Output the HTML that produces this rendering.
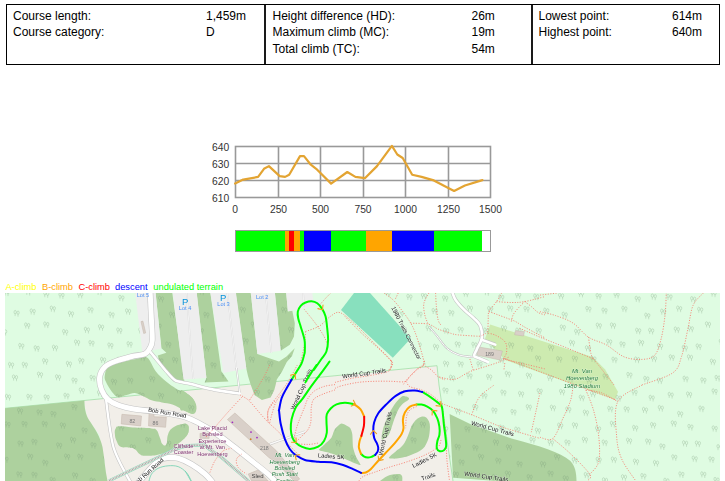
<!DOCTYPE html>
<html><head><meta charset="utf-8">
<style>
html,body{margin:0;padding:0;background:#fff;}
body{width:725px;height:481px;position:relative;overflow:hidden;font-family:"Liberation Sans",sans-serif;color:#000;}
.tbl{position:absolute;left:6px;top:4px;width:712px;height:59px;border:1px solid #000;}
.vl{position:absolute;top:0;width:1px;height:59px;background:#1a1a1a;}
.t{position:absolute;font-size:12px;line-height:16px;white-space:nowrap;}
.lg{position:absolute;top:282px;font-size:9.3px;line-height:11px;white-space:nowrap;}
#map{position:absolute;left:5px;top:293px;width:715px;height:188px;}
#chart{position:absolute;left:0;top:0;width:725px;height:293px;}
</style></head><body>
<div class="tbl">
<div class="vl" style="left:257px;width:2px"></div>
<div class="vl" style="left:524px;width:2px"></div>
</div>
<div class="t" style="left:13px;top:8px">Course length:</div>
<div class="t" style="left:13px;top:24.3px">Course category:</div>
<div class="t" style="left:206px;top:8px">1,459m</div>
<div class="t" style="left:206px;top:24.3px">D</div>
<div class="t" style="left:272.5px;top:8px">Height difference (HD):</div>
<div class="t" style="left:272.5px;top:24.3px">Maximum climb (MC):</div>
<div class="t" style="left:272.5px;top:40.6px">Total climb (TC):</div>
<div class="t" style="left:471.5px;top:8px">26m</div>
<div class="t" style="left:471.5px;top:24.3px">19m</div>
<div class="t" style="left:471.5px;top:40.6px">54m</div>
<div class="t" style="left:538.5px;top:8px">Lowest point:</div>
<div class="t" style="left:538.5px;top:24.3px">Highest point:</div>
<div class="t" style="left:672px;top:8px">614m</div>
<div class="t" style="left:672px;top:24.3px">640m</div>

<svg id="chart" viewBox="0 0 725 293">
<g stroke="#999" stroke-width="1.6" fill="none">
<rect x="235.5" y="146.5" width="255" height="51"/>
<path d="M235 163.5H491M235 180.5H491M278.5 146V198M320.5 146V198M363.5 146V198M405.5 146V198M448.5 146V198"/>
</g>
<polyline fill="none" stroke="#e3a432" stroke-width="2.2" stroke-linejoin="round" stroke-linecap="round" points="235.1,183.6 243.2,179.6 258.1,176.9 264,168.8 268.9,166.1 279.7,176.1 285.1,176.9 289.2,174.7 300,156.1 304,156.1 310.8,164.7 316.2,168.8 331.1,183.6 347.3,172 355.4,176.9 364.9,178.2 377,166.1 391.9,145.8 397.3,154.5 402.7,158 412.2,174.7 421.6,176.9 433.8,180.4 454.1,191 464.9,185.5 482.4,180.1"/>
<g font-family="Liberation Sans, sans-serif" font-size="10.3" fill="#333">
<g text-anchor="end"><text x="229.3" y="150.6">640</text><text x="229.3" y="167.6">630</text><text x="229.3" y="184.6">620</text><text x="229.3" y="201.6">610</text></g>
<g text-anchor="middle"><text x="235" y="212.6">0</text><text x="278.5" y="212.6">250</text><text x="320.5" y="212.6">500</text><text x="363" y="212.6">750</text><text x="405.5" y="212.6">1000</text><text x="448.5" y="212.6">1250</text><text x="490.5" y="212.6">1500</text></g>
</g>
<g shape-rendering="crispEdges">
<rect x="235" y="230" width="256" height="22" fill="#fff"/>
<rect x="235" y="230" width="50" height="22" fill="#00ff00"/>
<rect x="285" y="230" width="4" height="22" fill="#ffa500"/>
<rect x="289" y="230" width="5" height="22" fill="#ff0000"/>
<rect x="294" y="230" width="6" height="22" fill="#ffa500"/>
<rect x="300" y="230" width="4" height="22" fill="#00ff00"/>
<rect x="304" y="230" width="27" height="22" fill="#0000ff"/>
<rect x="331" y="230" width="35" height="22" fill="#00ff00"/>
<rect x="366" y="230" width="26" height="22" fill="#ffa500"/>
<rect x="392" y="230" width="42" height="22" fill="#0000ff"/>
<rect x="434" y="230" width="48" height="22" fill="#00ff00"/>
<rect x="235.5" y="230.5" width="255" height="21" fill="none" stroke="#999"/>
</g>
</svg>

<div class="lg" style="left:5.4px;color:#ffff00">A-climb</div>
<div class="lg" style="left:42px;color:#ffa500">B-climb</div>
<div class="lg" style="left:78.5px;color:#ff0000">C-climb</div>
<div class="lg" style="left:115px;color:#0000ff">descent</div>
<div class="lg" style="left:153.3px;color:#00ff00">undulated terrain</div>

<svg id="map" viewBox="5 293 715 188">
<rect x="5" y="293" width="715" height="188" fill="#dffce2"/>
<path d="M84,400.5 L437,365.7 L439,385 L453,481 L106.8,481 L104.3,459.5 L99.3,434.7 L86.9,417.3Z" fill="#f2efe9" />
<path d="M5,408.3 L437,365.7 L439,385 L453,481" fill="none" stroke="#a3dfa8" stroke-width="0.8"/>
<path d="M5,408.3 L84.4,400.5 C84.5,408 85.5,414 89,420 C95,429 100,436 102.5,447 C104.5,458 105,470 107.5,481 L5,481Z" fill="#add19e" />
<path d="M155.6,293 L172.3,293 L184.4,381 L176,379.5 L168,372 L159.6,362.5 L157.8,355.6 L166.4,352.8 L161.5,348.2Z" fill="#add19e" />
<path d="M196.6,293 L210.4,293 L221.3,371.2 L228.5,381.6 L204.6,382.6 L206.4,378Z" fill="#add19e" />
<path d="M235.6,293 L250.8,293 L257.4,354 L270,358.5 L279,361.5 L286.5,356.5 L294.7,348.3 L292,356 L286.8,362 L281.8,371.9 L276.8,379.4 L275.6,385 L274.3,390 L270.6,397.4 L261.9,399.9 L254.5,394.9 L250.8,385 L248,376 L246.3,368.5Z" fill="#add19e" />
<path d="M274.9,293 L286.2,293 L287.9,311.6 L292.3,310.8 L294.8,323.2 L294,336.5 L289.8,344.8 L280.7,350.7Z" fill="#add19e" />
<path d="M104.8,375.4 C105.2,373.0 105.7,369.1 107.9,367.0 C110.2,364.9 113.5,364.3 118.3,362.9 C123.1,361.5 132.2,359.6 137.0,358.7 C141.8,357.8 144.3,355.6 147.4,357.7 C150.5,359.8 152.6,367.2 155.7,371.2 C158.8,375.2 162.6,378.7 166.1,381.6 C169.6,384.6 172.7,386.6 176.5,388.9 C180.3,391.1 185.9,392.9 189.0,395.1 C192.1,397.4 194.1,400.0 195.3,402.4 C196.5,404.8 196.7,407.8 196.3,409.7 C196.0,411.6 195.1,413.7 193.2,413.9 C191.3,414.1 188.4,412.3 184.9,410.7 C181.4,409.1 176.2,405.9 172.4,404.5 C168.6,403.1 165.5,403.1 162.0,402.4 C158.5,401.7 154.7,401.3 151.6,400.3 C148.5,399.3 146.1,397.4 143.3,396.2 C140.5,395.0 137.7,393.3 134.9,393.1 C132.1,392.9 129.4,394.4 126.6,395.1 C123.8,395.8 120.7,397.7 118.3,397.2 C115.9,396.7 114.1,394.6 112.0,392.0 C109.9,389.4 107.0,384.4 105.8,381.6 C104.6,378.8 104.4,377.8 104.8,375.4Z" fill="#add19e" />
<path d="M115.7,428.4 C116.9,426.6 115.4,426.5 119.9,426.3 C124.4,426.1 127.5,427.1 134.9,427.6 C142.3,428.1 146.5,427.8 151.5,428.4 C156.5,429.0 154.6,428.0 156.5,430.1 C158.4,432.2 158.4,434.4 159.8,437.6 C161.2,440.8 160.8,442.4 162.3,443.9 C163.8,445.4 165.0,446.5 166.4,444.2 C167.8,441.9 166.5,438.1 168.1,434.2 C169.7,430.3 170.0,429.9 173.1,427.6 C176.2,425.3 178.1,425.1 181.4,424.3 C184.7,423.5 185.4,423.1 187.2,424.3 C188.9,425.5 189.1,426.6 188.9,429.3 C188.7,432.0 188.5,432.8 186.4,435.9 C184.3,439.0 183.2,439.5 179.7,442.6 C176.2,445.7 176.0,446.5 171.4,449.2 C166.8,451.9 165.6,452.7 159.8,454.2 C154.0,455.7 151.2,455.8 146.5,455.8 C141.8,455.8 142.5,455.7 139.8,454.2 C137.1,452.7 137.6,450.8 134.9,449.2 C132.2,447.6 131.5,448.1 128.2,447.5 C124.9,446.9 123.4,448.2 120.7,446.7 C118.0,445.2 118.0,443.8 116.6,440.9 C115.2,438.0 115.1,437.1 114.9,434.2 C114.7,431.3 114.5,430.2 115.7,428.4Z" fill="#add19e" />
<path d="M180.0,391.2 C181.2,388.7 185.1,392.2 187.4,393.7 C189.7,395.1 192.2,397.4 193.7,399.9 C195.1,402.4 196.3,406.3 196.1,408.6 C195.9,410.9 194.2,413.2 192.4,413.6 C190.6,414.0 187.1,411.9 185.0,411.1 C182.9,410.3 180.8,411.9 180.0,408.6 C179.2,405.3 178.8,393.7 180.0,391.2Z" fill="#add19e" />
<path d="M185.0,424.3 C185.4,422.8 186.9,426.2 187.5,427.6 C188.1,429.0 188.7,431.1 188.3,432.6 C187.9,434.1 185.6,438.1 185.0,436.7 C184.4,435.3 184.6,425.8 185.0,424.3Z" fill="#add19e" />
<path d="M319.0,450.0 C318.7,449.2 323.6,445.4 324.8,444.2 C326.1,443.0 330.5,439.1 331.5,437.6 C332.5,436.1 333.8,430.7 334.8,429.3 C335.8,427.9 340.0,423.6 341.5,423.4 C343.0,423.2 348.7,426.5 349.8,427.6 C350.9,428.7 352.0,432.2 352.3,434.2 C352.6,436.2 352.7,445.2 353.1,447.5 C353.5,449.8 355.6,455.8 356.4,457.5 C357.1,459.2 361.1,464.6 360.6,465.0 C360.1,465.4 353.6,462.6 351.4,461.7 C349.1,460.8 340.4,456.7 338.1,455.8 C335.8,454.9 330.1,453.1 328.2,452.5 C326.3,451.9 319.3,450.8 319.0,450.0Z" fill="#add19e" />
<path d="M381.6,438.2 C381.6,435.2 382.6,429.5 384.9,423.2 C387.2,416.9 390.0,411.7 393.2,406.6 C396.4,401.5 398.4,399.6 400.7,397.5 C403.0,395.4 403.2,396.0 404.9,396.3 C406.6,396.6 409.7,397.4 409.0,399.1 C408.3,400.8 404.1,402.2 401.6,405.0 C399.1,407.8 398.4,409.3 396.6,413.3 C394.8,417.3 393.9,420.8 392.4,424.9 C390.9,429.0 390.6,431.3 389.1,434.0 C387.6,436.7 386.4,437.4 384.9,438.2 C383.4,439.0 381.6,441.2 381.6,438.2Z" fill="#add19e" />
<path d="M389.1,457.3 C389.9,455.9 392.9,454.0 395.7,451.5 C398.5,449.0 400.7,448.1 403.2,444.8 C405.7,441.5 406.2,439.2 408.2,434.9 C410.2,430.6 410.4,426.9 413.2,423.2 C416.0,419.5 419.1,416.9 422.3,416.6 C425.5,416.3 427.6,418.3 429.0,421.6 C430.4,424.9 430.0,428.9 429.5,433.2 C429.0,437.5 428.1,439.9 426.5,443.2 C424.9,446.5 424.5,447.5 421.5,449.8 C418.5,452.1 415.8,453.1 411.5,454.8 C407.2,456.5 403.9,457.4 399.9,458.1 C395.9,458.8 393.8,458.7 391.6,458.5 C389.4,458.3 388.3,458.7 389.1,457.3Z" fill="#add19e" />
<path d="M449.6,414.1 L470.7,424.3 L511.4,438.5 C540,446 560,452 570.4,460.9 C575,466 576.5,472 576.5,481 L497,481 L453,477.8Z" fill="#add19e" />
<path d="M380,481 C381.5,480.0 384.1,477.4 387.5,476 C390.9,474.6 394.2,474.1 397,474 C399.8,473.9 400.6,474.0 401.7,475.4 C402.8,476.8 402.2,479.9 402.3,481Z" fill="#add19e" />
<path d="M341,309.9 L354,293 L370,293 L410.8,338.4 L392.8,357.8Z" fill="#88e0be" />
<path d="M490.2,324.6 L592.7,357.1 L604.9,369.3 L618,391.7 L615.1,399.8 L505.3,360 L485,338.8Z" fill="#cdebb0" />
<clipPath id="forestclip"><path d="M5,293 L150,293 L152,340 L149,349 L131,356 L115,361 L104,368 L99,378 L101,390 L106,398 L84,400.5 L5,408.3Z"/><path d="M383.6,293 L720,293 L720,481 L453,481 L439,385 L437,365.7 L423.3,364.5 L422,354.5 L418.3,342.1 L409.7,327.2 L401,314.8 L394.8,302.4Z"/><path d="M5,408.3 L84.4,400.5 C84.5,408 85.5,414 89,420 C95,429 100,436 102.5,447 C104.5,458 105,470 107.5,481 L5,481Z"/><path d="M155.6,293 L172.3,293 L184.4,381 L176,379.5 L168,372 L159.6,362.5 L157.8,355.6 L166.4,352.8 L161.5,348.2Z"/><path d="M196.6,293 L210.4,293 L221.3,371.2 L228.5,381.6 L204.6,382.6 L206.4,378Z"/><path d="M235.6,293 L250.8,293 L257.4,354 L270,358.5 L279,361.5 L286.5,356.5 L294.7,348.3 L292,356 L286.8,362 L281.8,371.9 L276.8,379.4 L275.6,385 L274.3,390 L270.6,397.4 L261.9,399.9 L254.5,394.9 L250.8,385 L248,376 L246.3,368.5Z"/><path d="M274.9,293 L286.2,293 L287.9,311.6 L292.3,310.8 L294.8,323.2 L294,336.5 L289.8,344.8 L280.7,350.7Z"/><path d="M104.8,375.4 C105.2,373.0 105.7,369.1 107.9,367.0 C110.2,364.9 113.5,364.3 118.3,362.9 C123.1,361.5 132.2,359.6 137.0,358.7 C141.8,357.8 144.3,355.6 147.4,357.7 C150.5,359.8 152.6,367.2 155.7,371.2 C158.8,375.2 162.6,378.7 166.1,381.6 C169.6,384.6 172.7,386.6 176.5,388.9 C180.3,391.1 185.9,392.9 189.0,395.1 C192.1,397.4 194.1,400.0 195.3,402.4 C196.5,404.8 196.7,407.8 196.3,409.7 C196.0,411.6 195.1,413.7 193.2,413.9 C191.3,414.1 188.4,412.3 184.9,410.7 C181.4,409.1 176.2,405.9 172.4,404.5 C168.6,403.1 165.5,403.1 162.0,402.4 C158.5,401.7 154.7,401.3 151.6,400.3 C148.5,399.3 146.1,397.4 143.3,396.2 C140.5,395.0 137.7,393.3 134.9,393.1 C132.1,392.9 129.4,394.4 126.6,395.1 C123.8,395.8 120.7,397.7 118.3,397.2 C115.9,396.7 114.1,394.6 112.0,392.0 C109.9,389.4 107.0,384.4 105.8,381.6 C104.6,378.8 104.4,377.8 104.8,375.4Z"/><path d="M115.7,428.4 C116.9,426.6 115.4,426.5 119.9,426.3 C124.4,426.1 127.5,427.1 134.9,427.6 C142.3,428.1 146.5,427.8 151.5,428.4 C156.5,429.0 154.6,428.0 156.5,430.1 C158.4,432.2 158.4,434.4 159.8,437.6 C161.2,440.8 160.8,442.4 162.3,443.9 C163.8,445.4 165.0,446.5 166.4,444.2 C167.8,441.9 166.5,438.1 168.1,434.2 C169.7,430.3 170.0,429.9 173.1,427.6 C176.2,425.3 178.1,425.1 181.4,424.3 C184.7,423.5 185.4,423.1 187.2,424.3 C188.9,425.5 189.1,426.6 188.9,429.3 C188.7,432.0 188.5,432.8 186.4,435.9 C184.3,439.0 183.2,439.5 179.7,442.6 C176.2,445.7 176.0,446.5 171.4,449.2 C166.8,451.9 165.6,452.7 159.8,454.2 C154.0,455.7 151.2,455.8 146.5,455.8 C141.8,455.8 142.5,455.7 139.8,454.2 C137.1,452.7 137.6,450.8 134.9,449.2 C132.2,447.6 131.5,448.1 128.2,447.5 C124.9,446.9 123.4,448.2 120.7,446.7 C118.0,445.2 118.0,443.8 116.6,440.9 C115.2,438.0 115.1,437.1 114.9,434.2 C114.7,431.3 114.5,430.2 115.7,428.4Z"/><path d="M180.0,391.2 C181.2,388.7 185.1,392.2 187.4,393.7 C189.7,395.1 192.2,397.4 193.7,399.9 C195.1,402.4 196.3,406.3 196.1,408.6 C195.9,410.9 194.2,413.2 192.4,413.6 C190.6,414.0 187.1,411.9 185.0,411.1 C182.9,410.3 180.8,411.9 180.0,408.6 C179.2,405.3 178.8,393.7 180.0,391.2Z"/><path d="M185.0,424.3 C185.4,422.8 186.9,426.2 187.5,427.6 C188.1,429.0 188.7,431.1 188.3,432.6 C187.9,434.1 185.6,438.1 185.0,436.7 C184.4,435.3 184.6,425.8 185.0,424.3Z"/><path d="M319.0,450.0 C318.7,449.2 323.6,445.4 324.8,444.2 C326.1,443.0 330.5,439.1 331.5,437.6 C332.5,436.1 333.8,430.7 334.8,429.3 C335.8,427.9 340.0,423.6 341.5,423.4 C343.0,423.2 348.7,426.5 349.8,427.6 C350.9,428.7 352.0,432.2 352.3,434.2 C352.6,436.2 352.7,445.2 353.1,447.5 C353.5,449.8 355.6,455.8 356.4,457.5 C357.1,459.2 361.1,464.6 360.6,465.0 C360.1,465.4 353.6,462.6 351.4,461.7 C349.1,460.8 340.4,456.7 338.1,455.8 C335.8,454.9 330.1,453.1 328.2,452.5 C326.3,451.9 319.3,450.8 319.0,450.0Z"/><path d="M381.6,438.2 C381.6,435.2 382.6,429.5 384.9,423.2 C387.2,416.9 390.0,411.7 393.2,406.6 C396.4,401.5 398.4,399.6 400.7,397.5 C403.0,395.4 403.2,396.0 404.9,396.3 C406.6,396.6 409.7,397.4 409.0,399.1 C408.3,400.8 404.1,402.2 401.6,405.0 C399.1,407.8 398.4,409.3 396.6,413.3 C394.8,417.3 393.9,420.8 392.4,424.9 C390.9,429.0 390.6,431.3 389.1,434.0 C387.6,436.7 386.4,437.4 384.9,438.2 C383.4,439.0 381.6,441.2 381.6,438.2Z"/><path d="M389.1,457.3 C389.9,455.9 392.9,454.0 395.7,451.5 C398.5,449.0 400.7,448.1 403.2,444.8 C405.7,441.5 406.2,439.2 408.2,434.9 C410.2,430.6 410.4,426.9 413.2,423.2 C416.0,419.5 419.1,416.9 422.3,416.6 C425.5,416.3 427.6,418.3 429.0,421.6 C430.4,424.9 430.0,428.9 429.5,433.2 C429.0,437.5 428.1,439.9 426.5,443.2 C424.9,446.5 424.5,447.5 421.5,449.8 C418.5,452.1 415.8,453.1 411.5,454.8 C407.2,456.5 403.9,457.4 399.9,458.1 C395.9,458.8 393.8,458.7 391.6,458.5 C389.4,458.3 388.3,458.7 389.1,457.3Z"/><path d="M449.6,414.1 L470.7,424.3 L511.4,438.5 C540,446 560,452 570.4,460.9 C575,466 576.5,472 576.5,481 L497,481 L453,477.8Z"/><path d="M380,481 C381.5,480.0 384.1,477.4 387.5,476 C390.9,474.6 394.2,474.1 397,474 C399.8,473.9 400.6,474.0 401.7,475.4 C402.8,476.8 402.2,479.9 402.3,481Z"/></clipPath>
<g clip-path="url(#forestclip)"><path fill="none" stroke="#7f9f7f" stroke-width="0.5" stroke-opacity="0.55" d="M4.0,291.5a1.15,1.7 0 1,0 2.3,0a1.15,1.7 0 1,0 -2.3,0M5.1,293.2v2.3M6.9,292.1a1.15,1.7 0 1,0 2.3,0a1.15,1.7 0 1,0 -2.3,0M8.0,293.8v2.3M25.6,290.9a1.15,1.7 0 1,0 2.3,0a1.15,1.7 0 1,0 -2.3,0M26.8,292.6v2.3M28.5,291.5a1.15,1.7 0 1,0 2.3,0a1.15,1.7 0 1,0 -2.3,0M29.7,293.2v2.3M43.7,293.2a1.15,1.7 0 1,0 2.3,0a1.15,1.7 0 1,0 -2.3,0M44.8,294.9v2.3M46.6,293.8a1.15,1.7 0 1,0 2.3,0a1.15,1.7 0 1,0 -2.3,0M47.7,295.5v2.3M58.9,294.4a1.15,1.7 0 1,0 2.3,0a1.15,1.7 0 1,0 -2.3,0M60.0,296.1v2.3M61.8,295.0a1.15,1.7 0 1,0 2.3,0a1.15,1.7 0 1,0 -2.3,0M62.9,296.7v2.3M77.7,293.8a1.15,1.7 0 1,0 2.3,0a1.15,1.7 0 1,0 -2.3,0M78.8,295.5v2.3M80.6,294.4a1.15,1.7 0 1,0 2.3,0a1.15,1.7 0 1,0 -2.3,0M81.7,296.1v2.3M97.0,291.0a1.15,1.7 0 1,0 2.3,0a1.15,1.7 0 1,0 -2.3,0M98.1,292.7v2.3M99.9,291.6a1.15,1.7 0 1,0 2.3,0a1.15,1.7 0 1,0 -2.3,0M101.0,293.3v2.3M118.8,296.9a1.15,1.7 0 1,0 2.3,0a1.15,1.7 0 1,0 -2.3,0M119.9,298.6v2.3M121.7,297.5a1.15,1.7 0 1,0 2.3,0a1.15,1.7 0 1,0 -2.3,0M122.8,299.2v2.3M135.4,292.1a1.15,1.7 0 1,0 2.3,0a1.15,1.7 0 1,0 -2.3,0M136.5,293.8v2.3M138.3,292.7a1.15,1.7 0 1,0 2.3,0a1.15,1.7 0 1,0 -2.3,0M139.4,294.4v2.3M158.4,297.9a1.15,1.7 0 1,0 2.3,0a1.15,1.7 0 1,0 -2.3,0M159.6,299.6v2.3M161.3,298.5a1.15,1.7 0 1,0 2.3,0a1.15,1.7 0 1,0 -2.3,0M162.5,300.2v2.3M177.0,293.5a1.15,1.7 0 1,0 2.3,0a1.15,1.7 0 1,0 -2.3,0M178.2,295.2v2.3M179.9,294.1a1.15,1.7 0 1,0 2.3,0a1.15,1.7 0 1,0 -2.3,0M181.1,295.8v2.3M199.2,290.7a1.15,1.7 0 1,0 2.3,0a1.15,1.7 0 1,0 -2.3,0M200.4,292.4v2.3M202.1,291.3a1.15,1.7 0 1,0 2.3,0a1.15,1.7 0 1,0 -2.3,0M203.3,293.0v2.3M217.3,292.6a1.15,1.7 0 1,0 2.3,0a1.15,1.7 0 1,0 -2.3,0M218.4,294.3v2.3M220.2,293.2a1.15,1.7 0 1,0 2.3,0a1.15,1.7 0 1,0 -2.3,0M221.3,294.9v2.3M230.6,291.2a1.15,1.7 0 1,0 2.3,0a1.15,1.7 0 1,0 -2.3,0M231.7,292.9v2.3M233.5,291.8a1.15,1.7 0 1,0 2.3,0a1.15,1.7 0 1,0 -2.3,0M234.6,293.5v2.3M250.9,296.8a1.15,1.7 0 1,0 2.3,0a1.15,1.7 0 1,0 -2.3,0M252.0,298.5v2.3M253.8,297.4a1.15,1.7 0 1,0 2.3,0a1.15,1.7 0 1,0 -2.3,0M254.9,299.1v2.3M268.8,295.0a1.15,1.7 0 1,0 2.3,0a1.15,1.7 0 1,0 -2.3,0M270.0,296.7v2.3M271.7,295.6a1.15,1.7 0 1,0 2.3,0a1.15,1.7 0 1,0 -2.3,0M272.9,297.3v2.3M291.5,293.3a1.15,1.7 0 1,0 2.3,0a1.15,1.7 0 1,0 -2.3,0M292.7,295.0v2.3M294.4,293.9a1.15,1.7 0 1,0 2.3,0a1.15,1.7 0 1,0 -2.3,0M295.6,295.6v2.3M309.8,290.8a1.15,1.7 0 1,0 2.3,0a1.15,1.7 0 1,0 -2.3,0M310.9,292.5v2.3M312.7,291.4a1.15,1.7 0 1,0 2.3,0a1.15,1.7 0 1,0 -2.3,0M313.8,293.1v2.3M324.9,291.9a1.15,1.7 0 1,0 2.3,0a1.15,1.7 0 1,0 -2.3,0M326.0,293.6v2.3M327.8,292.5a1.15,1.7 0 1,0 2.3,0a1.15,1.7 0 1,0 -2.3,0M328.9,294.2v2.3M348.8,293.7a1.15,1.7 0 1,0 2.3,0a1.15,1.7 0 1,0 -2.3,0M350.0,295.4v2.3M351.7,294.3a1.15,1.7 0 1,0 2.3,0a1.15,1.7 0 1,0 -2.3,0M352.9,296.0v2.3M364.9,295.0a1.15,1.7 0 1,0 2.3,0a1.15,1.7 0 1,0 -2.3,0M366.1,296.7v2.3M367.8,295.6a1.15,1.7 0 1,0 2.3,0a1.15,1.7 0 1,0 -2.3,0M369.0,297.3v2.3M385.0,292.7a1.15,1.7 0 1,0 2.3,0a1.15,1.7 0 1,0 -2.3,0M386.2,294.4v2.3M387.9,293.3a1.15,1.7 0 1,0 2.3,0a1.15,1.7 0 1,0 -2.3,0M389.1,295.0v2.3M406.8,295.9a1.15,1.7 0 1,0 2.3,0a1.15,1.7 0 1,0 -2.3,0M407.9,297.6v2.3M409.7,296.5a1.15,1.7 0 1,0 2.3,0a1.15,1.7 0 1,0 -2.3,0M410.8,298.2v2.3M421.4,294.9a1.15,1.7 0 1,0 2.3,0a1.15,1.7 0 1,0 -2.3,0M422.5,296.6v2.3M424.3,295.5a1.15,1.7 0 1,0 2.3,0a1.15,1.7 0 1,0 -2.3,0M425.4,297.2v2.3M442.6,297.3a1.15,1.7 0 1,0 2.3,0a1.15,1.7 0 1,0 -2.3,0M443.8,299.0v2.3M445.5,297.9a1.15,1.7 0 1,0 2.3,0a1.15,1.7 0 1,0 -2.3,0M446.7,299.6v2.3M463.2,292.6a1.15,1.7 0 1,0 2.3,0a1.15,1.7 0 1,0 -2.3,0M464.4,294.3v2.3M466.1,293.2a1.15,1.7 0 1,0 2.3,0a1.15,1.7 0 1,0 -2.3,0M467.3,294.9v2.3M484.2,291.2a1.15,1.7 0 1,0 2.3,0a1.15,1.7 0 1,0 -2.3,0M485.4,292.9v2.3M487.1,291.8a1.15,1.7 0 1,0 2.3,0a1.15,1.7 0 1,0 -2.3,0M488.3,293.5v2.3M498.7,296.4a1.15,1.7 0 1,0 2.3,0a1.15,1.7 0 1,0 -2.3,0M499.9,298.1v2.3M501.6,297.0a1.15,1.7 0 1,0 2.3,0a1.15,1.7 0 1,0 -2.3,0M502.8,298.7v2.3M515.6,294.2a1.15,1.7 0 1,0 2.3,0a1.15,1.7 0 1,0 -2.3,0M516.8,295.9v2.3M518.5,294.8a1.15,1.7 0 1,0 2.3,0a1.15,1.7 0 1,0 -2.3,0M519.7,296.5v2.3M533.7,295.6a1.15,1.7 0 1,0 2.3,0a1.15,1.7 0 1,0 -2.3,0M534.9,297.3v2.3M536.6,296.2a1.15,1.7 0 1,0 2.3,0a1.15,1.7 0 1,0 -2.3,0M537.8,297.9v2.3M558.5,294.9a1.15,1.7 0 1,0 2.3,0a1.15,1.7 0 1,0 -2.3,0M559.7,296.6v2.3M561.4,295.5a1.15,1.7 0 1,0 2.3,0a1.15,1.7 0 1,0 -2.3,0M562.6,297.2v2.3M578.4,292.8a1.15,1.7 0 1,0 2.3,0a1.15,1.7 0 1,0 -2.3,0M579.6,294.5v2.3M581.3,293.4a1.15,1.7 0 1,0 2.3,0a1.15,1.7 0 1,0 -2.3,0M582.5,295.1v2.3M596.0,295.1a1.15,1.7 0 1,0 2.3,0a1.15,1.7 0 1,0 -2.3,0M597.1,296.8v2.3M598.9,295.7a1.15,1.7 0 1,0 2.3,0a1.15,1.7 0 1,0 -2.3,0M600.0,297.4v2.3M614.0,293.9a1.15,1.7 0 1,0 2.3,0a1.15,1.7 0 1,0 -2.3,0M615.2,295.6v2.3M616.9,294.5a1.15,1.7 0 1,0 2.3,0a1.15,1.7 0 1,0 -2.3,0M618.1,296.2v2.3M635.1,297.9a1.15,1.7 0 1,0 2.3,0a1.15,1.7 0 1,0 -2.3,0M636.3,299.6v2.3M638.0,298.5a1.15,1.7 0 1,0 2.3,0a1.15,1.7 0 1,0 -2.3,0M639.2,300.2v2.3M651.2,295.6a1.15,1.7 0 1,0 2.3,0a1.15,1.7 0 1,0 -2.3,0M652.3,297.3v2.3M654.1,296.2a1.15,1.7 0 1,0 2.3,0a1.15,1.7 0 1,0 -2.3,0M655.2,297.9v2.3M666.9,295.9a1.15,1.7 0 1,0 2.3,0a1.15,1.7 0 1,0 -2.3,0M668.0,297.6v2.3M669.8,296.5a1.15,1.7 0 1,0 2.3,0a1.15,1.7 0 1,0 -2.3,0M670.9,298.2v2.3M690.6,298.2a1.15,1.7 0 1,0 2.3,0a1.15,1.7 0 1,0 -2.3,0M691.7,299.9v2.3M693.5,298.8a1.15,1.7 0 1,0 2.3,0a1.15,1.7 0 1,0 -2.3,0M694.6,300.5v2.3M711.0,292.6a1.15,1.7 0 1,0 2.3,0a1.15,1.7 0 1,0 -2.3,0M712.1,294.3v2.3M713.9,293.2a1.15,1.7 0 1,0 2.3,0a1.15,1.7 0 1,0 -2.3,0M715.0,294.9v2.3M14.0,312.1a1.15,1.7 0 1,0 2.3,0a1.15,1.7 0 1,0 -2.3,0M15.1,313.8v2.3M16.9,312.7a1.15,1.7 0 1,0 2.3,0a1.15,1.7 0 1,0 -2.3,0M18.0,314.4v2.3M30.1,310.5a1.15,1.7 0 1,0 2.3,0a1.15,1.7 0 1,0 -2.3,0M31.2,312.2v2.3M33.0,311.1a1.15,1.7 0 1,0 2.3,0a1.15,1.7 0 1,0 -2.3,0M34.1,312.8v2.3M50.2,307.7a1.15,1.7 0 1,0 2.3,0a1.15,1.7 0 1,0 -2.3,0M51.4,309.4v2.3M53.1,308.3a1.15,1.7 0 1,0 2.3,0a1.15,1.7 0 1,0 -2.3,0M54.3,310.0v2.3M68.4,312.9a1.15,1.7 0 1,0 2.3,0a1.15,1.7 0 1,0 -2.3,0M69.5,314.6v2.3M71.3,313.5a1.15,1.7 0 1,0 2.3,0a1.15,1.7 0 1,0 -2.3,0M72.4,315.2v2.3M87.9,308.8a1.15,1.7 0 1,0 2.3,0a1.15,1.7 0 1,0 -2.3,0M89.1,310.5v2.3M90.8,309.4a1.15,1.7 0 1,0 2.3,0a1.15,1.7 0 1,0 -2.3,0M92.0,311.1v2.3M109.0,313.8a1.15,1.7 0 1,0 2.3,0a1.15,1.7 0 1,0 -2.3,0M110.2,315.5v2.3M111.9,314.4a1.15,1.7 0 1,0 2.3,0a1.15,1.7 0 1,0 -2.3,0M113.1,316.1v2.3M125.5,310.4a1.15,1.7 0 1,0 2.3,0a1.15,1.7 0 1,0 -2.3,0M126.7,312.1v2.3M128.4,311.0a1.15,1.7 0 1,0 2.3,0a1.15,1.7 0 1,0 -2.3,0M129.6,312.7v2.3M148.3,313.9a1.15,1.7 0 1,0 2.3,0a1.15,1.7 0 1,0 -2.3,0M149.4,315.6v2.3M151.2,314.5a1.15,1.7 0 1,0 2.3,0a1.15,1.7 0 1,0 -2.3,0M152.3,316.2v2.3M169.5,313.7a1.15,1.7 0 1,0 2.3,0a1.15,1.7 0 1,0 -2.3,0M170.6,315.4v2.3M172.4,314.3a1.15,1.7 0 1,0 2.3,0a1.15,1.7 0 1,0 -2.3,0M173.5,316.0v2.3M184.1,310.1a1.15,1.7 0 1,0 2.3,0a1.15,1.7 0 1,0 -2.3,0M185.3,311.8v2.3M187.0,310.7a1.15,1.7 0 1,0 2.3,0a1.15,1.7 0 1,0 -2.3,0M188.2,312.4v2.3M203.8,313.9a1.15,1.7 0 1,0 2.3,0a1.15,1.7 0 1,0 -2.3,0M204.9,315.6v2.3M206.7,314.5a1.15,1.7 0 1,0 2.3,0a1.15,1.7 0 1,0 -2.3,0M207.8,316.2v2.3M227.6,308.0a1.15,1.7 0 1,0 2.3,0a1.15,1.7 0 1,0 -2.3,0M228.7,309.7v2.3M230.5,308.6a1.15,1.7 0 1,0 2.3,0a1.15,1.7 0 1,0 -2.3,0M231.6,310.3v2.3M240.3,308.7a1.15,1.7 0 1,0 2.3,0a1.15,1.7 0 1,0 -2.3,0M241.5,310.4v2.3M243.2,309.3a1.15,1.7 0 1,0 2.3,0a1.15,1.7 0 1,0 -2.3,0M244.4,311.0v2.3M259.8,310.7a1.15,1.7 0 1,0 2.3,0a1.15,1.7 0 1,0 -2.3,0M260.9,312.4v2.3M262.7,311.3a1.15,1.7 0 1,0 2.3,0a1.15,1.7 0 1,0 -2.3,0M263.8,313.0v2.3M281.6,308.9a1.15,1.7 0 1,0 2.3,0a1.15,1.7 0 1,0 -2.3,0M282.8,310.6v2.3M284.5,309.5a1.15,1.7 0 1,0 2.3,0a1.15,1.7 0 1,0 -2.3,0M285.7,311.2v2.3M295.9,310.2a1.15,1.7 0 1,0 2.3,0a1.15,1.7 0 1,0 -2.3,0M297.1,311.9v2.3M298.8,310.8a1.15,1.7 0 1,0 2.3,0a1.15,1.7 0 1,0 -2.3,0M300.0,312.5v2.3M317.9,311.3a1.15,1.7 0 1,0 2.3,0a1.15,1.7 0 1,0 -2.3,0M319.0,313.0v2.3M320.8,311.9a1.15,1.7 0 1,0 2.3,0a1.15,1.7 0 1,0 -2.3,0M321.9,313.6v2.3M341.5,312.3a1.15,1.7 0 1,0 2.3,0a1.15,1.7 0 1,0 -2.3,0M342.7,314.0v2.3M344.4,312.9a1.15,1.7 0 1,0 2.3,0a1.15,1.7 0 1,0 -2.3,0M345.6,314.6v2.3M357.0,311.7a1.15,1.7 0 1,0 2.3,0a1.15,1.7 0 1,0 -2.3,0M358.2,313.4v2.3M359.9,312.3a1.15,1.7 0 1,0 2.3,0a1.15,1.7 0 1,0 -2.3,0M361.1,314.0v2.3M377.3,307.2a1.15,1.7 0 1,0 2.3,0a1.15,1.7 0 1,0 -2.3,0M378.5,308.9v2.3M380.2,307.8a1.15,1.7 0 1,0 2.3,0a1.15,1.7 0 1,0 -2.3,0M381.4,309.5v2.3M398.1,313.0a1.15,1.7 0 1,0 2.3,0a1.15,1.7 0 1,0 -2.3,0M399.2,314.7v2.3M401.0,313.6a1.15,1.7 0 1,0 2.3,0a1.15,1.7 0 1,0 -2.3,0M402.1,315.3v2.3M416.9,313.2a1.15,1.7 0 1,0 2.3,0a1.15,1.7 0 1,0 -2.3,0M418.0,314.9v2.3M419.8,313.8a1.15,1.7 0 1,0 2.3,0a1.15,1.7 0 1,0 -2.3,0M420.9,315.5v2.3M432.0,310.0a1.15,1.7 0 1,0 2.3,0a1.15,1.7 0 1,0 -2.3,0M433.2,311.7v2.3M434.9,310.6a1.15,1.7 0 1,0 2.3,0a1.15,1.7 0 1,0 -2.3,0M436.1,312.3v2.3M448.7,311.9a1.15,1.7 0 1,0 2.3,0a1.15,1.7 0 1,0 -2.3,0M449.9,313.6v2.3M451.6,312.5a1.15,1.7 0 1,0 2.3,0a1.15,1.7 0 1,0 -2.3,0M452.8,314.2v2.3M467.4,307.3a1.15,1.7 0 1,0 2.3,0a1.15,1.7 0 1,0 -2.3,0M468.5,309.0v2.3M470.3,307.9a1.15,1.7 0 1,0 2.3,0a1.15,1.7 0 1,0 -2.3,0M471.4,309.6v2.3M487.6,308.1a1.15,1.7 0 1,0 2.3,0a1.15,1.7 0 1,0 -2.3,0M488.7,309.8v2.3M490.5,308.7a1.15,1.7 0 1,0 2.3,0a1.15,1.7 0 1,0 -2.3,0M491.6,310.4v2.3M507.6,307.2a1.15,1.7 0 1,0 2.3,0a1.15,1.7 0 1,0 -2.3,0M508.8,308.9v2.3M510.5,307.8a1.15,1.7 0 1,0 2.3,0a1.15,1.7 0 1,0 -2.3,0M511.7,309.5v2.3M523.9,308.0a1.15,1.7 0 1,0 2.3,0a1.15,1.7 0 1,0 -2.3,0M525.1,309.7v2.3M526.8,308.6a1.15,1.7 0 1,0 2.3,0a1.15,1.7 0 1,0 -2.3,0M528.0,310.3v2.3M543.7,309.7a1.15,1.7 0 1,0 2.3,0a1.15,1.7 0 1,0 -2.3,0M544.9,311.4v2.3M546.6,310.3a1.15,1.7 0 1,0 2.3,0a1.15,1.7 0 1,0 -2.3,0M547.8,312.0v2.3M562.1,313.8a1.15,1.7 0 1,0 2.3,0a1.15,1.7 0 1,0 -2.3,0M563.3,315.5v2.3M565.0,314.4a1.15,1.7 0 1,0 2.3,0a1.15,1.7 0 1,0 -2.3,0M566.2,316.1v2.3M585.8,308.0a1.15,1.7 0 1,0 2.3,0a1.15,1.7 0 1,0 -2.3,0M587.0,309.7v2.3M588.7,308.6a1.15,1.7 0 1,0 2.3,0a1.15,1.7 0 1,0 -2.3,0M589.9,310.3v2.3M601.9,309.6a1.15,1.7 0 1,0 2.3,0a1.15,1.7 0 1,0 -2.3,0M603.1,311.3v2.3M604.8,310.2a1.15,1.7 0 1,0 2.3,0a1.15,1.7 0 1,0 -2.3,0M606.0,311.9v2.3M621.8,307.8a1.15,1.7 0 1,0 2.3,0a1.15,1.7 0 1,0 -2.3,0M623.0,309.5v2.3M624.7,308.4a1.15,1.7 0 1,0 2.3,0a1.15,1.7 0 1,0 -2.3,0M625.9,310.1v2.3M644.7,314.7a1.15,1.7 0 1,0 2.3,0a1.15,1.7 0 1,0 -2.3,0M645.8,316.4v2.3M647.6,315.3a1.15,1.7 0 1,0 2.3,0a1.15,1.7 0 1,0 -2.3,0M648.7,317.0v2.3M660.6,310.7a1.15,1.7 0 1,0 2.3,0a1.15,1.7 0 1,0 -2.3,0M661.8,312.4v2.3M663.5,311.3a1.15,1.7 0 1,0 2.3,0a1.15,1.7 0 1,0 -2.3,0M664.7,313.0v2.3M676.6,307.6a1.15,1.7 0 1,0 2.3,0a1.15,1.7 0 1,0 -2.3,0M677.7,309.3v2.3M679.5,308.2a1.15,1.7 0 1,0 2.3,0a1.15,1.7 0 1,0 -2.3,0M680.6,309.9v2.3M697.6,308.9a1.15,1.7 0 1,0 2.3,0a1.15,1.7 0 1,0 -2.3,0M698.8,310.6v2.3M700.5,309.5a1.15,1.7 0 1,0 2.3,0a1.15,1.7 0 1,0 -2.3,0M701.7,311.2v2.3M720.5,308.1a1.15,1.7 0 1,0 2.3,0a1.15,1.7 0 1,0 -2.3,0M721.7,309.8v2.3M723.4,308.7a1.15,1.7 0 1,0 2.3,0a1.15,1.7 0 1,0 -2.3,0M724.6,310.4v2.3M1.6,330.9a1.15,1.7 0 1,0 2.3,0a1.15,1.7 0 1,0 -2.3,0M2.7,332.6v2.3M4.5,331.5a1.15,1.7 0 1,0 2.3,0a1.15,1.7 0 1,0 -2.3,0M5.6,333.2v2.3M24.6,324.5a1.15,1.7 0 1,0 2.3,0a1.15,1.7 0 1,0 -2.3,0M25.8,326.2v2.3M27.5,325.1a1.15,1.7 0 1,0 2.3,0a1.15,1.7 0 1,0 -2.3,0M28.7,326.8v2.3M43.7,323.5a1.15,1.7 0 1,0 2.3,0a1.15,1.7 0 1,0 -2.3,0M44.9,325.2v2.3M46.6,324.1a1.15,1.7 0 1,0 2.3,0a1.15,1.7 0 1,0 -2.3,0M47.8,325.8v2.3M62.6,331.1a1.15,1.7 0 1,0 2.3,0a1.15,1.7 0 1,0 -2.3,0M63.8,332.8v2.3M65.5,331.7a1.15,1.7 0 1,0 2.3,0a1.15,1.7 0 1,0 -2.3,0M66.7,333.4v2.3M84.3,328.9a1.15,1.7 0 1,0 2.3,0a1.15,1.7 0 1,0 -2.3,0M85.5,330.6v2.3M87.2,329.5a1.15,1.7 0 1,0 2.3,0a1.15,1.7 0 1,0 -2.3,0M88.4,331.2v2.3M98.5,326.2a1.15,1.7 0 1,0 2.3,0a1.15,1.7 0 1,0 -2.3,0M99.6,327.9v2.3M101.4,326.8a1.15,1.7 0 1,0 2.3,0a1.15,1.7 0 1,0 -2.3,0M102.5,328.5v2.3M116.7,329.5a1.15,1.7 0 1,0 2.3,0a1.15,1.7 0 1,0 -2.3,0M117.9,331.2v2.3M119.6,330.1a1.15,1.7 0 1,0 2.3,0a1.15,1.7 0 1,0 -2.3,0M120.8,331.8v2.3M138.7,329.5a1.15,1.7 0 1,0 2.3,0a1.15,1.7 0 1,0 -2.3,0M139.8,331.2v2.3M141.6,330.1a1.15,1.7 0 1,0 2.3,0a1.15,1.7 0 1,0 -2.3,0M142.7,331.8v2.3M156.0,325.1a1.15,1.7 0 1,0 2.3,0a1.15,1.7 0 1,0 -2.3,0M157.2,326.8v2.3M158.9,325.7a1.15,1.7 0 1,0 2.3,0a1.15,1.7 0 1,0 -2.3,0M160.1,327.4v2.3M178.9,331.2a1.15,1.7 0 1,0 2.3,0a1.15,1.7 0 1,0 -2.3,0M180.0,332.9v2.3M181.8,331.8a1.15,1.7 0 1,0 2.3,0a1.15,1.7 0 1,0 -2.3,0M182.9,333.5v2.3M198.2,329.7a1.15,1.7 0 1,0 2.3,0a1.15,1.7 0 1,0 -2.3,0M199.4,331.4v2.3M201.1,330.3a1.15,1.7 0 1,0 2.3,0a1.15,1.7 0 1,0 -2.3,0M202.3,332.0v2.3M216.9,329.2a1.15,1.7 0 1,0 2.3,0a1.15,1.7 0 1,0 -2.3,0M218.1,330.9v2.3M219.8,329.8a1.15,1.7 0 1,0 2.3,0a1.15,1.7 0 1,0 -2.3,0M221.0,331.5v2.3M231.2,327.4a1.15,1.7 0 1,0 2.3,0a1.15,1.7 0 1,0 -2.3,0M232.4,329.1v2.3M234.1,328.0a1.15,1.7 0 1,0 2.3,0a1.15,1.7 0 1,0 -2.3,0M235.3,329.7v2.3M251.2,323.5a1.15,1.7 0 1,0 2.3,0a1.15,1.7 0 1,0 -2.3,0M252.4,325.2v2.3M254.1,324.1a1.15,1.7 0 1,0 2.3,0a1.15,1.7 0 1,0 -2.3,0M255.3,325.8v2.3M267.6,325.5a1.15,1.7 0 1,0 2.3,0a1.15,1.7 0 1,0 -2.3,0M268.8,327.2v2.3M270.5,326.1a1.15,1.7 0 1,0 2.3,0a1.15,1.7 0 1,0 -2.3,0M271.7,327.8v2.3M288.5,328.8a1.15,1.7 0 1,0 2.3,0a1.15,1.7 0 1,0 -2.3,0M289.6,330.5v2.3M291.4,329.4a1.15,1.7 0 1,0 2.3,0a1.15,1.7 0 1,0 -2.3,0M292.5,331.1v2.3M313.1,326.9a1.15,1.7 0 1,0 2.3,0a1.15,1.7 0 1,0 -2.3,0M314.2,328.6v2.3M316.0,327.5a1.15,1.7 0 1,0 2.3,0a1.15,1.7 0 1,0 -2.3,0M317.1,329.2v2.3M331.9,331.2a1.15,1.7 0 1,0 2.3,0a1.15,1.7 0 1,0 -2.3,0M333.0,332.9v2.3M334.8,331.8a1.15,1.7 0 1,0 2.3,0a1.15,1.7 0 1,0 -2.3,0M335.9,333.5v2.3M351.0,326.2a1.15,1.7 0 1,0 2.3,0a1.15,1.7 0 1,0 -2.3,0M352.2,327.9v2.3M353.9,326.8a1.15,1.7 0 1,0 2.3,0a1.15,1.7 0 1,0 -2.3,0M355.1,328.5v2.3M364.2,325.1a1.15,1.7 0 1,0 2.3,0a1.15,1.7 0 1,0 -2.3,0M365.3,326.8v2.3M367.1,325.7a1.15,1.7 0 1,0 2.3,0a1.15,1.7 0 1,0 -2.3,0M368.2,327.4v2.3M383.0,324.9a1.15,1.7 0 1,0 2.3,0a1.15,1.7 0 1,0 -2.3,0M384.1,326.6v2.3M385.9,325.5a1.15,1.7 0 1,0 2.3,0a1.15,1.7 0 1,0 -2.3,0M387.0,327.2v2.3M405.4,330.5a1.15,1.7 0 1,0 2.3,0a1.15,1.7 0 1,0 -2.3,0M406.5,332.2v2.3M408.3,331.1a1.15,1.7 0 1,0 2.3,0a1.15,1.7 0 1,0 -2.3,0M409.4,332.8v2.3M426.1,327.1a1.15,1.7 0 1,0 2.3,0a1.15,1.7 0 1,0 -2.3,0M427.3,328.8v2.3M429.0,327.7a1.15,1.7 0 1,0 2.3,0a1.15,1.7 0 1,0 -2.3,0M430.2,329.4v2.3M443.6,329.7a1.15,1.7 0 1,0 2.3,0a1.15,1.7 0 1,0 -2.3,0M444.8,331.4v2.3M446.5,330.3a1.15,1.7 0 1,0 2.3,0a1.15,1.7 0 1,0 -2.3,0M447.7,332.0v2.3M458.1,328.6a1.15,1.7 0 1,0 2.3,0a1.15,1.7 0 1,0 -2.3,0M459.2,330.3v2.3M461.0,329.2a1.15,1.7 0 1,0 2.3,0a1.15,1.7 0 1,0 -2.3,0M462.1,330.9v2.3M483.7,329.6a1.15,1.7 0 1,0 2.3,0a1.15,1.7 0 1,0 -2.3,0M484.8,331.3v2.3M486.6,330.2a1.15,1.7 0 1,0 2.3,0a1.15,1.7 0 1,0 -2.3,0M487.7,331.9v2.3M501.4,327.1a1.15,1.7 0 1,0 2.3,0a1.15,1.7 0 1,0 -2.3,0M502.6,328.8v2.3M504.3,327.7a1.15,1.7 0 1,0 2.3,0a1.15,1.7 0 1,0 -2.3,0M505.5,329.4v2.3M515.8,329.6a1.15,1.7 0 1,0 2.3,0a1.15,1.7 0 1,0 -2.3,0M517.0,331.3v2.3M518.7,330.2a1.15,1.7 0 1,0 2.3,0a1.15,1.7 0 1,0 -2.3,0M519.9,331.9v2.3M536.1,329.7a1.15,1.7 0 1,0 2.3,0a1.15,1.7 0 1,0 -2.3,0M537.2,331.4v2.3M539.0,330.3a1.15,1.7 0 1,0 2.3,0a1.15,1.7 0 1,0 -2.3,0M540.1,332.0v2.3M560.2,326.5a1.15,1.7 0 1,0 2.3,0a1.15,1.7 0 1,0 -2.3,0M561.3,328.2v2.3M563.1,327.1a1.15,1.7 0 1,0 2.3,0a1.15,1.7 0 1,0 -2.3,0M564.2,328.8v2.3M574.6,330.9a1.15,1.7 0 1,0 2.3,0a1.15,1.7 0 1,0 -2.3,0M575.8,332.6v2.3M577.5,331.5a1.15,1.7 0 1,0 2.3,0a1.15,1.7 0 1,0 -2.3,0M578.7,333.2v2.3M596.2,324.7a1.15,1.7 0 1,0 2.3,0a1.15,1.7 0 1,0 -2.3,0M597.3,326.4v2.3M599.1,325.3a1.15,1.7 0 1,0 2.3,0a1.15,1.7 0 1,0 -2.3,0M600.2,327.0v2.3M610.4,324.5a1.15,1.7 0 1,0 2.3,0a1.15,1.7 0 1,0 -2.3,0M611.6,326.2v2.3M613.3,325.1a1.15,1.7 0 1,0 2.3,0a1.15,1.7 0 1,0 -2.3,0M614.5,326.8v2.3M635.6,329.8a1.15,1.7 0 1,0 2.3,0a1.15,1.7 0 1,0 -2.3,0M636.8,331.5v2.3M638.5,330.4a1.15,1.7 0 1,0 2.3,0a1.15,1.7 0 1,0 -2.3,0M639.7,332.1v2.3M648.6,329.9a1.15,1.7 0 1,0 2.3,0a1.15,1.7 0 1,0 -2.3,0M649.7,331.6v2.3M651.5,330.5a1.15,1.7 0 1,0 2.3,0a1.15,1.7 0 1,0 -2.3,0M652.6,332.2v2.3M674.2,328.6a1.15,1.7 0 1,0 2.3,0a1.15,1.7 0 1,0 -2.3,0M675.4,330.3v2.3M677.1,329.2a1.15,1.7 0 1,0 2.3,0a1.15,1.7 0 1,0 -2.3,0M678.3,330.9v2.3M688.2,327.7a1.15,1.7 0 1,0 2.3,0a1.15,1.7 0 1,0 -2.3,0M689.4,329.4v2.3M691.1,328.3a1.15,1.7 0 1,0 2.3,0a1.15,1.7 0 1,0 -2.3,0M692.3,330.0v2.3M705.4,323.4a1.15,1.7 0 1,0 2.3,0a1.15,1.7 0 1,0 -2.3,0M706.6,325.1v2.3M708.3,324.0a1.15,1.7 0 1,0 2.3,0a1.15,1.7 0 1,0 -2.3,0M709.5,325.7v2.3M18.7,345.0a1.15,1.7 0 1,0 2.3,0a1.15,1.7 0 1,0 -2.3,0M19.8,346.7v2.3M21.6,345.6a1.15,1.7 0 1,0 2.3,0a1.15,1.7 0 1,0 -2.3,0M22.7,347.3v2.3M34.1,347.3a1.15,1.7 0 1,0 2.3,0a1.15,1.7 0 1,0 -2.3,0M35.3,349.0v2.3M37.0,347.9a1.15,1.7 0 1,0 2.3,0a1.15,1.7 0 1,0 -2.3,0M38.2,349.6v2.3M52.4,346.8a1.15,1.7 0 1,0 2.3,0a1.15,1.7 0 1,0 -2.3,0M53.5,348.5v2.3M55.3,347.4a1.15,1.7 0 1,0 2.3,0a1.15,1.7 0 1,0 -2.3,0M56.4,349.1v2.3M74.5,341.5a1.15,1.7 0 1,0 2.3,0a1.15,1.7 0 1,0 -2.3,0M75.7,343.2v2.3M77.4,342.1a1.15,1.7 0 1,0 2.3,0a1.15,1.7 0 1,0 -2.3,0M78.6,343.8v2.3M88.9,342.1a1.15,1.7 0 1,0 2.3,0a1.15,1.7 0 1,0 -2.3,0M90.1,343.8v2.3M91.8,342.7a1.15,1.7 0 1,0 2.3,0a1.15,1.7 0 1,0 -2.3,0M93.0,344.4v2.3M107.8,344.5a1.15,1.7 0 1,0 2.3,0a1.15,1.7 0 1,0 -2.3,0M109.0,346.2v2.3M110.7,345.1a1.15,1.7 0 1,0 2.3,0a1.15,1.7 0 1,0 -2.3,0M111.9,346.8v2.3M127.0,343.2a1.15,1.7 0 1,0 2.3,0a1.15,1.7 0 1,0 -2.3,0M128.1,344.9v2.3M129.9,343.8a1.15,1.7 0 1,0 2.3,0a1.15,1.7 0 1,0 -2.3,0M131.0,345.5v2.3M144.9,347.1a1.15,1.7 0 1,0 2.3,0a1.15,1.7 0 1,0 -2.3,0M146.1,348.8v2.3M147.8,347.7a1.15,1.7 0 1,0 2.3,0a1.15,1.7 0 1,0 -2.3,0M149.0,349.4v2.3M165.7,343.5a1.15,1.7 0 1,0 2.3,0a1.15,1.7 0 1,0 -2.3,0M166.9,345.2v2.3M168.6,344.1a1.15,1.7 0 1,0 2.3,0a1.15,1.7 0 1,0 -2.3,0M169.8,345.8v2.3M186.6,347.0a1.15,1.7 0 1,0 2.3,0a1.15,1.7 0 1,0 -2.3,0M187.7,348.7v2.3M189.5,347.6a1.15,1.7 0 1,0 2.3,0a1.15,1.7 0 1,0 -2.3,0M190.6,349.3v2.3M204.3,347.1a1.15,1.7 0 1,0 2.3,0a1.15,1.7 0 1,0 -2.3,0M205.4,348.8v2.3M207.2,347.7a1.15,1.7 0 1,0 2.3,0a1.15,1.7 0 1,0 -2.3,0M208.3,349.4v2.3M223.9,344.1a1.15,1.7 0 1,0 2.3,0a1.15,1.7 0 1,0 -2.3,0M225.1,345.8v2.3M226.8,344.7a1.15,1.7 0 1,0 2.3,0a1.15,1.7 0 1,0 -2.3,0M228.0,346.4v2.3M243.1,339.9a1.15,1.7 0 1,0 2.3,0a1.15,1.7 0 1,0 -2.3,0M244.2,341.6v2.3M246.0,340.5a1.15,1.7 0 1,0 2.3,0a1.15,1.7 0 1,0 -2.3,0M247.1,342.2v2.3M261.4,341.3a1.15,1.7 0 1,0 2.3,0a1.15,1.7 0 1,0 -2.3,0M262.6,343.0v2.3M264.3,341.9a1.15,1.7 0 1,0 2.3,0a1.15,1.7 0 1,0 -2.3,0M265.5,343.6v2.3M276.9,346.2a1.15,1.7 0 1,0 2.3,0a1.15,1.7 0 1,0 -2.3,0M278.1,347.9v2.3M279.8,346.8a1.15,1.7 0 1,0 2.3,0a1.15,1.7 0 1,0 -2.3,0M281.0,348.5v2.3M297.3,343.6a1.15,1.7 0 1,0 2.3,0a1.15,1.7 0 1,0 -2.3,0M298.4,345.3v2.3M300.2,344.2a1.15,1.7 0 1,0 2.3,0a1.15,1.7 0 1,0 -2.3,0M301.3,345.9v2.3M320.7,344.3a1.15,1.7 0 1,0 2.3,0a1.15,1.7 0 1,0 -2.3,0M321.9,346.0v2.3M323.6,344.9a1.15,1.7 0 1,0 2.3,0a1.15,1.7 0 1,0 -2.3,0M324.8,346.6v2.3M336.5,343.9a1.15,1.7 0 1,0 2.3,0a1.15,1.7 0 1,0 -2.3,0M337.7,345.6v2.3M339.4,344.5a1.15,1.7 0 1,0 2.3,0a1.15,1.7 0 1,0 -2.3,0M340.6,346.2v2.3M357.3,346.1a1.15,1.7 0 1,0 2.3,0a1.15,1.7 0 1,0 -2.3,0M358.5,347.8v2.3M360.2,346.7a1.15,1.7 0 1,0 2.3,0a1.15,1.7 0 1,0 -2.3,0M361.4,348.4v2.3M372.7,344.3a1.15,1.7 0 1,0 2.3,0a1.15,1.7 0 1,0 -2.3,0M373.9,346.0v2.3M375.6,344.9a1.15,1.7 0 1,0 2.3,0a1.15,1.7 0 1,0 -2.3,0M376.8,346.6v2.3M392.9,342.0a1.15,1.7 0 1,0 2.3,0a1.15,1.7 0 1,0 -2.3,0M394.0,343.7v2.3M395.8,342.6a1.15,1.7 0 1,0 2.3,0a1.15,1.7 0 1,0 -2.3,0M396.9,344.3v2.3M416.1,343.9a1.15,1.7 0 1,0 2.3,0a1.15,1.7 0 1,0 -2.3,0M417.2,345.6v2.3M419.0,344.5a1.15,1.7 0 1,0 2.3,0a1.15,1.7 0 1,0 -2.3,0M420.1,346.2v2.3M433.4,345.9a1.15,1.7 0 1,0 2.3,0a1.15,1.7 0 1,0 -2.3,0M434.5,347.6v2.3M436.3,346.5a1.15,1.7 0 1,0 2.3,0a1.15,1.7 0 1,0 -2.3,0M437.4,348.2v2.3M455.2,343.3a1.15,1.7 0 1,0 2.3,0a1.15,1.7 0 1,0 -2.3,0M456.3,345.0v2.3M458.1,343.9a1.15,1.7 0 1,0 2.3,0a1.15,1.7 0 1,0 -2.3,0M459.2,345.6v2.3M471.8,343.8a1.15,1.7 0 1,0 2.3,0a1.15,1.7 0 1,0 -2.3,0M473.0,345.5v2.3M474.7,344.4a1.15,1.7 0 1,0 2.3,0a1.15,1.7 0 1,0 -2.3,0M475.9,346.1v2.3M490.0,345.3a1.15,1.7 0 1,0 2.3,0a1.15,1.7 0 1,0 -2.3,0M491.1,347.0v2.3M492.9,345.9a1.15,1.7 0 1,0 2.3,0a1.15,1.7 0 1,0 -2.3,0M494.0,347.6v2.3M508.5,344.1a1.15,1.7 0 1,0 2.3,0a1.15,1.7 0 1,0 -2.3,0M509.7,345.8v2.3M511.4,344.7a1.15,1.7 0 1,0 2.3,0a1.15,1.7 0 1,0 -2.3,0M512.6,346.4v2.3M527.7,347.3a1.15,1.7 0 1,0 2.3,0a1.15,1.7 0 1,0 -2.3,0M528.9,349.0v2.3M530.6,347.9a1.15,1.7 0 1,0 2.3,0a1.15,1.7 0 1,0 -2.3,0M531.8,349.6v2.3M548.5,346.8a1.15,1.7 0 1,0 2.3,0a1.15,1.7 0 1,0 -2.3,0M549.6,348.5v2.3M551.4,347.4a1.15,1.7 0 1,0 2.3,0a1.15,1.7 0 1,0 -2.3,0M552.5,349.1v2.3M569.4,341.9a1.15,1.7 0 1,0 2.3,0a1.15,1.7 0 1,0 -2.3,0M570.6,343.6v2.3M572.3,342.5a1.15,1.7 0 1,0 2.3,0a1.15,1.7 0 1,0 -2.3,0M573.5,344.2v2.3M585.4,347.3a1.15,1.7 0 1,0 2.3,0a1.15,1.7 0 1,0 -2.3,0M586.5,349.0v2.3M588.3,347.9a1.15,1.7 0 1,0 2.3,0a1.15,1.7 0 1,0 -2.3,0M589.4,349.6v2.3M606.6,340.9a1.15,1.7 0 1,0 2.3,0a1.15,1.7 0 1,0 -2.3,0M607.8,342.6v2.3M609.5,341.5a1.15,1.7 0 1,0 2.3,0a1.15,1.7 0 1,0 -2.3,0M610.7,343.2v2.3M619.9,343.3a1.15,1.7 0 1,0 2.3,0a1.15,1.7 0 1,0 -2.3,0M621.0,345.0v2.3M622.8,343.9a1.15,1.7 0 1,0 2.3,0a1.15,1.7 0 1,0 -2.3,0M623.9,345.6v2.3M638.5,341.7a1.15,1.7 0 1,0 2.3,0a1.15,1.7 0 1,0 -2.3,0M639.6,343.4v2.3M641.4,342.3a1.15,1.7 0 1,0 2.3,0a1.15,1.7 0 1,0 -2.3,0M642.5,344.0v2.3M657.5,345.2a1.15,1.7 0 1,0 2.3,0a1.15,1.7 0 1,0 -2.3,0M658.6,346.9v2.3M660.4,345.8a1.15,1.7 0 1,0 2.3,0a1.15,1.7 0 1,0 -2.3,0M661.5,347.5v2.3M682.2,347.0a1.15,1.7 0 1,0 2.3,0a1.15,1.7 0 1,0 -2.3,0M683.3,348.7v2.3M685.1,347.6a1.15,1.7 0 1,0 2.3,0a1.15,1.7 0 1,0 -2.3,0M686.2,349.3v2.3M696.1,345.5a1.15,1.7 0 1,0 2.3,0a1.15,1.7 0 1,0 -2.3,0M697.3,347.2v2.3M699.0,346.1a1.15,1.7 0 1,0 2.3,0a1.15,1.7 0 1,0 -2.3,0M700.2,347.8v2.3M719.2,340.9a1.15,1.7 0 1,0 2.3,0a1.15,1.7 0 1,0 -2.3,0M720.3,342.6v2.3M722.1,341.5a1.15,1.7 0 1,0 2.3,0a1.15,1.7 0 1,0 -2.3,0M723.2,343.2v2.3M8.5,364.0a1.15,1.7 0 1,0 2.3,0a1.15,1.7 0 1,0 -2.3,0M9.6,365.7v2.3M11.4,364.6a1.15,1.7 0 1,0 2.3,0a1.15,1.7 0 1,0 -2.3,0M12.5,366.3v2.3M22.2,363.9a1.15,1.7 0 1,0 2.3,0a1.15,1.7 0 1,0 -2.3,0M23.3,365.6v2.3M25.1,364.5a1.15,1.7 0 1,0 2.3,0a1.15,1.7 0 1,0 -2.3,0M26.2,366.2v2.3M42.6,360.2a1.15,1.7 0 1,0 2.3,0a1.15,1.7 0 1,0 -2.3,0M43.7,361.9v2.3M45.5,360.8a1.15,1.7 0 1,0 2.3,0a1.15,1.7 0 1,0 -2.3,0M46.6,362.5v2.3M66.3,363.0a1.15,1.7 0 1,0 2.3,0a1.15,1.7 0 1,0 -2.3,0M67.5,364.7v2.3M69.2,363.6a1.15,1.7 0 1,0 2.3,0a1.15,1.7 0 1,0 -2.3,0M70.4,365.3v2.3M78.7,359.8a1.15,1.7 0 1,0 2.3,0a1.15,1.7 0 1,0 -2.3,0M79.8,361.5v2.3M81.6,360.4a1.15,1.7 0 1,0 2.3,0a1.15,1.7 0 1,0 -2.3,0M82.7,362.1v2.3M100.5,359.0a1.15,1.7 0 1,0 2.3,0a1.15,1.7 0 1,0 -2.3,0M101.7,360.7v2.3M103.4,359.6a1.15,1.7 0 1,0 2.3,0a1.15,1.7 0 1,0 -2.3,0M104.6,361.3v2.3M117.0,358.8a1.15,1.7 0 1,0 2.3,0a1.15,1.7 0 1,0 -2.3,0M118.1,360.5v2.3M119.9,359.4a1.15,1.7 0 1,0 2.3,0a1.15,1.7 0 1,0 -2.3,0M121.0,361.1v2.3M140.2,356.5a1.15,1.7 0 1,0 2.3,0a1.15,1.7 0 1,0 -2.3,0M141.3,358.2v2.3M143.1,357.1a1.15,1.7 0 1,0 2.3,0a1.15,1.7 0 1,0 -2.3,0M144.2,358.8v2.3M157.8,359.8a1.15,1.7 0 1,0 2.3,0a1.15,1.7 0 1,0 -2.3,0M159.0,361.5v2.3M160.7,360.4a1.15,1.7 0 1,0 2.3,0a1.15,1.7 0 1,0 -2.3,0M161.9,362.1v2.3M172.5,359.0a1.15,1.7 0 1,0 2.3,0a1.15,1.7 0 1,0 -2.3,0M173.7,360.7v2.3M175.4,359.6a1.15,1.7 0 1,0 2.3,0a1.15,1.7 0 1,0 -2.3,0M176.6,361.3v2.3M196.4,360.4a1.15,1.7 0 1,0 2.3,0a1.15,1.7 0 1,0 -2.3,0M197.5,362.1v2.3M199.3,361.0a1.15,1.7 0 1,0 2.3,0a1.15,1.7 0 1,0 -2.3,0M200.4,362.7v2.3M210.9,364.2a1.15,1.7 0 1,0 2.3,0a1.15,1.7 0 1,0 -2.3,0M212.1,365.9v2.3M213.8,364.8a1.15,1.7 0 1,0 2.3,0a1.15,1.7 0 1,0 -2.3,0M215.0,366.5v2.3M235.7,364.1a1.15,1.7 0 1,0 2.3,0a1.15,1.7 0 1,0 -2.3,0M236.9,365.8v2.3M238.6,364.7a1.15,1.7 0 1,0 2.3,0a1.15,1.7 0 1,0 -2.3,0M239.8,366.4v2.3M249.2,358.4a1.15,1.7 0 1,0 2.3,0a1.15,1.7 0 1,0 -2.3,0M250.4,360.1v2.3M252.1,359.0a1.15,1.7 0 1,0 2.3,0a1.15,1.7 0 1,0 -2.3,0M253.3,360.7v2.3M267.7,362.5a1.15,1.7 0 1,0 2.3,0a1.15,1.7 0 1,0 -2.3,0M268.9,364.2v2.3M270.6,363.1a1.15,1.7 0 1,0 2.3,0a1.15,1.7 0 1,0 -2.3,0M271.8,364.8v2.3M288.6,357.3a1.15,1.7 0 1,0 2.3,0a1.15,1.7 0 1,0 -2.3,0M289.7,359.0v2.3M291.5,357.9a1.15,1.7 0 1,0 2.3,0a1.15,1.7 0 1,0 -2.3,0M292.6,359.6v2.3M308.8,363.6a1.15,1.7 0 1,0 2.3,0a1.15,1.7 0 1,0 -2.3,0M309.9,365.3v2.3M311.7,364.2a1.15,1.7 0 1,0 2.3,0a1.15,1.7 0 1,0 -2.3,0M312.8,365.9v2.3M331.0,358.4a1.15,1.7 0 1,0 2.3,0a1.15,1.7 0 1,0 -2.3,0M332.1,360.1v2.3M333.9,359.0a1.15,1.7 0 1,0 2.3,0a1.15,1.7 0 1,0 -2.3,0M335.0,360.7v2.3M344.6,363.7a1.15,1.7 0 1,0 2.3,0a1.15,1.7 0 1,0 -2.3,0M345.7,365.4v2.3M347.5,364.3a1.15,1.7 0 1,0 2.3,0a1.15,1.7 0 1,0 -2.3,0M348.6,366.0v2.3M367.0,361.9a1.15,1.7 0 1,0 2.3,0a1.15,1.7 0 1,0 -2.3,0M368.1,363.6v2.3M369.9,362.5a1.15,1.7 0 1,0 2.3,0a1.15,1.7 0 1,0 -2.3,0M371.0,364.2v2.3M382.1,356.8a1.15,1.7 0 1,0 2.3,0a1.15,1.7 0 1,0 -2.3,0M383.3,358.5v2.3M385.0,357.4a1.15,1.7 0 1,0 2.3,0a1.15,1.7 0 1,0 -2.3,0M386.2,359.1v2.3M405.9,359.7a1.15,1.7 0 1,0 2.3,0a1.15,1.7 0 1,0 -2.3,0M407.1,361.4v2.3M408.8,360.3a1.15,1.7 0 1,0 2.3,0a1.15,1.7 0 1,0 -2.3,0M410.0,362.0v2.3M420.0,363.8a1.15,1.7 0 1,0 2.3,0a1.15,1.7 0 1,0 -2.3,0M421.1,365.5v2.3M422.9,364.4a1.15,1.7 0 1,0 2.3,0a1.15,1.7 0 1,0 -2.3,0M424.0,366.1v2.3M443.5,362.7a1.15,1.7 0 1,0 2.3,0a1.15,1.7 0 1,0 -2.3,0M444.6,364.4v2.3M446.4,363.3a1.15,1.7 0 1,0 2.3,0a1.15,1.7 0 1,0 -2.3,0M447.5,365.0v2.3M458.1,363.1a1.15,1.7 0 1,0 2.3,0a1.15,1.7 0 1,0 -2.3,0M459.2,364.8v2.3M461.0,363.7a1.15,1.7 0 1,0 2.3,0a1.15,1.7 0 1,0 -2.3,0M462.1,365.4v2.3M476.9,363.2a1.15,1.7 0 1,0 2.3,0a1.15,1.7 0 1,0 -2.3,0M478.1,364.9v2.3M479.8,363.8a1.15,1.7 0 1,0 2.3,0a1.15,1.7 0 1,0 -2.3,0M481.0,365.5v2.3M499.0,359.0a1.15,1.7 0 1,0 2.3,0a1.15,1.7 0 1,0 -2.3,0M500.2,360.7v2.3M501.9,359.6a1.15,1.7 0 1,0 2.3,0a1.15,1.7 0 1,0 -2.3,0M503.1,361.3v2.3M518.8,363.7a1.15,1.7 0 1,0 2.3,0a1.15,1.7 0 1,0 -2.3,0M520.0,365.4v2.3M521.7,364.3a1.15,1.7 0 1,0 2.3,0a1.15,1.7 0 1,0 -2.3,0M522.9,366.0v2.3M535.5,357.3a1.15,1.7 0 1,0 2.3,0a1.15,1.7 0 1,0 -2.3,0M536.7,359.0v2.3M538.4,357.9a1.15,1.7 0 1,0 2.3,0a1.15,1.7 0 1,0 -2.3,0M539.6,359.6v2.3M556.6,358.2a1.15,1.7 0 1,0 2.3,0a1.15,1.7 0 1,0 -2.3,0M557.8,359.9v2.3M559.5,358.8a1.15,1.7 0 1,0 2.3,0a1.15,1.7 0 1,0 -2.3,0M560.7,360.5v2.3M572.3,357.6a1.15,1.7 0 1,0 2.3,0a1.15,1.7 0 1,0 -2.3,0M573.4,359.3v2.3M575.2,358.2a1.15,1.7 0 1,0 2.3,0a1.15,1.7 0 1,0 -2.3,0M576.3,359.9v2.3M590.8,357.9a1.15,1.7 0 1,0 2.3,0a1.15,1.7 0 1,0 -2.3,0M592.0,359.6v2.3M593.7,358.5a1.15,1.7 0 1,0 2.3,0a1.15,1.7 0 1,0 -2.3,0M594.9,360.2v2.3M611.9,358.7a1.15,1.7 0 1,0 2.3,0a1.15,1.7 0 1,0 -2.3,0M613.0,360.4v2.3M614.8,359.3a1.15,1.7 0 1,0 2.3,0a1.15,1.7 0 1,0 -2.3,0M615.9,361.0v2.3M634.5,358.6a1.15,1.7 0 1,0 2.3,0a1.15,1.7 0 1,0 -2.3,0M635.6,360.3v2.3M637.4,359.2a1.15,1.7 0 1,0 2.3,0a1.15,1.7 0 1,0 -2.3,0M638.5,360.9v2.3M651.4,357.7a1.15,1.7 0 1,0 2.3,0a1.15,1.7 0 1,0 -2.3,0M652.6,359.4v2.3M654.3,358.3a1.15,1.7 0 1,0 2.3,0a1.15,1.7 0 1,0 -2.3,0M655.5,360.0v2.3M669.2,356.4a1.15,1.7 0 1,0 2.3,0a1.15,1.7 0 1,0 -2.3,0M670.3,358.1v2.3M672.1,357.0a1.15,1.7 0 1,0 2.3,0a1.15,1.7 0 1,0 -2.3,0M673.2,358.7v2.3M687.4,356.4a1.15,1.7 0 1,0 2.3,0a1.15,1.7 0 1,0 -2.3,0M688.6,358.1v2.3M690.3,357.0a1.15,1.7 0 1,0 2.3,0a1.15,1.7 0 1,0 -2.3,0M691.5,358.7v2.3M710.3,360.7a1.15,1.7 0 1,0 2.3,0a1.15,1.7 0 1,0 -2.3,0M711.4,362.4v2.3M713.2,361.3a1.15,1.7 0 1,0 2.3,0a1.15,1.7 0 1,0 -2.3,0M714.3,363.0v2.3M12.4,376.6a1.15,1.7 0 1,0 2.3,0a1.15,1.7 0 1,0 -2.3,0M13.6,378.3v2.3M15.3,377.2a1.15,1.7 0 1,0 2.3,0a1.15,1.7 0 1,0 -2.3,0M16.5,378.9v2.3M37.4,373.7a1.15,1.7 0 1,0 2.3,0a1.15,1.7 0 1,0 -2.3,0M38.5,375.4v2.3M40.3,374.3a1.15,1.7 0 1,0 2.3,0a1.15,1.7 0 1,0 -2.3,0M41.4,376.0v2.3M55.5,376.3a1.15,1.7 0 1,0 2.3,0a1.15,1.7 0 1,0 -2.3,0M56.6,378.0v2.3M58.4,376.9a1.15,1.7 0 1,0 2.3,0a1.15,1.7 0 1,0 -2.3,0M59.5,378.6v2.3M71.9,379.5a1.15,1.7 0 1,0 2.3,0a1.15,1.7 0 1,0 -2.3,0M73.0,381.2v2.3M74.8,380.1a1.15,1.7 0 1,0 2.3,0a1.15,1.7 0 1,0 -2.3,0M75.9,381.8v2.3M90.0,376.9a1.15,1.7 0 1,0 2.3,0a1.15,1.7 0 1,0 -2.3,0M91.2,378.6v2.3M92.9,377.5a1.15,1.7 0 1,0 2.3,0a1.15,1.7 0 1,0 -2.3,0M94.1,379.2v2.3M111.4,380.7a1.15,1.7 0 1,0 2.3,0a1.15,1.7 0 1,0 -2.3,0M112.6,382.4v2.3M114.3,381.3a1.15,1.7 0 1,0 2.3,0a1.15,1.7 0 1,0 -2.3,0M115.5,383.0v2.3M127.6,379.5a1.15,1.7 0 1,0 2.3,0a1.15,1.7 0 1,0 -2.3,0M128.8,381.2v2.3M130.5,380.1a1.15,1.7 0 1,0 2.3,0a1.15,1.7 0 1,0 -2.3,0M131.7,381.8v2.3M149.6,377.9a1.15,1.7 0 1,0 2.3,0a1.15,1.7 0 1,0 -2.3,0M150.7,379.6v2.3M152.5,378.5a1.15,1.7 0 1,0 2.3,0a1.15,1.7 0 1,0 -2.3,0M153.6,380.2v2.3M166.1,375.6a1.15,1.7 0 1,0 2.3,0a1.15,1.7 0 1,0 -2.3,0M167.3,377.3v2.3M169.0,376.2a1.15,1.7 0 1,0 2.3,0a1.15,1.7 0 1,0 -2.3,0M170.2,377.9v2.3M182.3,373.8a1.15,1.7 0 1,0 2.3,0a1.15,1.7 0 1,0 -2.3,0M183.5,375.5v2.3M185.2,374.4a1.15,1.7 0 1,0 2.3,0a1.15,1.7 0 1,0 -2.3,0M186.4,376.1v2.3M201.5,378.7a1.15,1.7 0 1,0 2.3,0a1.15,1.7 0 1,0 -2.3,0M202.6,380.4v2.3M204.4,379.3a1.15,1.7 0 1,0 2.3,0a1.15,1.7 0 1,0 -2.3,0M205.5,381.0v2.3M221.9,374.1a1.15,1.7 0 1,0 2.3,0a1.15,1.7 0 1,0 -2.3,0M223.1,375.8v2.3M224.8,374.7a1.15,1.7 0 1,0 2.3,0a1.15,1.7 0 1,0 -2.3,0M226.0,376.4v2.3M239.6,379.5a1.15,1.7 0 1,0 2.3,0a1.15,1.7 0 1,0 -2.3,0M240.7,381.2v2.3M242.5,380.1a1.15,1.7 0 1,0 2.3,0a1.15,1.7 0 1,0 -2.3,0M243.6,381.8v2.3M264.9,378.2a1.15,1.7 0 1,0 2.3,0a1.15,1.7 0 1,0 -2.3,0M266.0,379.9v2.3M267.8,378.8a1.15,1.7 0 1,0 2.3,0a1.15,1.7 0 1,0 -2.3,0M268.9,380.5v2.3M279.2,374.7a1.15,1.7 0 1,0 2.3,0a1.15,1.7 0 1,0 -2.3,0M280.3,376.4v2.3M282.1,375.3a1.15,1.7 0 1,0 2.3,0a1.15,1.7 0 1,0 -2.3,0M283.2,377.0v2.3M298.2,376.5a1.15,1.7 0 1,0 2.3,0a1.15,1.7 0 1,0 -2.3,0M299.4,378.2v2.3M301.1,377.1a1.15,1.7 0 1,0 2.3,0a1.15,1.7 0 1,0 -2.3,0M302.3,378.8v2.3M316.2,376.4a1.15,1.7 0 1,0 2.3,0a1.15,1.7 0 1,0 -2.3,0M317.3,378.1v2.3M319.1,377.0a1.15,1.7 0 1,0 2.3,0a1.15,1.7 0 1,0 -2.3,0M320.2,378.7v2.3M336.0,380.5a1.15,1.7 0 1,0 2.3,0a1.15,1.7 0 1,0 -2.3,0M337.2,382.2v2.3M338.9,381.1a1.15,1.7 0 1,0 2.3,0a1.15,1.7 0 1,0 -2.3,0M340.1,382.8v2.3M360.7,377.2a1.15,1.7 0 1,0 2.3,0a1.15,1.7 0 1,0 -2.3,0M361.8,378.9v2.3M363.6,377.8a1.15,1.7 0 1,0 2.3,0a1.15,1.7 0 1,0 -2.3,0M364.7,379.5v2.3M373.9,380.5a1.15,1.7 0 1,0 2.3,0a1.15,1.7 0 1,0 -2.3,0M375.0,382.2v2.3M376.8,381.1a1.15,1.7 0 1,0 2.3,0a1.15,1.7 0 1,0 -2.3,0M377.9,382.8v2.3M393.4,375.7a1.15,1.7 0 1,0 2.3,0a1.15,1.7 0 1,0 -2.3,0M394.5,377.4v2.3M396.3,376.3a1.15,1.7 0 1,0 2.3,0a1.15,1.7 0 1,0 -2.3,0M397.4,378.0v2.3M409.9,375.9a1.15,1.7 0 1,0 2.3,0a1.15,1.7 0 1,0 -2.3,0M411.1,377.6v2.3M412.8,376.5a1.15,1.7 0 1,0 2.3,0a1.15,1.7 0 1,0 -2.3,0M414.0,378.2v2.3M432.7,376.8a1.15,1.7 0 1,0 2.3,0a1.15,1.7 0 1,0 -2.3,0M433.8,378.5v2.3M435.6,377.4a1.15,1.7 0 1,0 2.3,0a1.15,1.7 0 1,0 -2.3,0M436.7,379.1v2.3M449.5,376.8a1.15,1.7 0 1,0 2.3,0a1.15,1.7 0 1,0 -2.3,0M450.7,378.5v2.3M452.4,377.4a1.15,1.7 0 1,0 2.3,0a1.15,1.7 0 1,0 -2.3,0M453.6,379.1v2.3M466.9,374.9a1.15,1.7 0 1,0 2.3,0a1.15,1.7 0 1,0 -2.3,0M468.1,376.6v2.3M469.8,375.5a1.15,1.7 0 1,0 2.3,0a1.15,1.7 0 1,0 -2.3,0M471.0,377.2v2.3M486.6,376.0a1.15,1.7 0 1,0 2.3,0a1.15,1.7 0 1,0 -2.3,0M487.8,377.7v2.3M489.5,376.6a1.15,1.7 0 1,0 2.3,0a1.15,1.7 0 1,0 -2.3,0M490.7,378.3v2.3M505.2,373.0a1.15,1.7 0 1,0 2.3,0a1.15,1.7 0 1,0 -2.3,0M506.4,374.7v2.3M508.1,373.6a1.15,1.7 0 1,0 2.3,0a1.15,1.7 0 1,0 -2.3,0M509.3,375.3v2.3M526.3,374.7a1.15,1.7 0 1,0 2.3,0a1.15,1.7 0 1,0 -2.3,0M527.5,376.4v2.3M529.2,375.3a1.15,1.7 0 1,0 2.3,0a1.15,1.7 0 1,0 -2.3,0M530.4,377.0v2.3M547.6,377.0a1.15,1.7 0 1,0 2.3,0a1.15,1.7 0 1,0 -2.3,0M548.7,378.7v2.3M550.5,377.6a1.15,1.7 0 1,0 2.3,0a1.15,1.7 0 1,0 -2.3,0M551.6,379.3v2.3M567.9,378.1a1.15,1.7 0 1,0 2.3,0a1.15,1.7 0 1,0 -2.3,0M569.1,379.8v2.3M570.8,378.7a1.15,1.7 0 1,0 2.3,0a1.15,1.7 0 1,0 -2.3,0M572.0,380.4v2.3M586.6,379.8a1.15,1.7 0 1,0 2.3,0a1.15,1.7 0 1,0 -2.3,0M587.8,381.5v2.3M589.5,380.4a1.15,1.7 0 1,0 2.3,0a1.15,1.7 0 1,0 -2.3,0M590.7,382.1v2.3M603.0,375.4a1.15,1.7 0 1,0 2.3,0a1.15,1.7 0 1,0 -2.3,0M604.2,377.1v2.3M605.9,376.0a1.15,1.7 0 1,0 2.3,0a1.15,1.7 0 1,0 -2.3,0M607.1,377.7v2.3M626.8,374.0a1.15,1.7 0 1,0 2.3,0a1.15,1.7 0 1,0 -2.3,0M627.9,375.7v2.3M629.7,374.6a1.15,1.7 0 1,0 2.3,0a1.15,1.7 0 1,0 -2.3,0M630.8,376.3v2.3M643.7,377.9a1.15,1.7 0 1,0 2.3,0a1.15,1.7 0 1,0 -2.3,0M644.8,379.6v2.3M646.6,378.5a1.15,1.7 0 1,0 2.3,0a1.15,1.7 0 1,0 -2.3,0M647.7,380.2v2.3M657.3,379.5a1.15,1.7 0 1,0 2.3,0a1.15,1.7 0 1,0 -2.3,0M658.4,381.2v2.3M660.2,380.1a1.15,1.7 0 1,0 2.3,0a1.15,1.7 0 1,0 -2.3,0M661.3,381.8v2.3M683.0,377.8a1.15,1.7 0 1,0 2.3,0a1.15,1.7 0 1,0 -2.3,0M684.2,379.5v2.3M685.9,378.4a1.15,1.7 0 1,0 2.3,0a1.15,1.7 0 1,0 -2.3,0M687.1,380.1v2.3M700.8,379.3a1.15,1.7 0 1,0 2.3,0a1.15,1.7 0 1,0 -2.3,0M701.9,381.0v2.3M703.7,379.9a1.15,1.7 0 1,0 2.3,0a1.15,1.7 0 1,0 -2.3,0M704.8,381.6v2.3M715.0,377.0a1.15,1.7 0 1,0 2.3,0a1.15,1.7 0 1,0 -2.3,0M716.2,378.7v2.3M717.9,377.6a1.15,1.7 0 1,0 2.3,0a1.15,1.7 0 1,0 -2.3,0M719.1,379.3v2.3M5.4,396.0a1.15,1.7 0 1,0 2.3,0a1.15,1.7 0 1,0 -2.3,0M6.6,397.7v2.3M8.3,396.6a1.15,1.7 0 1,0 2.3,0a1.15,1.7 0 1,0 -2.3,0M9.5,398.3v2.3M26.8,395.9a1.15,1.7 0 1,0 2.3,0a1.15,1.7 0 1,0 -2.3,0M28.0,397.6v2.3M29.7,396.5a1.15,1.7 0 1,0 2.3,0a1.15,1.7 0 1,0 -2.3,0M30.9,398.2v2.3M44.1,396.4a1.15,1.7 0 1,0 2.3,0a1.15,1.7 0 1,0 -2.3,0M45.2,398.1v2.3M47.0,397.0a1.15,1.7 0 1,0 2.3,0a1.15,1.7 0 1,0 -2.3,0M48.1,398.7v2.3M63.9,394.8a1.15,1.7 0 1,0 2.3,0a1.15,1.7 0 1,0 -2.3,0M65.0,396.5v2.3M66.8,395.4a1.15,1.7 0 1,0 2.3,0a1.15,1.7 0 1,0 -2.3,0M67.9,397.1v2.3M79.2,389.5a1.15,1.7 0 1,0 2.3,0a1.15,1.7 0 1,0 -2.3,0M80.4,391.2v2.3M82.1,390.1a1.15,1.7 0 1,0 2.3,0a1.15,1.7 0 1,0 -2.3,0M83.3,391.8v2.3M97.5,392.2a1.15,1.7 0 1,0 2.3,0a1.15,1.7 0 1,0 -2.3,0M98.6,393.9v2.3M100.4,392.8a1.15,1.7 0 1,0 2.3,0a1.15,1.7 0 1,0 -2.3,0M101.5,394.5v2.3M116.2,396.0a1.15,1.7 0 1,0 2.3,0a1.15,1.7 0 1,0 -2.3,0M117.4,397.7v2.3M119.1,396.6a1.15,1.7 0 1,0 2.3,0a1.15,1.7 0 1,0 -2.3,0M120.3,398.3v2.3M138.9,394.3a1.15,1.7 0 1,0 2.3,0a1.15,1.7 0 1,0 -2.3,0M140.0,396.0v2.3M141.8,394.9a1.15,1.7 0 1,0 2.3,0a1.15,1.7 0 1,0 -2.3,0M142.9,396.6v2.3M158.4,394.7a1.15,1.7 0 1,0 2.3,0a1.15,1.7 0 1,0 -2.3,0M159.6,396.4v2.3M161.3,395.3a1.15,1.7 0 1,0 2.3,0a1.15,1.7 0 1,0 -2.3,0M162.5,397.0v2.3M176.3,389.3a1.15,1.7 0 1,0 2.3,0a1.15,1.7 0 1,0 -2.3,0M177.5,391.0v2.3M179.2,389.9a1.15,1.7 0 1,0 2.3,0a1.15,1.7 0 1,0 -2.3,0M180.4,391.6v2.3M197.8,395.3a1.15,1.7 0 1,0 2.3,0a1.15,1.7 0 1,0 -2.3,0M198.9,397.0v2.3M200.7,395.9a1.15,1.7 0 1,0 2.3,0a1.15,1.7 0 1,0 -2.3,0M201.8,397.6v2.3M214.4,393.6a1.15,1.7 0 1,0 2.3,0a1.15,1.7 0 1,0 -2.3,0M215.6,395.3v2.3M217.3,394.2a1.15,1.7 0 1,0 2.3,0a1.15,1.7 0 1,0 -2.3,0M218.5,395.9v2.3M234.7,389.8a1.15,1.7 0 1,0 2.3,0a1.15,1.7 0 1,0 -2.3,0M235.8,391.5v2.3M237.6,390.4a1.15,1.7 0 1,0 2.3,0a1.15,1.7 0 1,0 -2.3,0M238.7,392.1v2.3M254.3,391.3a1.15,1.7 0 1,0 2.3,0a1.15,1.7 0 1,0 -2.3,0M255.4,393.0v2.3M257.2,391.9a1.15,1.7 0 1,0 2.3,0a1.15,1.7 0 1,0 -2.3,0M258.3,393.6v2.3M268.0,391.4a1.15,1.7 0 1,0 2.3,0a1.15,1.7 0 1,0 -2.3,0M269.1,393.1v2.3M270.9,392.0a1.15,1.7 0 1,0 2.3,0a1.15,1.7 0 1,0 -2.3,0M272.0,393.7v2.3M292.2,390.9a1.15,1.7 0 1,0 2.3,0a1.15,1.7 0 1,0 -2.3,0M293.4,392.6v2.3M295.1,391.5a1.15,1.7 0 1,0 2.3,0a1.15,1.7 0 1,0 -2.3,0M296.3,393.2v2.3M311.3,397.1a1.15,1.7 0 1,0 2.3,0a1.15,1.7 0 1,0 -2.3,0M312.5,398.8v2.3M314.2,397.7a1.15,1.7 0 1,0 2.3,0a1.15,1.7 0 1,0 -2.3,0M315.4,399.4v2.3M328.4,392.4a1.15,1.7 0 1,0 2.3,0a1.15,1.7 0 1,0 -2.3,0M329.5,394.1v2.3M331.3,393.0a1.15,1.7 0 1,0 2.3,0a1.15,1.7 0 1,0 -2.3,0M332.4,394.7v2.3M347.2,394.8a1.15,1.7 0 1,0 2.3,0a1.15,1.7 0 1,0 -2.3,0M348.4,396.5v2.3M350.1,395.4a1.15,1.7 0 1,0 2.3,0a1.15,1.7 0 1,0 -2.3,0M351.3,397.1v2.3M368.5,394.2a1.15,1.7 0 1,0 2.3,0a1.15,1.7 0 1,0 -2.3,0M369.7,395.9v2.3M371.4,394.8a1.15,1.7 0 1,0 2.3,0a1.15,1.7 0 1,0 -2.3,0M372.6,396.5v2.3M386.5,389.9a1.15,1.7 0 1,0 2.3,0a1.15,1.7 0 1,0 -2.3,0M387.7,391.6v2.3M389.4,390.5a1.15,1.7 0 1,0 2.3,0a1.15,1.7 0 1,0 -2.3,0M390.6,392.2v2.3M401.6,391.3a1.15,1.7 0 1,0 2.3,0a1.15,1.7 0 1,0 -2.3,0M402.7,393.0v2.3M404.5,391.9a1.15,1.7 0 1,0 2.3,0a1.15,1.7 0 1,0 -2.3,0M405.6,393.6v2.3M425.3,391.7a1.15,1.7 0 1,0 2.3,0a1.15,1.7 0 1,0 -2.3,0M426.5,393.4v2.3M428.2,392.3a1.15,1.7 0 1,0 2.3,0a1.15,1.7 0 1,0 -2.3,0M429.4,394.0v2.3M442.9,389.4a1.15,1.7 0 1,0 2.3,0a1.15,1.7 0 1,0 -2.3,0M444.1,391.1v2.3M445.8,390.0a1.15,1.7 0 1,0 2.3,0a1.15,1.7 0 1,0 -2.3,0M447.0,391.7v2.3M457.9,391.5a1.15,1.7 0 1,0 2.3,0a1.15,1.7 0 1,0 -2.3,0M459.0,393.2v2.3M460.8,392.1a1.15,1.7 0 1,0 2.3,0a1.15,1.7 0 1,0 -2.3,0M461.9,393.8v2.3M481.8,394.8a1.15,1.7 0 1,0 2.3,0a1.15,1.7 0 1,0 -2.3,0M482.9,396.5v2.3M484.7,395.4a1.15,1.7 0 1,0 2.3,0a1.15,1.7 0 1,0 -2.3,0M485.8,397.1v2.3M500.8,391.6a1.15,1.7 0 1,0 2.3,0a1.15,1.7 0 1,0 -2.3,0M502.0,393.3v2.3M503.7,392.2a1.15,1.7 0 1,0 2.3,0a1.15,1.7 0 1,0 -2.3,0M504.9,393.9v2.3M518.5,393.0a1.15,1.7 0 1,0 2.3,0a1.15,1.7 0 1,0 -2.3,0M519.7,394.7v2.3M521.4,393.6a1.15,1.7 0 1,0 2.3,0a1.15,1.7 0 1,0 -2.3,0M522.6,395.3v2.3M537.1,390.2a1.15,1.7 0 1,0 2.3,0a1.15,1.7 0 1,0 -2.3,0M538.3,391.9v2.3M540.0,390.8a1.15,1.7 0 1,0 2.3,0a1.15,1.7 0 1,0 -2.3,0M541.2,392.5v2.3M559.5,390.9a1.15,1.7 0 1,0 2.3,0a1.15,1.7 0 1,0 -2.3,0M560.7,392.6v2.3M562.4,391.5a1.15,1.7 0 1,0 2.3,0a1.15,1.7 0 1,0 -2.3,0M563.6,393.2v2.3M579.2,396.8a1.15,1.7 0 1,0 2.3,0a1.15,1.7 0 1,0 -2.3,0M580.4,398.5v2.3M582.1,397.4a1.15,1.7 0 1,0 2.3,0a1.15,1.7 0 1,0 -2.3,0M583.3,399.1v2.3M590.5,393.0a1.15,1.7 0 1,0 2.3,0a1.15,1.7 0 1,0 -2.3,0M591.7,394.7v2.3M593.4,393.6a1.15,1.7 0 1,0 2.3,0a1.15,1.7 0 1,0 -2.3,0M594.6,395.3v2.3M616.0,397.0a1.15,1.7 0 1,0 2.3,0a1.15,1.7 0 1,0 -2.3,0M617.1,398.7v2.3M618.9,397.6a1.15,1.7 0 1,0 2.3,0a1.15,1.7 0 1,0 -2.3,0M620.0,399.3v2.3M632.0,391.4a1.15,1.7 0 1,0 2.3,0a1.15,1.7 0 1,0 -2.3,0M633.1,393.1v2.3M634.9,392.0a1.15,1.7 0 1,0 2.3,0a1.15,1.7 0 1,0 -2.3,0M636.0,393.7v2.3M649.1,396.9a1.15,1.7 0 1,0 2.3,0a1.15,1.7 0 1,0 -2.3,0M650.2,398.6v2.3M652.0,397.5a1.15,1.7 0 1,0 2.3,0a1.15,1.7 0 1,0 -2.3,0M653.1,399.2v2.3M668.1,394.0a1.15,1.7 0 1,0 2.3,0a1.15,1.7 0 1,0 -2.3,0M669.2,395.7v2.3M671.0,394.6a1.15,1.7 0 1,0 2.3,0a1.15,1.7 0 1,0 -2.3,0M672.1,396.3v2.3M686.5,393.5a1.15,1.7 0 1,0 2.3,0a1.15,1.7 0 1,0 -2.3,0M687.7,395.2v2.3M689.4,394.1a1.15,1.7 0 1,0 2.3,0a1.15,1.7 0 1,0 -2.3,0M690.6,395.8v2.3M712.0,390.4a1.15,1.7 0 1,0 2.3,0a1.15,1.7 0 1,0 -2.3,0M713.2,392.1v2.3M714.9,391.0a1.15,1.7 0 1,0 2.3,0a1.15,1.7 0 1,0 -2.3,0M716.1,392.7v2.3M17.5,409.9a1.15,1.7 0 1,0 2.3,0a1.15,1.7 0 1,0 -2.3,0M18.6,411.6v2.3M20.4,410.5a1.15,1.7 0 1,0 2.3,0a1.15,1.7 0 1,0 -2.3,0M21.5,412.2v2.3M37.0,411.4a1.15,1.7 0 1,0 2.3,0a1.15,1.7 0 1,0 -2.3,0M38.1,413.1v2.3M39.9,412.0a1.15,1.7 0 1,0 2.3,0a1.15,1.7 0 1,0 -2.3,0M41.0,413.7v2.3M50.8,413.0a1.15,1.7 0 1,0 2.3,0a1.15,1.7 0 1,0 -2.3,0M51.9,414.7v2.3M53.7,413.6a1.15,1.7 0 1,0 2.3,0a1.15,1.7 0 1,0 -2.3,0M54.8,415.3v2.3M71.8,406.0a1.15,1.7 0 1,0 2.3,0a1.15,1.7 0 1,0 -2.3,0M72.9,407.7v2.3M74.7,406.6a1.15,1.7 0 1,0 2.3,0a1.15,1.7 0 1,0 -2.3,0M75.8,408.3v2.3M86.9,409.7a1.15,1.7 0 1,0 2.3,0a1.15,1.7 0 1,0 -2.3,0M88.1,411.4v2.3M89.8,410.3a1.15,1.7 0 1,0 2.3,0a1.15,1.7 0 1,0 -2.3,0M91.0,412.0v2.3M109.5,408.2a1.15,1.7 0 1,0 2.3,0a1.15,1.7 0 1,0 -2.3,0M110.7,409.9v2.3M112.4,408.8a1.15,1.7 0 1,0 2.3,0a1.15,1.7 0 1,0 -2.3,0M113.6,410.5v2.3M126.0,408.6a1.15,1.7 0 1,0 2.3,0a1.15,1.7 0 1,0 -2.3,0M127.2,410.3v2.3M128.9,409.2a1.15,1.7 0 1,0 2.3,0a1.15,1.7 0 1,0 -2.3,0M130.1,410.9v2.3M146.4,412.5a1.15,1.7 0 1,0 2.3,0a1.15,1.7 0 1,0 -2.3,0M147.6,414.2v2.3M149.3,413.1a1.15,1.7 0 1,0 2.3,0a1.15,1.7 0 1,0 -2.3,0M150.5,414.8v2.3M162.9,411.8a1.15,1.7 0 1,0 2.3,0a1.15,1.7 0 1,0 -2.3,0M164.1,413.5v2.3M165.8,412.4a1.15,1.7 0 1,0 2.3,0a1.15,1.7 0 1,0 -2.3,0M167.0,414.1v2.3M188.6,406.8a1.15,1.7 0 1,0 2.3,0a1.15,1.7 0 1,0 -2.3,0M189.8,408.5v2.3M191.5,407.4a1.15,1.7 0 1,0 2.3,0a1.15,1.7 0 1,0 -2.3,0M192.7,409.1v2.3M208.3,411.5a1.15,1.7 0 1,0 2.3,0a1.15,1.7 0 1,0 -2.3,0M209.5,413.2v2.3M211.2,412.1a1.15,1.7 0 1,0 2.3,0a1.15,1.7 0 1,0 -2.3,0M212.4,413.8v2.3M227.1,408.1a1.15,1.7 0 1,0 2.3,0a1.15,1.7 0 1,0 -2.3,0M228.3,409.8v2.3M230.0,408.7a1.15,1.7 0 1,0 2.3,0a1.15,1.7 0 1,0 -2.3,0M231.2,410.4v2.3M241.9,408.9a1.15,1.7 0 1,0 2.3,0a1.15,1.7 0 1,0 -2.3,0M243.0,410.6v2.3M244.8,409.5a1.15,1.7 0 1,0 2.3,0a1.15,1.7 0 1,0 -2.3,0M245.9,411.2v2.3M265.9,410.5a1.15,1.7 0 1,0 2.3,0a1.15,1.7 0 1,0 -2.3,0M267.0,412.2v2.3M268.8,411.1a1.15,1.7 0 1,0 2.3,0a1.15,1.7 0 1,0 -2.3,0M269.9,412.8v2.3M279.8,409.2a1.15,1.7 0 1,0 2.3,0a1.15,1.7 0 1,0 -2.3,0M280.9,410.9v2.3M282.7,409.8a1.15,1.7 0 1,0 2.3,0a1.15,1.7 0 1,0 -2.3,0M283.8,411.5v2.3M298.1,406.2a1.15,1.7 0 1,0 2.3,0a1.15,1.7 0 1,0 -2.3,0M299.3,407.9v2.3M301.0,406.8a1.15,1.7 0 1,0 2.3,0a1.15,1.7 0 1,0 -2.3,0M302.2,408.5v2.3M315.7,412.5a1.15,1.7 0 1,0 2.3,0a1.15,1.7 0 1,0 -2.3,0M316.9,414.2v2.3M318.6,413.1a1.15,1.7 0 1,0 2.3,0a1.15,1.7 0 1,0 -2.3,0M319.8,414.8v2.3M336.2,413.3a1.15,1.7 0 1,0 2.3,0a1.15,1.7 0 1,0 -2.3,0M337.3,415.0v2.3M339.1,413.9a1.15,1.7 0 1,0 2.3,0a1.15,1.7 0 1,0 -2.3,0M340.2,415.6v2.3M354.9,407.9a1.15,1.7 0 1,0 2.3,0a1.15,1.7 0 1,0 -2.3,0M356.0,409.6v2.3M357.8,408.5a1.15,1.7 0 1,0 2.3,0a1.15,1.7 0 1,0 -2.3,0M358.9,410.2v2.3M376.0,407.3a1.15,1.7 0 1,0 2.3,0a1.15,1.7 0 1,0 -2.3,0M377.1,409.0v2.3M378.9,407.9a1.15,1.7 0 1,0 2.3,0a1.15,1.7 0 1,0 -2.3,0M380.0,409.6v2.3M393.9,413.4a1.15,1.7 0 1,0 2.3,0a1.15,1.7 0 1,0 -2.3,0M395.0,415.1v2.3M396.8,414.0a1.15,1.7 0 1,0 2.3,0a1.15,1.7 0 1,0 -2.3,0M397.9,415.7v2.3M417.0,412.3a1.15,1.7 0 1,0 2.3,0a1.15,1.7 0 1,0 -2.3,0M418.1,414.0v2.3M419.9,412.9a1.15,1.7 0 1,0 2.3,0a1.15,1.7 0 1,0 -2.3,0M421.0,414.6v2.3M433.9,413.1a1.15,1.7 0 1,0 2.3,0a1.15,1.7 0 1,0 -2.3,0M435.1,414.8v2.3M436.8,413.7a1.15,1.7 0 1,0 2.3,0a1.15,1.7 0 1,0 -2.3,0M438.0,415.4v2.3M455.4,410.2a1.15,1.7 0 1,0 2.3,0a1.15,1.7 0 1,0 -2.3,0M456.6,411.9v2.3M458.3,410.8a1.15,1.7 0 1,0 2.3,0a1.15,1.7 0 1,0 -2.3,0M459.5,412.5v2.3M472.7,406.2a1.15,1.7 0 1,0 2.3,0a1.15,1.7 0 1,0 -2.3,0M473.8,407.9v2.3M475.6,406.8a1.15,1.7 0 1,0 2.3,0a1.15,1.7 0 1,0 -2.3,0M476.7,408.5v2.3M491.8,409.4a1.15,1.7 0 1,0 2.3,0a1.15,1.7 0 1,0 -2.3,0M492.9,411.1v2.3M494.7,410.0a1.15,1.7 0 1,0 2.3,0a1.15,1.7 0 1,0 -2.3,0M495.8,411.7v2.3M510.9,411.0a1.15,1.7 0 1,0 2.3,0a1.15,1.7 0 1,0 -2.3,0M512.1,412.7v2.3M513.8,411.6a1.15,1.7 0 1,0 2.3,0a1.15,1.7 0 1,0 -2.3,0M515.0,413.3v2.3M526.2,406.2a1.15,1.7 0 1,0 2.3,0a1.15,1.7 0 1,0 -2.3,0M527.3,407.9v2.3M529.1,406.8a1.15,1.7 0 1,0 2.3,0a1.15,1.7 0 1,0 -2.3,0M530.2,408.5v2.3M550.3,406.8a1.15,1.7 0 1,0 2.3,0a1.15,1.7 0 1,0 -2.3,0M551.5,408.5v2.3M553.2,407.4a1.15,1.7 0 1,0 2.3,0a1.15,1.7 0 1,0 -2.3,0M554.4,409.1v2.3M565.7,408.5a1.15,1.7 0 1,0 2.3,0a1.15,1.7 0 1,0 -2.3,0M566.8,410.2v2.3M568.6,409.1a1.15,1.7 0 1,0 2.3,0a1.15,1.7 0 1,0 -2.3,0M569.7,410.8v2.3M583.3,411.7a1.15,1.7 0 1,0 2.3,0a1.15,1.7 0 1,0 -2.3,0M584.4,413.4v2.3M586.2,412.3a1.15,1.7 0 1,0 2.3,0a1.15,1.7 0 1,0 -2.3,0M587.3,414.0v2.3M607.7,407.9a1.15,1.7 0 1,0 2.3,0a1.15,1.7 0 1,0 -2.3,0M608.9,409.6v2.3M610.6,408.5a1.15,1.7 0 1,0 2.3,0a1.15,1.7 0 1,0 -2.3,0M611.8,410.2v2.3M624.1,408.2a1.15,1.7 0 1,0 2.3,0a1.15,1.7 0 1,0 -2.3,0M625.3,409.9v2.3M627.0,408.8a1.15,1.7 0 1,0 2.3,0a1.15,1.7 0 1,0 -2.3,0M628.2,410.5v2.3M642.4,409.0a1.15,1.7 0 1,0 2.3,0a1.15,1.7 0 1,0 -2.3,0M643.5,410.7v2.3M645.3,409.6a1.15,1.7 0 1,0 2.3,0a1.15,1.7 0 1,0 -2.3,0M646.4,411.3v2.3M658.2,407.1a1.15,1.7 0 1,0 2.3,0a1.15,1.7 0 1,0 -2.3,0M659.4,408.8v2.3M661.1,407.7a1.15,1.7 0 1,0 2.3,0a1.15,1.7 0 1,0 -2.3,0M662.3,409.4v2.3M677.6,413.0a1.15,1.7 0 1,0 2.3,0a1.15,1.7 0 1,0 -2.3,0M678.7,414.7v2.3M680.5,413.6a1.15,1.7 0 1,0 2.3,0a1.15,1.7 0 1,0 -2.3,0M681.6,415.3v2.3M698.9,407.6a1.15,1.7 0 1,0 2.3,0a1.15,1.7 0 1,0 -2.3,0M700.0,409.3v2.3M701.8,408.2a1.15,1.7 0 1,0 2.3,0a1.15,1.7 0 1,0 -2.3,0M702.9,409.9v2.3M721.2,413.8a1.15,1.7 0 1,0 2.3,0a1.15,1.7 0 1,0 -2.3,0M722.3,415.5v2.3M724.1,414.4a1.15,1.7 0 1,0 2.3,0a1.15,1.7 0 1,0 -2.3,0M725.2,416.1v2.3M5.0,423.4a1.15,1.7 0 1,0 2.3,0a1.15,1.7 0 1,0 -2.3,0M6.1,425.1v2.3M7.9,424.0a1.15,1.7 0 1,0 2.3,0a1.15,1.7 0 1,0 -2.3,0M9.0,425.7v2.3M21.9,423.0a1.15,1.7 0 1,0 2.3,0a1.15,1.7 0 1,0 -2.3,0M23.1,424.7v2.3M24.8,423.6a1.15,1.7 0 1,0 2.3,0a1.15,1.7 0 1,0 -2.3,0M26.0,425.3v2.3M42.1,423.0a1.15,1.7 0 1,0 2.3,0a1.15,1.7 0 1,0 -2.3,0M43.3,424.7v2.3M45.0,423.6a1.15,1.7 0 1,0 2.3,0a1.15,1.7 0 1,0 -2.3,0M46.2,425.3v2.3M60.3,424.4a1.15,1.7 0 1,0 2.3,0a1.15,1.7 0 1,0 -2.3,0M61.5,426.1v2.3M63.2,425.0a1.15,1.7 0 1,0 2.3,0a1.15,1.7 0 1,0 -2.3,0M64.4,426.7v2.3M82.0,429.4a1.15,1.7 0 1,0 2.3,0a1.15,1.7 0 1,0 -2.3,0M83.1,431.1v2.3M84.9,430.0a1.15,1.7 0 1,0 2.3,0a1.15,1.7 0 1,0 -2.3,0M86.0,431.7v2.3M102.4,425.6a1.15,1.7 0 1,0 2.3,0a1.15,1.7 0 1,0 -2.3,0M103.5,427.3v2.3M105.3,426.2a1.15,1.7 0 1,0 2.3,0a1.15,1.7 0 1,0 -2.3,0M106.4,427.9v2.3M118.7,426.5a1.15,1.7 0 1,0 2.3,0a1.15,1.7 0 1,0 -2.3,0M119.9,428.2v2.3M121.6,427.1a1.15,1.7 0 1,0 2.3,0a1.15,1.7 0 1,0 -2.3,0M122.8,428.8v2.3M137.4,425.0a1.15,1.7 0 1,0 2.3,0a1.15,1.7 0 1,0 -2.3,0M138.6,426.7v2.3M140.3,425.6a1.15,1.7 0 1,0 2.3,0a1.15,1.7 0 1,0 -2.3,0M141.5,427.3v2.3M153.9,424.5a1.15,1.7 0 1,0 2.3,0a1.15,1.7 0 1,0 -2.3,0M155.0,426.2v2.3M156.8,425.1a1.15,1.7 0 1,0 2.3,0a1.15,1.7 0 1,0 -2.3,0M157.9,426.8v2.3M180.1,423.3a1.15,1.7 0 1,0 2.3,0a1.15,1.7 0 1,0 -2.3,0M181.3,425.0v2.3M183.0,423.9a1.15,1.7 0 1,0 2.3,0a1.15,1.7 0 1,0 -2.3,0M184.2,425.6v2.3M195.4,427.3a1.15,1.7 0 1,0 2.3,0a1.15,1.7 0 1,0 -2.3,0M196.6,429.0v2.3M198.3,427.9a1.15,1.7 0 1,0 2.3,0a1.15,1.7 0 1,0 -2.3,0M199.5,429.6v2.3M217.3,424.0a1.15,1.7 0 1,0 2.3,0a1.15,1.7 0 1,0 -2.3,0M218.5,425.7v2.3M220.2,424.6a1.15,1.7 0 1,0 2.3,0a1.15,1.7 0 1,0 -2.3,0M221.4,426.3v2.3M231.6,424.3a1.15,1.7 0 1,0 2.3,0a1.15,1.7 0 1,0 -2.3,0M232.7,426.0v2.3M234.5,424.9a1.15,1.7 0 1,0 2.3,0a1.15,1.7 0 1,0 -2.3,0M235.6,426.6v2.3M251.6,425.9a1.15,1.7 0 1,0 2.3,0a1.15,1.7 0 1,0 -2.3,0M252.7,427.6v2.3M254.5,426.5a1.15,1.7 0 1,0 2.3,0a1.15,1.7 0 1,0 -2.3,0M255.6,428.2v2.3M275.0,429.1a1.15,1.7 0 1,0 2.3,0a1.15,1.7 0 1,0 -2.3,0M276.2,430.8v2.3M277.9,429.7a1.15,1.7 0 1,0 2.3,0a1.15,1.7 0 1,0 -2.3,0M279.1,431.4v2.3M293.4,422.5a1.15,1.7 0 1,0 2.3,0a1.15,1.7 0 1,0 -2.3,0M294.5,424.2v2.3M296.3,423.1a1.15,1.7 0 1,0 2.3,0a1.15,1.7 0 1,0 -2.3,0M297.4,424.8v2.3M305.7,428.0a1.15,1.7 0 1,0 2.3,0a1.15,1.7 0 1,0 -2.3,0M306.8,429.7v2.3M308.6,428.6a1.15,1.7 0 1,0 2.3,0a1.15,1.7 0 1,0 -2.3,0M309.7,430.3v2.3M331.6,426.1a1.15,1.7 0 1,0 2.3,0a1.15,1.7 0 1,0 -2.3,0M332.7,427.8v2.3M334.5,426.7a1.15,1.7 0 1,0 2.3,0a1.15,1.7 0 1,0 -2.3,0M335.6,428.4v2.3M348.1,422.3a1.15,1.7 0 1,0 2.3,0a1.15,1.7 0 1,0 -2.3,0M349.2,424.0v2.3M351.0,422.9a1.15,1.7 0 1,0 2.3,0a1.15,1.7 0 1,0 -2.3,0M352.1,424.6v2.3M365.5,429.7a1.15,1.7 0 1,0 2.3,0a1.15,1.7 0 1,0 -2.3,0M366.7,431.4v2.3M368.4,430.3a1.15,1.7 0 1,0 2.3,0a1.15,1.7 0 1,0 -2.3,0M369.6,432.0v2.3M388.0,429.1a1.15,1.7 0 1,0 2.3,0a1.15,1.7 0 1,0 -2.3,0M389.2,430.8v2.3M390.9,429.7a1.15,1.7 0 1,0 2.3,0a1.15,1.7 0 1,0 -2.3,0M392.1,431.4v2.3M408.2,424.3a1.15,1.7 0 1,0 2.3,0a1.15,1.7 0 1,0 -2.3,0M409.3,426.0v2.3M411.1,424.9a1.15,1.7 0 1,0 2.3,0a1.15,1.7 0 1,0 -2.3,0M412.2,426.6v2.3M420.3,423.5a1.15,1.7 0 1,0 2.3,0a1.15,1.7 0 1,0 -2.3,0M421.4,425.2v2.3M423.2,424.1a1.15,1.7 0 1,0 2.3,0a1.15,1.7 0 1,0 -2.3,0M424.3,425.8v2.3M442.6,427.8a1.15,1.7 0 1,0 2.3,0a1.15,1.7 0 1,0 -2.3,0M443.7,429.5v2.3M445.5,428.4a1.15,1.7 0 1,0 2.3,0a1.15,1.7 0 1,0 -2.3,0M446.6,430.1v2.3M464.9,428.1a1.15,1.7 0 1,0 2.3,0a1.15,1.7 0 1,0 -2.3,0M466.1,429.8v2.3M467.8,428.7a1.15,1.7 0 1,0 2.3,0a1.15,1.7 0 1,0 -2.3,0M469.0,430.4v2.3M481.6,428.4a1.15,1.7 0 1,0 2.3,0a1.15,1.7 0 1,0 -2.3,0M482.7,430.1v2.3M484.5,429.0a1.15,1.7 0 1,0 2.3,0a1.15,1.7 0 1,0 -2.3,0M485.6,430.7v2.3M499.1,426.7a1.15,1.7 0 1,0 2.3,0a1.15,1.7 0 1,0 -2.3,0M500.2,428.4v2.3M502.0,427.3a1.15,1.7 0 1,0 2.3,0a1.15,1.7 0 1,0 -2.3,0M503.1,429.0v2.3M514.7,428.6a1.15,1.7 0 1,0 2.3,0a1.15,1.7 0 1,0 -2.3,0M515.9,430.3v2.3M517.6,429.2a1.15,1.7 0 1,0 2.3,0a1.15,1.7 0 1,0 -2.3,0M518.8,430.9v2.3M535.3,429.7a1.15,1.7 0 1,0 2.3,0a1.15,1.7 0 1,0 -2.3,0M536.4,431.4v2.3M538.2,430.3a1.15,1.7 0 1,0 2.3,0a1.15,1.7 0 1,0 -2.3,0M539.3,432.0v2.3M557.6,424.7a1.15,1.7 0 1,0 2.3,0a1.15,1.7 0 1,0 -2.3,0M558.7,426.4v2.3M560.5,425.3a1.15,1.7 0 1,0 2.3,0a1.15,1.7 0 1,0 -2.3,0M561.6,427.0v2.3M572.4,424.3a1.15,1.7 0 1,0 2.3,0a1.15,1.7 0 1,0 -2.3,0M573.6,426.0v2.3M575.3,424.9a1.15,1.7 0 1,0 2.3,0a1.15,1.7 0 1,0 -2.3,0M576.5,426.6v2.3M595.5,427.9a1.15,1.7 0 1,0 2.3,0a1.15,1.7 0 1,0 -2.3,0M596.6,429.6v2.3M598.4,428.5a1.15,1.7 0 1,0 2.3,0a1.15,1.7 0 1,0 -2.3,0M599.5,430.2v2.3M610.3,422.9a1.15,1.7 0 1,0 2.3,0a1.15,1.7 0 1,0 -2.3,0M611.4,424.6v2.3M613.2,423.5a1.15,1.7 0 1,0 2.3,0a1.15,1.7 0 1,0 -2.3,0M614.3,425.2v2.3M632.6,427.0a1.15,1.7 0 1,0 2.3,0a1.15,1.7 0 1,0 -2.3,0M633.7,428.7v2.3M635.5,427.6a1.15,1.7 0 1,0 2.3,0a1.15,1.7 0 1,0 -2.3,0M636.6,429.3v2.3M650.5,424.1a1.15,1.7 0 1,0 2.3,0a1.15,1.7 0 1,0 -2.3,0M651.7,425.8v2.3M653.4,424.7a1.15,1.7 0 1,0 2.3,0a1.15,1.7 0 1,0 -2.3,0M654.6,426.4v2.3M671.2,422.4a1.15,1.7 0 1,0 2.3,0a1.15,1.7 0 1,0 -2.3,0M672.4,424.1v2.3M674.1,423.0a1.15,1.7 0 1,0 2.3,0a1.15,1.7 0 1,0 -2.3,0M675.3,424.7v2.3M687.8,426.0a1.15,1.7 0 1,0 2.3,0a1.15,1.7 0 1,0 -2.3,0M689.0,427.7v2.3M690.7,426.6a1.15,1.7 0 1,0 2.3,0a1.15,1.7 0 1,0 -2.3,0M691.9,428.3v2.3M712.1,427.5a1.15,1.7 0 1,0 2.3,0a1.15,1.7 0 1,0 -2.3,0M713.2,429.2v2.3M715.0,428.1a1.15,1.7 0 1,0 2.3,0a1.15,1.7 0 1,0 -2.3,0M716.1,429.8v2.3M18.0,442.6a1.15,1.7 0 1,0 2.3,0a1.15,1.7 0 1,0 -2.3,0M19.1,444.3v2.3M20.9,443.2a1.15,1.7 0 1,0 2.3,0a1.15,1.7 0 1,0 -2.3,0M22.0,444.9v2.3M31.8,440.8a1.15,1.7 0 1,0 2.3,0a1.15,1.7 0 1,0 -2.3,0M32.9,442.5v2.3M34.7,441.4a1.15,1.7 0 1,0 2.3,0a1.15,1.7 0 1,0 -2.3,0M35.8,443.1v2.3M56.6,444.4a1.15,1.7 0 1,0 2.3,0a1.15,1.7 0 1,0 -2.3,0M57.7,446.1v2.3M59.5,445.0a1.15,1.7 0 1,0 2.3,0a1.15,1.7 0 1,0 -2.3,0M60.6,446.7v2.3M70.4,439.0a1.15,1.7 0 1,0 2.3,0a1.15,1.7 0 1,0 -2.3,0M71.5,440.7v2.3M73.3,439.6a1.15,1.7 0 1,0 2.3,0a1.15,1.7 0 1,0 -2.3,0M74.4,441.3v2.3M90.9,444.2a1.15,1.7 0 1,0 2.3,0a1.15,1.7 0 1,0 -2.3,0M92.0,445.9v2.3M93.8,444.8a1.15,1.7 0 1,0 2.3,0a1.15,1.7 0 1,0 -2.3,0M94.9,446.5v2.3M109.3,440.9a1.15,1.7 0 1,0 2.3,0a1.15,1.7 0 1,0 -2.3,0M110.4,442.6v2.3M112.2,441.5a1.15,1.7 0 1,0 2.3,0a1.15,1.7 0 1,0 -2.3,0M113.3,443.2v2.3M130.2,446.2a1.15,1.7 0 1,0 2.3,0a1.15,1.7 0 1,0 -2.3,0M131.4,447.9v2.3M133.1,446.8a1.15,1.7 0 1,0 2.3,0a1.15,1.7 0 1,0 -2.3,0M134.3,448.5v2.3M145.7,439.1a1.15,1.7 0 1,0 2.3,0a1.15,1.7 0 1,0 -2.3,0M146.9,440.8v2.3M148.6,439.7a1.15,1.7 0 1,0 2.3,0a1.15,1.7 0 1,0 -2.3,0M149.8,441.4v2.3M165.6,442.2a1.15,1.7 0 1,0 2.3,0a1.15,1.7 0 1,0 -2.3,0M166.8,443.9v2.3M168.5,442.8a1.15,1.7 0 1,0 2.3,0a1.15,1.7 0 1,0 -2.3,0M169.7,444.5v2.3M187.4,440.4a1.15,1.7 0 1,0 2.3,0a1.15,1.7 0 1,0 -2.3,0M188.5,442.1v2.3M190.3,441.0a1.15,1.7 0 1,0 2.3,0a1.15,1.7 0 1,0 -2.3,0M191.4,442.7v2.3M207.3,444.7a1.15,1.7 0 1,0 2.3,0a1.15,1.7 0 1,0 -2.3,0M208.4,446.4v2.3M210.2,445.3a1.15,1.7 0 1,0 2.3,0a1.15,1.7 0 1,0 -2.3,0M211.3,447.0v2.3M223.9,440.4a1.15,1.7 0 1,0 2.3,0a1.15,1.7 0 1,0 -2.3,0M225.1,442.1v2.3M226.8,441.0a1.15,1.7 0 1,0 2.3,0a1.15,1.7 0 1,0 -2.3,0M228.0,442.7v2.3M246.7,441.3a1.15,1.7 0 1,0 2.3,0a1.15,1.7 0 1,0 -2.3,0M247.8,443.0v2.3M249.6,441.9a1.15,1.7 0 1,0 2.3,0a1.15,1.7 0 1,0 -2.3,0M250.7,443.6v2.3M264.5,440.6a1.15,1.7 0 1,0 2.3,0a1.15,1.7 0 1,0 -2.3,0M265.6,442.3v2.3M267.4,441.2a1.15,1.7 0 1,0 2.3,0a1.15,1.7 0 1,0 -2.3,0M268.5,442.9v2.3M278.7,444.9a1.15,1.7 0 1,0 2.3,0a1.15,1.7 0 1,0 -2.3,0M279.8,446.6v2.3M281.6,445.5a1.15,1.7 0 1,0 2.3,0a1.15,1.7 0 1,0 -2.3,0M282.7,447.2v2.3M298.3,446.4a1.15,1.7 0 1,0 2.3,0a1.15,1.7 0 1,0 -2.3,0M299.4,448.1v2.3M301.2,447.0a1.15,1.7 0 1,0 2.3,0a1.15,1.7 0 1,0 -2.3,0M302.3,448.7v2.3M318.9,440.3a1.15,1.7 0 1,0 2.3,0a1.15,1.7 0 1,0 -2.3,0M320.0,442.0v2.3M321.8,440.9a1.15,1.7 0 1,0 2.3,0a1.15,1.7 0 1,0 -2.3,0M322.9,442.6v2.3M335.7,442.1a1.15,1.7 0 1,0 2.3,0a1.15,1.7 0 1,0 -2.3,0M336.8,443.8v2.3M338.6,442.7a1.15,1.7 0 1,0 2.3,0a1.15,1.7 0 1,0 -2.3,0M339.7,444.4v2.3M358.2,446.4a1.15,1.7 0 1,0 2.3,0a1.15,1.7 0 1,0 -2.3,0M359.4,448.1v2.3M361.1,447.0a1.15,1.7 0 1,0 2.3,0a1.15,1.7 0 1,0 -2.3,0M362.3,448.7v2.3M373.1,441.9a1.15,1.7 0 1,0 2.3,0a1.15,1.7 0 1,0 -2.3,0M374.2,443.6v2.3M376.0,442.5a1.15,1.7 0 1,0 2.3,0a1.15,1.7 0 1,0 -2.3,0M377.1,444.2v2.3M392.6,446.6a1.15,1.7 0 1,0 2.3,0a1.15,1.7 0 1,0 -2.3,0M393.8,448.3v2.3M395.5,447.2a1.15,1.7 0 1,0 2.3,0a1.15,1.7 0 1,0 -2.3,0M396.7,448.9v2.3M411.0,439.2a1.15,1.7 0 1,0 2.3,0a1.15,1.7 0 1,0 -2.3,0M412.2,440.9v2.3M413.9,439.8a1.15,1.7 0 1,0 2.3,0a1.15,1.7 0 1,0 -2.3,0M415.1,441.5v2.3M429.4,441.9a1.15,1.7 0 1,0 2.3,0a1.15,1.7 0 1,0 -2.3,0M430.5,443.6v2.3M432.3,442.5a1.15,1.7 0 1,0 2.3,0a1.15,1.7 0 1,0 -2.3,0M433.4,444.2v2.3M455.1,445.9a1.15,1.7 0 1,0 2.3,0a1.15,1.7 0 1,0 -2.3,0M456.2,447.6v2.3M458.0,446.5a1.15,1.7 0 1,0 2.3,0a1.15,1.7 0 1,0 -2.3,0M459.1,448.2v2.3M472.8,446.8a1.15,1.7 0 1,0 2.3,0a1.15,1.7 0 1,0 -2.3,0M473.9,448.5v2.3M475.7,447.4a1.15,1.7 0 1,0 2.3,0a1.15,1.7 0 1,0 -2.3,0M476.8,449.1v2.3M493.4,441.4a1.15,1.7 0 1,0 2.3,0a1.15,1.7 0 1,0 -2.3,0M494.5,443.1v2.3M496.3,442.0a1.15,1.7 0 1,0 2.3,0a1.15,1.7 0 1,0 -2.3,0M497.4,443.7v2.3M506.4,446.3a1.15,1.7 0 1,0 2.3,0a1.15,1.7 0 1,0 -2.3,0M507.5,448.0v2.3M509.3,446.9a1.15,1.7 0 1,0 2.3,0a1.15,1.7 0 1,0 -2.3,0M510.4,448.6v2.3M529.9,439.1a1.15,1.7 0 1,0 2.3,0a1.15,1.7 0 1,0 -2.3,0M531.0,440.8v2.3M532.8,439.7a1.15,1.7 0 1,0 2.3,0a1.15,1.7 0 1,0 -2.3,0M533.9,441.4v2.3M548.2,441.8a1.15,1.7 0 1,0 2.3,0a1.15,1.7 0 1,0 -2.3,0M549.4,443.5v2.3M551.1,442.4a1.15,1.7 0 1,0 2.3,0a1.15,1.7 0 1,0 -2.3,0M552.3,444.1v2.3M564.9,441.5a1.15,1.7 0 1,0 2.3,0a1.15,1.7 0 1,0 -2.3,0M566.0,443.2v2.3M567.8,442.1a1.15,1.7 0 1,0 2.3,0a1.15,1.7 0 1,0 -2.3,0M568.9,443.8v2.3M582.3,438.8a1.15,1.7 0 1,0 2.3,0a1.15,1.7 0 1,0 -2.3,0M583.4,440.5v2.3M585.2,439.4a1.15,1.7 0 1,0 2.3,0a1.15,1.7 0 1,0 -2.3,0M586.3,441.1v2.3M602.1,441.6a1.15,1.7 0 1,0 2.3,0a1.15,1.7 0 1,0 -2.3,0M603.3,443.3v2.3M605.0,442.2a1.15,1.7 0 1,0 2.3,0a1.15,1.7 0 1,0 -2.3,0M606.2,443.9v2.3M626.5,439.8a1.15,1.7 0 1,0 2.3,0a1.15,1.7 0 1,0 -2.3,0M627.7,441.5v2.3M629.4,440.4a1.15,1.7 0 1,0 2.3,0a1.15,1.7 0 1,0 -2.3,0M630.6,442.1v2.3M645.6,440.5a1.15,1.7 0 1,0 2.3,0a1.15,1.7 0 1,0 -2.3,0M646.8,442.2v2.3M648.5,441.1a1.15,1.7 0 1,0 2.3,0a1.15,1.7 0 1,0 -2.3,0M649.7,442.8v2.3M659.8,445.4a1.15,1.7 0 1,0 2.3,0a1.15,1.7 0 1,0 -2.3,0M660.9,447.1v2.3M662.7,446.0a1.15,1.7 0 1,0 2.3,0a1.15,1.7 0 1,0 -2.3,0M663.8,447.7v2.3M682.5,442.3a1.15,1.7 0 1,0 2.3,0a1.15,1.7 0 1,0 -2.3,0M683.6,444.0v2.3M685.4,442.9a1.15,1.7 0 1,0 2.3,0a1.15,1.7 0 1,0 -2.3,0M686.5,444.6v2.3M695.3,442.6a1.15,1.7 0 1,0 2.3,0a1.15,1.7 0 1,0 -2.3,0M696.4,444.3v2.3M698.2,443.2a1.15,1.7 0 1,0 2.3,0a1.15,1.7 0 1,0 -2.3,0M699.3,444.9v2.3M716.9,446.2a1.15,1.7 0 1,0 2.3,0a1.15,1.7 0 1,0 -2.3,0M718.0,447.9v2.3M719.8,446.8a1.15,1.7 0 1,0 2.3,0a1.15,1.7 0 1,0 -2.3,0M720.9,448.5v2.3M2.9,458.2a1.15,1.7 0 1,0 2.3,0a1.15,1.7 0 1,0 -2.3,0M4.1,459.9v2.3M5.8,458.8a1.15,1.7 0 1,0 2.3,0a1.15,1.7 0 1,0 -2.3,0M7.0,460.5v2.3M27.6,455.5a1.15,1.7 0 1,0 2.3,0a1.15,1.7 0 1,0 -2.3,0M28.7,457.2v2.3M30.5,456.1a1.15,1.7 0 1,0 2.3,0a1.15,1.7 0 1,0 -2.3,0M31.6,457.8v2.3M42.7,461.8a1.15,1.7 0 1,0 2.3,0a1.15,1.7 0 1,0 -2.3,0M43.8,463.5v2.3M45.6,462.4a1.15,1.7 0 1,0 2.3,0a1.15,1.7 0 1,0 -2.3,0M46.7,464.1v2.3M64.5,455.6a1.15,1.7 0 1,0 2.3,0a1.15,1.7 0 1,0 -2.3,0M65.7,457.3v2.3M67.4,456.2a1.15,1.7 0 1,0 2.3,0a1.15,1.7 0 1,0 -2.3,0M68.6,457.9v2.3M77.7,455.8a1.15,1.7 0 1,0 2.3,0a1.15,1.7 0 1,0 -2.3,0M78.8,457.5v2.3M80.6,456.4a1.15,1.7 0 1,0 2.3,0a1.15,1.7 0 1,0 -2.3,0M81.7,458.1v2.3M103.8,457.4a1.15,1.7 0 1,0 2.3,0a1.15,1.7 0 1,0 -2.3,0M104.9,459.1v2.3M106.7,458.0a1.15,1.7 0 1,0 2.3,0a1.15,1.7 0 1,0 -2.3,0M107.8,459.7v2.3M121.4,462.5a1.15,1.7 0 1,0 2.3,0a1.15,1.7 0 1,0 -2.3,0M122.5,464.2v2.3M124.3,463.1a1.15,1.7 0 1,0 2.3,0a1.15,1.7 0 1,0 -2.3,0M125.4,464.8v2.3M137.1,457.5a1.15,1.7 0 1,0 2.3,0a1.15,1.7 0 1,0 -2.3,0M138.3,459.2v2.3M140.0,458.1a1.15,1.7 0 1,0 2.3,0a1.15,1.7 0 1,0 -2.3,0M141.2,459.8v2.3M161.1,460.2a1.15,1.7 0 1,0 2.3,0a1.15,1.7 0 1,0 -2.3,0M162.2,461.9v2.3M164.0,460.8a1.15,1.7 0 1,0 2.3,0a1.15,1.7 0 1,0 -2.3,0M165.1,462.5v2.3M174.5,461.0a1.15,1.7 0 1,0 2.3,0a1.15,1.7 0 1,0 -2.3,0M175.6,462.7v2.3M177.4,461.6a1.15,1.7 0 1,0 2.3,0a1.15,1.7 0 1,0 -2.3,0M178.5,463.3v2.3M193.9,457.5a1.15,1.7 0 1,0 2.3,0a1.15,1.7 0 1,0 -2.3,0M195.1,459.2v2.3M196.8,458.1a1.15,1.7 0 1,0 2.3,0a1.15,1.7 0 1,0 -2.3,0M198.0,459.8v2.3M210.4,461.3a1.15,1.7 0 1,0 2.3,0a1.15,1.7 0 1,0 -2.3,0M211.6,463.0v2.3M213.3,461.9a1.15,1.7 0 1,0 2.3,0a1.15,1.7 0 1,0 -2.3,0M214.5,463.6v2.3M236.7,460.4a1.15,1.7 0 1,0 2.3,0a1.15,1.7 0 1,0 -2.3,0M237.9,462.1v2.3M239.6,461.0a1.15,1.7 0 1,0 2.3,0a1.15,1.7 0 1,0 -2.3,0M240.8,462.7v2.3M255.9,455.5a1.15,1.7 0 1,0 2.3,0a1.15,1.7 0 1,0 -2.3,0M257.1,457.2v2.3M258.8,456.1a1.15,1.7 0 1,0 2.3,0a1.15,1.7 0 1,0 -2.3,0M260.0,457.8v2.3M269.3,459.1a1.15,1.7 0 1,0 2.3,0a1.15,1.7 0 1,0 -2.3,0M270.4,460.8v2.3M272.2,459.7a1.15,1.7 0 1,0 2.3,0a1.15,1.7 0 1,0 -2.3,0M273.3,461.4v2.3M294.1,462.9a1.15,1.7 0 1,0 2.3,0a1.15,1.7 0 1,0 -2.3,0M295.2,464.6v2.3M297.0,463.5a1.15,1.7 0 1,0 2.3,0a1.15,1.7 0 1,0 -2.3,0M298.1,465.2v2.3M308.5,457.3a1.15,1.7 0 1,0 2.3,0a1.15,1.7 0 1,0 -2.3,0M309.6,459.0v2.3M311.4,457.9a1.15,1.7 0 1,0 2.3,0a1.15,1.7 0 1,0 -2.3,0M312.5,459.6v2.3M327.8,459.2a1.15,1.7 0 1,0 2.3,0a1.15,1.7 0 1,0 -2.3,0M329.0,460.9v2.3M330.7,459.8a1.15,1.7 0 1,0 2.3,0a1.15,1.7 0 1,0 -2.3,0M331.9,461.5v2.3M350.8,456.8a1.15,1.7 0 1,0 2.3,0a1.15,1.7 0 1,0 -2.3,0M352.0,458.5v2.3M353.7,457.4a1.15,1.7 0 1,0 2.3,0a1.15,1.7 0 1,0 -2.3,0M354.9,459.1v2.3M368.8,461.2a1.15,1.7 0 1,0 2.3,0a1.15,1.7 0 1,0 -2.3,0M370.0,462.9v2.3M371.7,461.8a1.15,1.7 0 1,0 2.3,0a1.15,1.7 0 1,0 -2.3,0M372.9,463.5v2.3M388.0,461.5a1.15,1.7 0 1,0 2.3,0a1.15,1.7 0 1,0 -2.3,0M389.1,463.2v2.3M390.9,462.1a1.15,1.7 0 1,0 2.3,0a1.15,1.7 0 1,0 -2.3,0M392.0,463.8v2.3M405.3,457.9a1.15,1.7 0 1,0 2.3,0a1.15,1.7 0 1,0 -2.3,0M406.4,459.6v2.3M408.2,458.5a1.15,1.7 0 1,0 2.3,0a1.15,1.7 0 1,0 -2.3,0M409.3,460.2v2.3M422.0,458.2a1.15,1.7 0 1,0 2.3,0a1.15,1.7 0 1,0 -2.3,0M423.1,459.9v2.3M424.9,458.8a1.15,1.7 0 1,0 2.3,0a1.15,1.7 0 1,0 -2.3,0M426.0,460.5v2.3M444.7,455.9a1.15,1.7 0 1,0 2.3,0a1.15,1.7 0 1,0 -2.3,0M445.8,457.6v2.3M447.6,456.5a1.15,1.7 0 1,0 2.3,0a1.15,1.7 0 1,0 -2.3,0M448.7,458.2v2.3M459.0,461.3a1.15,1.7 0 1,0 2.3,0a1.15,1.7 0 1,0 -2.3,0M460.1,463.0v2.3M461.9,461.9a1.15,1.7 0 1,0 2.3,0a1.15,1.7 0 1,0 -2.3,0M463.0,463.6v2.3M478.4,455.8a1.15,1.7 0 1,0 2.3,0a1.15,1.7 0 1,0 -2.3,0M479.5,457.5v2.3M481.3,456.4a1.15,1.7 0 1,0 2.3,0a1.15,1.7 0 1,0 -2.3,0M482.4,458.1v2.3M495.7,459.7a1.15,1.7 0 1,0 2.3,0a1.15,1.7 0 1,0 -2.3,0M496.8,461.4v2.3M498.6,460.3a1.15,1.7 0 1,0 2.3,0a1.15,1.7 0 1,0 -2.3,0M499.7,462.0v2.3M517.0,463.1a1.15,1.7 0 1,0 2.3,0a1.15,1.7 0 1,0 -2.3,0M518.2,464.8v2.3M519.9,463.7a1.15,1.7 0 1,0 2.3,0a1.15,1.7 0 1,0 -2.3,0M521.1,465.4v2.3M540.5,463.2a1.15,1.7 0 1,0 2.3,0a1.15,1.7 0 1,0 -2.3,0M541.6,464.9v2.3M543.4,463.8a1.15,1.7 0 1,0 2.3,0a1.15,1.7 0 1,0 -2.3,0M544.5,465.5v2.3M554.5,456.0a1.15,1.7 0 1,0 2.3,0a1.15,1.7 0 1,0 -2.3,0M555.7,457.7v2.3M557.4,456.6a1.15,1.7 0 1,0 2.3,0a1.15,1.7 0 1,0 -2.3,0M558.6,458.3v2.3M572.2,459.3a1.15,1.7 0 1,0 2.3,0a1.15,1.7 0 1,0 -2.3,0M573.3,461.0v2.3M575.1,459.9a1.15,1.7 0 1,0 2.3,0a1.15,1.7 0 1,0 -2.3,0M576.2,461.6v2.3M596.1,458.9a1.15,1.7 0 1,0 2.3,0a1.15,1.7 0 1,0 -2.3,0M597.2,460.6v2.3M599.0,459.5a1.15,1.7 0 1,0 2.3,0a1.15,1.7 0 1,0 -2.3,0M600.1,461.2v2.3M611.3,458.6a1.15,1.7 0 1,0 2.3,0a1.15,1.7 0 1,0 -2.3,0M612.4,460.3v2.3M614.2,459.2a1.15,1.7 0 1,0 2.3,0a1.15,1.7 0 1,0 -2.3,0M615.3,460.9v2.3M633.4,460.7a1.15,1.7 0 1,0 2.3,0a1.15,1.7 0 1,0 -2.3,0M634.5,462.4v2.3M636.3,461.3a1.15,1.7 0 1,0 2.3,0a1.15,1.7 0 1,0 -2.3,0M637.4,463.0v2.3M653.4,462.1a1.15,1.7 0 1,0 2.3,0a1.15,1.7 0 1,0 -2.3,0M654.5,463.8v2.3M656.3,462.7a1.15,1.7 0 1,0 2.3,0a1.15,1.7 0 1,0 -2.3,0M657.4,464.4v2.3M671.7,456.3a1.15,1.7 0 1,0 2.3,0a1.15,1.7 0 1,0 -2.3,0M672.9,458.0v2.3M674.6,456.9a1.15,1.7 0 1,0 2.3,0a1.15,1.7 0 1,0 -2.3,0M675.8,458.6v2.3M692.1,457.7a1.15,1.7 0 1,0 2.3,0a1.15,1.7 0 1,0 -2.3,0M693.3,459.4v2.3M695.0,458.3a1.15,1.7 0 1,0 2.3,0a1.15,1.7 0 1,0 -2.3,0M696.2,460.0v2.3M708.9,458.3a1.15,1.7 0 1,0 2.3,0a1.15,1.7 0 1,0 -2.3,0M710.1,460.0v2.3M711.8,458.9a1.15,1.7 0 1,0 2.3,0a1.15,1.7 0 1,0 -2.3,0M713.0,460.6v2.3M16.8,473.4a1.15,1.7 0 1,0 2.3,0a1.15,1.7 0 1,0 -2.3,0M18.0,475.1v2.3M19.7,474.0a1.15,1.7 0 1,0 2.3,0a1.15,1.7 0 1,0 -2.3,0M20.9,475.7v2.3M31.9,473.8a1.15,1.7 0 1,0 2.3,0a1.15,1.7 0 1,0 -2.3,0M33.0,475.5v2.3M34.8,474.4a1.15,1.7 0 1,0 2.3,0a1.15,1.7 0 1,0 -2.3,0M35.9,476.1v2.3M50.1,478.9a1.15,1.7 0 1,0 2.3,0a1.15,1.7 0 1,0 -2.3,0M51.3,480.6v2.3M53.0,479.5a1.15,1.7 0 1,0 2.3,0a1.15,1.7 0 1,0 -2.3,0M54.2,481.2v2.3M72.5,474.4a1.15,1.7 0 1,0 2.3,0a1.15,1.7 0 1,0 -2.3,0M73.7,476.1v2.3M75.4,475.0a1.15,1.7 0 1,0 2.3,0a1.15,1.7 0 1,0 -2.3,0M76.6,476.7v2.3M90.1,479.7a1.15,1.7 0 1,0 2.3,0a1.15,1.7 0 1,0 -2.3,0M91.2,481.4v2.3M93.0,480.3a1.15,1.7 0 1,0 2.3,0a1.15,1.7 0 1,0 -2.3,0M94.1,482.0v2.3M110.0,473.7a1.15,1.7 0 1,0 2.3,0a1.15,1.7 0 1,0 -2.3,0M111.1,475.4v2.3M112.9,474.3a1.15,1.7 0 1,0 2.3,0a1.15,1.7 0 1,0 -2.3,0M114.0,476.0v2.3M131.4,477.0a1.15,1.7 0 1,0 2.3,0a1.15,1.7 0 1,0 -2.3,0M132.5,478.7v2.3M134.3,477.6a1.15,1.7 0 1,0 2.3,0a1.15,1.7 0 1,0 -2.3,0M135.4,479.3v2.3M151.8,472.6a1.15,1.7 0 1,0 2.3,0a1.15,1.7 0 1,0 -2.3,0M153.0,474.3v2.3M154.7,473.2a1.15,1.7 0 1,0 2.3,0a1.15,1.7 0 1,0 -2.3,0M155.9,474.9v2.3M166.7,478.4a1.15,1.7 0 1,0 2.3,0a1.15,1.7 0 1,0 -2.3,0M167.8,480.1v2.3M169.6,479.0a1.15,1.7 0 1,0 2.3,0a1.15,1.7 0 1,0 -2.3,0M170.7,480.7v2.3M188.6,479.1a1.15,1.7 0 1,0 2.3,0a1.15,1.7 0 1,0 -2.3,0M189.8,480.8v2.3M191.5,479.7a1.15,1.7 0 1,0 2.3,0a1.15,1.7 0 1,0 -2.3,0M192.7,481.4v2.3M201.2,474.1a1.15,1.7 0 1,0 2.3,0a1.15,1.7 0 1,0 -2.3,0M202.4,475.8v2.3M204.1,474.7a1.15,1.7 0 1,0 2.3,0a1.15,1.7 0 1,0 -2.3,0M205.3,476.4v2.3M220.9,473.3a1.15,1.7 0 1,0 2.3,0a1.15,1.7 0 1,0 -2.3,0M222.0,475.0v2.3M223.8,473.9a1.15,1.7 0 1,0 2.3,0a1.15,1.7 0 1,0 -2.3,0M224.9,475.6v2.3M246.7,476.5a1.15,1.7 0 1,0 2.3,0a1.15,1.7 0 1,0 -2.3,0M247.8,478.2v2.3M249.6,477.1a1.15,1.7 0 1,0 2.3,0a1.15,1.7 0 1,0 -2.3,0M250.7,478.8v2.3M265.3,474.8a1.15,1.7 0 1,0 2.3,0a1.15,1.7 0 1,0 -2.3,0M266.5,476.5v2.3M268.2,475.4a1.15,1.7 0 1,0 2.3,0a1.15,1.7 0 1,0 -2.3,0M269.4,477.1v2.3M283.8,475.4a1.15,1.7 0 1,0 2.3,0a1.15,1.7 0 1,0 -2.3,0M285.0,477.1v2.3M286.7,476.0a1.15,1.7 0 1,0 2.3,0a1.15,1.7 0 1,0 -2.3,0M287.9,477.7v2.3M298.0,478.0a1.15,1.7 0 1,0 2.3,0a1.15,1.7 0 1,0 -2.3,0M299.1,479.7v2.3M300.9,478.6a1.15,1.7 0 1,0 2.3,0a1.15,1.7 0 1,0 -2.3,0M302.0,480.3v2.3M322.5,472.6a1.15,1.7 0 1,0 2.3,0a1.15,1.7 0 1,0 -2.3,0M323.6,474.3v2.3M325.4,473.2a1.15,1.7 0 1,0 2.3,0a1.15,1.7 0 1,0 -2.3,0M326.5,474.9v2.3M338.7,476.8a1.15,1.7 0 1,0 2.3,0a1.15,1.7 0 1,0 -2.3,0M339.8,478.5v2.3M341.6,477.4a1.15,1.7 0 1,0 2.3,0a1.15,1.7 0 1,0 -2.3,0M342.7,479.1v2.3M354.6,474.7a1.15,1.7 0 1,0 2.3,0a1.15,1.7 0 1,0 -2.3,0M355.8,476.4v2.3M357.5,475.3a1.15,1.7 0 1,0 2.3,0a1.15,1.7 0 1,0 -2.3,0M358.7,477.0v2.3M373.0,473.4a1.15,1.7 0 1,0 2.3,0a1.15,1.7 0 1,0 -2.3,0M374.2,475.1v2.3M375.9,474.0a1.15,1.7 0 1,0 2.3,0a1.15,1.7 0 1,0 -2.3,0M377.1,475.7v2.3M392.9,476.6a1.15,1.7 0 1,0 2.3,0a1.15,1.7 0 1,0 -2.3,0M394.1,478.3v2.3M395.8,477.2a1.15,1.7 0 1,0 2.3,0a1.15,1.7 0 1,0 -2.3,0M397.0,478.9v2.3M415.1,473.4a1.15,1.7 0 1,0 2.3,0a1.15,1.7 0 1,0 -2.3,0M416.3,475.1v2.3M418.0,474.0a1.15,1.7 0 1,0 2.3,0a1.15,1.7 0 1,0 -2.3,0M419.2,475.7v2.3M429.0,474.4a1.15,1.7 0 1,0 2.3,0a1.15,1.7 0 1,0 -2.3,0M430.1,476.1v2.3M431.9,475.0a1.15,1.7 0 1,0 2.3,0a1.15,1.7 0 1,0 -2.3,0M433.0,476.7v2.3M453.3,473.3a1.15,1.7 0 1,0 2.3,0a1.15,1.7 0 1,0 -2.3,0M454.5,475.0v2.3M456.2,473.9a1.15,1.7 0 1,0 2.3,0a1.15,1.7 0 1,0 -2.3,0M457.4,475.6v2.3M469.4,473.4a1.15,1.7 0 1,0 2.3,0a1.15,1.7 0 1,0 -2.3,0M470.5,475.1v2.3M472.3,474.0a1.15,1.7 0 1,0 2.3,0a1.15,1.7 0 1,0 -2.3,0M473.4,475.7v2.3M492.3,476.2a1.15,1.7 0 1,0 2.3,0a1.15,1.7 0 1,0 -2.3,0M493.4,477.9v2.3M495.2,476.8a1.15,1.7 0 1,0 2.3,0a1.15,1.7 0 1,0 -2.3,0M496.3,478.5v2.3M505.4,472.6a1.15,1.7 0 1,0 2.3,0a1.15,1.7 0 1,0 -2.3,0M506.6,474.3v2.3M508.3,473.2a1.15,1.7 0 1,0 2.3,0a1.15,1.7 0 1,0 -2.3,0M509.5,474.9v2.3M527.1,476.2a1.15,1.7 0 1,0 2.3,0a1.15,1.7 0 1,0 -2.3,0M528.2,477.9v2.3M530.0,476.8a1.15,1.7 0 1,0 2.3,0a1.15,1.7 0 1,0 -2.3,0M531.1,478.5v2.3M548.0,472.5a1.15,1.7 0 1,0 2.3,0a1.15,1.7 0 1,0 -2.3,0M549.2,474.2v2.3M550.9,473.1a1.15,1.7 0 1,0 2.3,0a1.15,1.7 0 1,0 -2.3,0M552.1,474.8v2.3M563.2,477.4a1.15,1.7 0 1,0 2.3,0a1.15,1.7 0 1,0 -2.3,0M564.4,479.1v2.3M566.1,478.0a1.15,1.7 0 1,0 2.3,0a1.15,1.7 0 1,0 -2.3,0M567.3,479.7v2.3M584.2,474.1a1.15,1.7 0 1,0 2.3,0a1.15,1.7 0 1,0 -2.3,0M585.3,475.8v2.3M587.1,474.7a1.15,1.7 0 1,0 2.3,0a1.15,1.7 0 1,0 -2.3,0M588.2,476.4v2.3M602.4,479.4a1.15,1.7 0 1,0 2.3,0a1.15,1.7 0 1,0 -2.3,0M603.5,481.1v2.3M605.3,480.0a1.15,1.7 0 1,0 2.3,0a1.15,1.7 0 1,0 -2.3,0M606.4,481.7v2.3M621.4,476.3a1.15,1.7 0 1,0 2.3,0a1.15,1.7 0 1,0 -2.3,0M622.5,478.0v2.3M624.3,476.9a1.15,1.7 0 1,0 2.3,0a1.15,1.7 0 1,0 -2.3,0M625.4,478.6v2.3M640.8,475.1a1.15,1.7 0 1,0 2.3,0a1.15,1.7 0 1,0 -2.3,0M641.9,476.8v2.3M643.7,475.7a1.15,1.7 0 1,0 2.3,0a1.15,1.7 0 1,0 -2.3,0M644.8,477.4v2.3M663.8,479.8a1.15,1.7 0 1,0 2.3,0a1.15,1.7 0 1,0 -2.3,0M665.0,481.5v2.3M666.7,480.4a1.15,1.7 0 1,0 2.3,0a1.15,1.7 0 1,0 -2.3,0M667.9,482.1v2.3M678.8,473.4a1.15,1.7 0 1,0 2.3,0a1.15,1.7 0 1,0 -2.3,0M680.0,475.1v2.3M681.7,474.0a1.15,1.7 0 1,0 2.3,0a1.15,1.7 0 1,0 -2.3,0M682.9,475.7v2.3M700.7,473.4a1.15,1.7 0 1,0 2.3,0a1.15,1.7 0 1,0 -2.3,0M701.9,475.1v2.3M703.6,474.0a1.15,1.7 0 1,0 2.3,0a1.15,1.7 0 1,0 -2.3,0M704.8,475.7v2.3M713.9,479.0a1.15,1.7 0 1,0 2.3,0a1.15,1.7 0 1,0 -2.3,0M715.1,480.7v2.3M716.8,479.6a1.15,1.7 0 1,0 2.3,0a1.15,1.7 0 1,0 -2.3,0M718.0,481.3v2.3"/></g>
<!--TREES2-->
<path d="M135.2,293 L155.6,293 L161.2,348.5 L152.8,350.2 L148.2,351.5 L142.4,352.3Z" fill="#eeeeee" />
<path d="M172.8,293 L196.8,293 L206.4,378 L183.5,379.5Z" fill="#eeeeee" />
<path d="M210.4,293 L236,293 L246.3,368.5 L223.5,373Z" fill="#eeeeee" />
<path d="M250.8,293 L274.9,293 L280.7,350.7 L257.4,354Z" fill="#eeeeee" />
<path d="M286.2,293 L312.3,293 L313.9,306.6 L287.9,311.3Z" fill="#eeeeee" />
<path d="M186.6,293 L192.4,369.8 L193.5,379" fill="none" stroke="#d6d6d6" stroke-width="1.5"/>
<path d="M186.6,293 L192.4,369.8 L193.5,379" fill="none" stroke="#fff" stroke-width="0.7"/>
<path d="M227.3,293 L236.5,369.8 L237,371" fill="none" stroke="#d6d6d6" stroke-width="1.5"/>
<path d="M227.3,293 L236.5,369.8 L237,371" fill="none" stroke="#fff" stroke-width="0.7"/>
<path d="M265.6,293 L271.4,353" fill="none" stroke="#d6d6d6" stroke-width="1.5"/>
<path d="M265.6,293 L271.4,353" fill="none" stroke="#fff" stroke-width="0.7"/>
<path d="M303.2,293 L304,307" fill="none" stroke="#d6d6d6" stroke-width="1.5"/>
<path d="M303.2,293 L304,307" fill="none" stroke="#fff" stroke-width="0.7"/>
<path d="M141.0,321.6 L142.9,321.1 L145.7,332.9 L143.7,333.5Z" fill="#d9d0c9" stroke="#c4b6ab" stroke-width="0.5"/>
<path d="M121.9,414.3 L141.5,416.0 L140.7,425.9 L121.2,423.9Z" fill="#d9d0c9" stroke="#c4b6ab" stroke-width="0.5"/>
<path d="M149.0,413.5 L154.0,413.5 L154.0,416.8 L166.4,417.1 L165.6,427.3 L148.5,425.9Z" fill="#d9d0c9" stroke="#c4b6ab" stroke-width="0.5"/>
<path d="M227.4,419.6 L234.9,413.0 L276.1,450.5 L284.7,460.8 L299.7,479.1 L297.2,480.9 L293.9,480.9 L278.1,464.2 L268.9,457.5Z" fill="#d9d0c9" stroke="#c4b6ab" stroke-width="0.5"/>
<path d="M248.2,474.1 L258.1,470.0 L268.1,480.9 L251.5,480.9Z" fill="#d9d0c9" stroke="#c4b6ab" stroke-width="0.5"/>
<path d="M200.0,433.4 L209.1,433.4 L209.1,438.4 L200.0,438.4Z" fill="#d9d0c9" stroke="#c4b6ab" stroke-width="0.5"/>
<path d="M478.8,347 L502.4,351 L500,360 L476.8,355.1Z" fill="#d9d0c9" stroke="#c4b6ab" stroke-width="0.5"/>
<path d="M515.4,330.7 L524.4,331.5 L523.6,336 L514.6,334.8Z" fill="#d9d0c9" stroke="#c4b6ab" stroke-width="0.5"/>
<path d="M150.2,293.0 C150.4,296.6 150.8,307.1 151.2,314.9 C151.5,322.7 152.5,334.3 152.3,339.9 C152.1,345.4 151.1,345.8 149.8,348.2 C148.6,350.6 147.8,352.6 144.8,354.0 C141.8,355.4 136.6,355.2 131.6,356.5 C126.6,357.8 119.4,359.8 114.9,361.5 C110.4,363.2 107.3,364.4 104.8,367.0 C102.2,369.6 100.1,373.6 99.6,377.4 C99.1,381.2 100.2,386.2 101.6,389.9 C103.0,393.5 105.1,396.8 107.9,399.3 C110.7,401.9 113.7,403.5 118.2,405.2 C122.7,406.9 129.3,408.3 134.9,409.3 C140.5,410.3 146.0,410.3 151.5,411.0 C157.0,411.7 162.6,412.5 168.1,413.5 C173.6,414.5 179.7,415.3 184.7,416.8 C189.7,418.3 193.0,420.0 198.0,422.6 C203.0,425.2 208.8,428.5 214.9,432.6 C221.1,436.8 228.8,442.8 234.9,447.5 C241.0,452.2 246.0,456.4 251.5,460.8 C257.0,465.2 264.1,470.6 268.1,474.1 C272.1,477.6 274.4,480.4 275.6,481.6" fill="none" stroke="#c4c4c4" stroke-width="6.1" stroke-linecap="butt" stroke-linejoin="round"/>
<path d="M138,483 C140.2,480.4 147.9,471.3 151.5,467.5 C155.1,463.7 157.0,461.7 159.8,460 C162.6,458.3 165.1,457.8 168.1,457.5 C171.1,457.2 174.2,457.2 178.1,458.3 C182.0,459.4 186.9,461.6 191.4,464.2 C195.9,466.8 201.4,470.9 205,474 C208.6,477.1 211.7,481.5 213,483" fill="none" stroke="#c4c4c4" stroke-width="6.300000000000001" stroke-linecap="butt" stroke-linejoin="round"/>
<path d="M106,399 C106.4,402.1 107.5,411.7 108.3,417.6 C109.1,423.5 109.8,428.9 110.8,434.2 C111.8,439.5 112.4,444.2 114.1,449.2 C115.8,454.2 117.9,458.7 120.7,464.2 C123.5,469.7 129.0,479.4 130.7,482.4" fill="none" stroke="#c4c4c4" stroke-width="3.4" stroke-linecap="butt" stroke-linejoin="round"/>
<path d="M150.8,352.5 C151.7,353.6 156.5,359.4 158.3,361.6 C160.1,363.8 164.6,369.4 166.6,371.6 C168.6,373.8 173.0,379.3 175.7,380.7 C178.4,382.1 185.3,382.7 189.9,383.8 C194.5,384.9 209.0,388.8 214.8,389.9 C220.6,391.0 236.8,393.1 239.7,393.5" fill="none" stroke="#c4c4c4" stroke-width="3.7" stroke-linecap="butt" stroke-linejoin="round"/>
<path d="M451.9,291.2 C452.5,292.6 453.5,296.8 455.6,299.9 C457.7,303.0 461.2,306.8 464.3,309.9 C467.4,313.0 471.5,315.9 474.2,318.6 C476.9,321.3 479.1,322.7 480.4,326.0 C481.6,329.3 482.3,334.5 481.7,338.4 C481.1,342.3 477.9,346.7 476.7,349.6 C475.4,352.5 473.8,354.4 474.2,355.8 C474.6,357.2 476.9,357.3 479.2,358.3 C481.5,359.3 486.4,361.4 487.9,362.0" fill="none" stroke="#c4c4c4" stroke-width="3.7" stroke-linecap="butt" stroke-linejoin="round"/>
<path d="M481.6,339.7 L495.3,344.6" fill="none" stroke="#c4c4c4" stroke-width="3.7" stroke-linecap="butt" stroke-linejoin="round"/>
<path d="M236.5,368 L239.9,394.5" fill="none" stroke="#c4c4c4" stroke-width="1.9" stroke-linecap="butt" stroke-linejoin="round"/>
<path d="M429.5,327.2 C430.8,328.6 434.1,332.4 437.0,335.9 C439.9,339.4 443.2,345.1 446.9,348.3 C450.6,351.5 454.9,353.6 459.3,355.0 C463.7,356.4 470.7,356.7 473.0,357.0" fill="none" stroke="#c4c4c4" stroke-width="1.9" stroke-linecap="butt" stroke-linejoin="round"/>
<path d="M150.2,293.0 C150.4,296.6 150.8,307.1 151.2,314.9 C151.5,322.7 152.5,334.3 152.3,339.9 C152.1,345.4 151.1,345.8 149.8,348.2 C148.6,350.6 147.8,352.6 144.8,354.0 C141.8,355.4 136.6,355.2 131.6,356.5 C126.6,357.8 119.4,359.8 114.9,361.5 C110.4,363.2 107.3,364.4 104.8,367.0 C102.2,369.6 100.1,373.6 99.6,377.4 C99.1,381.2 100.2,386.2 101.6,389.9 C103.0,393.5 105.1,396.8 107.9,399.3 C110.7,401.9 113.7,403.5 118.2,405.2 C122.7,406.9 129.3,408.3 134.9,409.3 C140.5,410.3 146.0,410.3 151.5,411.0 C157.0,411.7 162.6,412.5 168.1,413.5 C173.6,414.5 179.7,415.3 184.7,416.8 C189.7,418.3 193.0,420.0 198.0,422.6 C203.0,425.2 208.8,428.5 214.9,432.6 C221.1,436.8 228.8,442.8 234.9,447.5 C241.0,452.2 246.0,456.4 251.5,460.8 C257.0,465.2 264.1,470.6 268.1,474.1 C272.1,477.6 274.4,480.4 275.6,481.6" fill="none" stroke="#fff" stroke-width="5.0" stroke-linecap="round" stroke-linejoin="round"/>
<path d="M138,483 C140.2,480.4 147.9,471.3 151.5,467.5 C155.1,463.7 157.0,461.7 159.8,460 C162.6,458.3 165.1,457.8 168.1,457.5 C171.1,457.2 174.2,457.2 178.1,458.3 C182.0,459.4 186.9,461.6 191.4,464.2 C195.9,466.8 201.4,470.9 205,474 C208.6,477.1 211.7,481.5 213,483" fill="none" stroke="#fff" stroke-width="5.2" stroke-linecap="round" stroke-linejoin="round"/>
<path d="M106,399 C106.4,402.1 107.5,411.7 108.3,417.6 C109.1,423.5 109.8,428.9 110.8,434.2 C111.8,439.5 112.4,444.2 114.1,449.2 C115.8,454.2 117.9,458.7 120.7,464.2 C123.5,469.7 129.0,479.4 130.7,482.4" fill="none" stroke="#fff" stroke-width="2.3" stroke-linecap="round" stroke-linejoin="round"/>
<path d="M150.8,352.5 C151.7,353.6 156.5,359.4 158.3,361.6 C160.1,363.8 164.6,369.4 166.6,371.6 C168.6,373.8 173.0,379.3 175.7,380.7 C178.4,382.1 185.3,382.7 189.9,383.8 C194.5,384.9 209.0,388.8 214.8,389.9 C220.6,391.0 236.8,393.1 239.7,393.5" fill="none" stroke="#fff" stroke-width="2.6" stroke-linecap="round" stroke-linejoin="round"/>
<path d="M451.9,291.2 C452.5,292.6 453.5,296.8 455.6,299.9 C457.7,303.0 461.2,306.8 464.3,309.9 C467.4,313.0 471.5,315.9 474.2,318.6 C476.9,321.3 479.1,322.7 480.4,326.0 C481.6,329.3 482.3,334.5 481.7,338.4 C481.1,342.3 477.9,346.7 476.7,349.6 C475.4,352.5 473.8,354.4 474.2,355.8 C474.6,357.2 476.9,357.3 479.2,358.3 C481.5,359.3 486.4,361.4 487.9,362.0" fill="none" stroke="#fff" stroke-width="2.6" stroke-linecap="round" stroke-linejoin="round"/>
<path d="M481.6,339.7 L495.3,344.6" fill="none" stroke="#fff" stroke-width="2.6" stroke-linecap="round" stroke-linejoin="round"/>
<path d="M236.5,368 L239.9,394.5" fill="none" stroke="#fff" stroke-width="1.0" stroke-linecap="round" stroke-linejoin="round"/>
<path d="M429.5,327.2 C430.8,328.6 434.1,332.4 437.0,335.9 C439.9,339.4 443.2,345.1 446.9,348.3 C450.6,351.5 454.9,353.6 459.3,355.0 C463.7,356.4 470.7,356.7 473.0,357.0" fill="none" stroke="#fff" stroke-width="1.0" stroke-linecap="round" stroke-linejoin="round"/>
<path d="M109.1,480.8 L134.9,468.3 L159.8,456.7 L174.7,449.2 L188,445.5 L205,445 L208.3,448.4 L221.6,457.5 L234.9,469.1 L246.5,479.1 L250,483" fill="none" stroke="#7fd6b6" stroke-width="3" stroke-linejoin="round"/>
<path d="M109.1,480.8 L134.9,468.3 L159.8,456.7 L174.7,449.2 L188,445.5 L205,445 L208.3,448.4 L221.6,457.5 L234.9,469.1 L246.5,479.1 L250,483" fill="none" stroke="#e8e6e0" stroke-width="2.2" stroke-linejoin="round"/>
<path d="M109.1,480.8 L134.9,468.3 L159.8,456.7 L174.7,449.2 L188,445.5 L205,445 L208.3,448.4 L221.6,457.5 L234.9,469.1 L246.5,479.1 L250,483" fill="none" stroke="#999" stroke-width="1.6" stroke-dasharray="0.7 0.9" stroke-linejoin="round"/>
<path d="M149,481 C149.4,479.9 150.0,476.2 151.5,474.1 C153.0,472.0 155.3,469.7 158.1,468.3 C160.9,466.9 164.8,466.1 168.1,465.8 C171.4,465.5 175.0,465.5 178.1,466.6 C181.2,467.7 184.2,470.1 186.4,472.5 C188.6,474.9 190.6,479.6 191.4,481" fill="none" stroke="#6fd0ae" stroke-width="0.8"/>
<path d="M185.0,470.8 C185.4,471.5 186.5,473.3 187.5,475.0 C188.5,476.7 190.2,479.9 190.8,480.9" fill="none" stroke="#6fd0ae" stroke-width="0.8"/>
<path d="M269.8,444.2 L305.0,431.7" stroke="#a8a8a8" stroke-width="2.4" fill="none" stroke-dasharray="0.5 0.5"/>
<path d="M269.8,444.2 L305.0,431.7" stroke="#fbfbfb" stroke-width="1.3" fill="none"/>
<path d="M305.6,331.5 C307.9,330.6 315.4,328.5 319.5,326.0 C323.6,323.5 327.1,318.5 330.5,316.3 C333.9,314.1 336.1,311.3 340.2,312.7 C344.3,314.1 349.9,319.6 355.4,324.6 C360.9,329.6 367.6,336.8 373.4,342.6 C379.2,348.4 386.9,355.5 390.0,359.2 C393.1,362.9 392.4,362.9 392.2,364.7 C392.0,366.5 389.2,369.3 388.6,370.2" fill="none" stroke="#f7786a" stroke-width="1" stroke-dasharray="1.1 1.5" stroke-opacity="0.85"/>
<path d="M319.5,305.2 C320.4,304.1 323.2,300.9 325.0,298.9 C326.8,296.9 329.6,294.2 330.5,293.3" fill="none" stroke="#f7786a" stroke-width="1" stroke-dasharray="1.1 1.5" stroke-opacity="0.85"/>
<path d="M304.3,309.4 C306.1,311.7 312.1,318.8 315.3,323.2 C318.5,327.6 321.5,331.9 323.6,335.6 C325.7,339.3 327.1,343.7 327.8,345.3" fill="none" stroke="#f7786a" stroke-width="1" stroke-dasharray="1.1 1.5" stroke-opacity="0.85"/>
<path d="M305.6,331.5 C305.4,333.8 305.5,339.3 304.3,345.3 C303.1,351.3 301.5,360.6 298.7,367.5 C295.9,374.4 291.4,381.3 287.7,386.8 C284.0,392.3 279.4,395.6 276.6,400.7 C273.8,405.8 272.2,413.5 271.1,417.2 C270.0,420.9 269.9,422.1 269.7,423.1" fill="none" stroke="#f7786a" stroke-width="1" stroke-dasharray="1.1 1.5" stroke-opacity="0.85"/>
<path d="M384.1,293.0 C385.6,294.2 390.3,297.2 393.2,300.0 C396.1,302.8 398.7,306.3 401.5,309.9 C404.3,313.5 407.6,318.0 409.8,321.6 C412.0,325.2 413.1,327.5 414.8,331.6 C416.5,335.8 418.4,342.1 419.8,346.5 C421.2,350.9 422.4,355.1 423.1,358.1 C423.8,361.2 424.4,363.1 423.9,364.8 C423.3,366.5 421.0,367.2 419.8,368.1 C418.6,369.0 418.4,368.2 416.5,369.9 C414.6,371.6 410.4,375.6 408.2,378.1 C406.0,380.6 404.0,383.6 403.2,384.7" fill="none" stroke="#f7786a" stroke-width="1" stroke-dasharray="1.1 1.5" stroke-opacity="0.85"/>
<path d="M398.2,293.0 L394.9,300.0" fill="none" stroke="#f7786a" stroke-width="1" stroke-dasharray="1.1 1.5" stroke-opacity="0.85"/>
<path d="M410.7,323.2 C413.6,323.4 423.5,323.1 428.1,324.1 C432.7,325.1 434.2,327.5 438.1,329.1 C442.0,330.7 448.0,332.5 451.4,333.5 C454.8,334.5 453.7,334.4 458.2,334.9 C462.7,335.3 474.3,336.1 478.2,336.2 C482.1,336.3 480.9,335.8 481.5,335.7" fill="none" stroke="#f7786a" stroke-width="1" stroke-dasharray="1.1 1.5" stroke-opacity="0.85"/>
<path d="M428.9,293.0 C428.1,294.7 424.6,299.7 423.9,303.3 C423.2,306.9 424.1,311.4 424.8,314.9 C425.5,318.4 427.6,322.6 428.1,324.1" fill="none" stroke="#f7786a" stroke-width="1" stroke-dasharray="1.1 1.5" stroke-opacity="0.85"/>
<path d="M435.6,293.0 C435.7,295.3 436.0,302.1 436.4,306.6 C436.8,311.1 437.3,316.7 438.1,319.9 C438.9,323.1 440.8,324.7 441.4,325.7" fill="none" stroke="#f7786a" stroke-width="1" stroke-dasharray="1.1 1.5" stroke-opacity="0.85"/>
<path d="M345.0,316.6 C347.8,319.4 356.1,327.9 361.6,333.2 C367.1,338.5 373.5,343.8 378.2,348.2 C382.9,352.6 387.5,357.2 389.9,359.8 C392.3,362.4 392.4,362.3 392.4,364.0 C392.4,365.7 390.3,368.9 389.9,369.9" fill="none" stroke="#f7786a" stroke-width="1" stroke-dasharray="1.1 1.5" stroke-opacity="0.85"/>
<path d="M501.5,293.3 C500.7,294.7 498.6,298.6 496.5,301.6 C494.4,304.7 490.4,308.6 489.0,311.6 C487.6,314.7 488.5,316.6 488.2,319.9 C487.9,323.2 488.4,329.0 487.3,331.6 C486.2,334.2 482.5,335.0 481.5,335.7" fill="none" stroke="#f7786a" stroke-width="1" stroke-dasharray="1.1 1.5" stroke-opacity="0.85"/>
<path d="M496.5,301.6 C499.0,301.8 506.7,302.5 511.4,302.5 C516.1,302.5 519.1,302.6 524.7,301.6 C530.3,300.6 541.6,297.4 545.0,296.6" fill="none" stroke="#f7786a" stroke-width="1" stroke-dasharray="1.1 1.5" stroke-opacity="0.85"/>
<path d="M524.7,301.6 C525.8,302.4 529.2,304.8 531.4,306.6 C533.6,308.4 535.7,311.0 538.0,312.4 C540.3,313.8 543.8,314.5 545.0,314.9" fill="none" stroke="#f7786a" stroke-width="1" stroke-dasharray="1.1 1.5" stroke-opacity="0.85"/>
<path d="M524.7,301.6 C523.6,302.7 520.0,306.1 518.1,308.3 C516.2,310.5 514.2,312.7 513.1,314.9 C512.0,317.1 511.7,320.5 511.4,321.6" fill="none" stroke="#f7786a" stroke-width="1" stroke-dasharray="1.1 1.5" stroke-opacity="0.85"/>
<path d="M489.0,311.6 C490.5,312.2 494.9,313.7 498.1,314.9 C501.3,316.1 505.2,317.5 508.1,318.6 C511.0,319.7 513.1,320.3 515.6,321.6 C518.1,322.9 520.2,324.5 523.1,326.2 C526.0,327.9 529.4,329.7 533.0,331.6 C536.6,333.6 543.0,336.8 545.0,337.9" fill="none" stroke="#f7786a" stroke-width="1" stroke-dasharray="1.1 1.5" stroke-opacity="0.85"/>
<path d="M488.2,333.2 C489.3,333.5 492.3,333.8 494.8,334.9 C497.3,336.0 501.2,338.2 503.1,339.9 C505.0,341.5 505.8,342.6 506.4,344.8 C506.9,347.0 506.9,350.8 506.4,353.2 C505.8,355.6 503.7,358.0 503.1,359.0" fill="none" stroke="#f7786a" stroke-width="1" stroke-dasharray="1.1 1.5" stroke-opacity="0.85"/>
<path d="M503.1,359.0 C506.7,359.8 517.7,362.4 524.7,364.0 C531.7,365.6 541.6,368.1 545.0,368.9" fill="none" stroke="#f7786a" stroke-width="1" stroke-dasharray="1.1 1.5" stroke-opacity="0.85"/>
<path d="M469.9,359.0 L473.2,369.9" fill="none" stroke="#f7786a" stroke-width="1" stroke-dasharray="1.1 1.5" stroke-opacity="0.85"/>
<path d="M504.8,363.1 L503.9,369.9" fill="none" stroke="#f7786a" stroke-width="1" stroke-dasharray="1.1 1.5" stroke-opacity="0.85"/>
<path d="M439.4,376.9 C441.9,377.3 449.3,380.2 454.3,379.4 C459.3,378.6 464.2,374.0 469.2,371.9 C474.2,369.8 479.1,368.6 484.1,367.0 C489.1,365.4 494.9,363.7 499.0,362.0 C503.1,360.3 507.3,357.8 509.0,357.0" fill="none" stroke="#f7786a" stroke-width="1" stroke-dasharray="1.1 1.5" stroke-opacity="0.85"/>
<path d="M540.0,311.7 C542.5,312.3 549.8,313.6 555.3,315.5 C560.8,317.4 567.7,319.6 573.2,323.2 C578.7,326.8 583.0,333.6 588.5,337.2 C594.0,340.8 600.3,341.6 606.3,344.9 C612.2,348.2 618.2,354.5 624.2,356.9 C630.2,359.3 637.0,359.7 642.1,359.4 C647.2,359.1 651.6,358.6 654.8,355.1 C658.0,351.6 659.5,345.1 661.2,338.5 C662.9,331.9 664.1,323.1 665.0,315.5 C665.9,307.9 666.1,296.8 666.3,293.1" fill="none" stroke="#f7786a" stroke-width="1" stroke-dasharray="1.1 1.5" stroke-opacity="0.85"/>
<path d="M588.5,337.2 C588.9,340.0 590.1,350.2 591.0,353.8 C591.9,357.4 593.2,358.0 593.6,358.9" fill="none" stroke="#f7786a" stroke-width="1" stroke-dasharray="1.1 1.5" stroke-opacity="0.85"/>
<path d="M519.6,328.3 L540.0,337.2 L565.5,347.4 L593.6,358.9 L614.0,384.9" fill="none" stroke="#f7786a" stroke-width="1" stroke-dasharray="1.1 1.5" stroke-opacity="0.85"/>
<path d="M703.3,293.1 C701.6,295.1 695.6,299.4 693.1,305.3 C690.6,311.2 689.9,319.8 688.0,328.3 C686.1,336.8 684.1,348.9 681.6,356.3 C679.1,363.7 679.3,368.1 672.7,372.9 C666.1,377.7 647.2,382.9 642.1,384.9" fill="none" stroke="#f7786a" stroke-width="1" stroke-dasharray="1.1 1.5" stroke-opacity="0.85"/>
<path d="M540.0,295.1 L556.6,293.1" fill="none" stroke="#f7786a" stroke-width="1" stroke-dasharray="1.1 1.5" stroke-opacity="0.85"/>
<path d="M504.3,358.4 L540.0,371.7 L550.2,375.5 L615.3,399.7" fill="none" stroke="#f7786a" stroke-width="1" stroke-dasharray="1.1 1.5" stroke-opacity="0.85"/>
<path d="M573.2,385.0 C572.8,387.6 572.3,394.8 570.6,400.3 C568.9,405.8 566.0,411.8 563.0,418.2 C560.0,424.6 556.6,435.4 552.8,438.6 C549.0,441.8 542.1,437.5 540.0,437.3" fill="none" stroke="#f7786a" stroke-width="1" stroke-dasharray="1.1 1.5" stroke-opacity="0.85"/>
<path d="M552.8,438.6 C555.8,441.2 564.4,447.9 570.6,453.9 C576.8,459.8 587.0,469.8 589.8,474.3 C592.6,478.8 587.6,479.8 587.2,480.9" fill="none" stroke="#f7786a" stroke-width="1" stroke-dasharray="1.1 1.5" stroke-opacity="0.85"/>
<path d="M585.9,390.1 C587.2,393.5 591.5,402.9 593.6,410.5 C595.7,418.1 597.9,427.5 598.7,436.0 C599.6,444.5 600.2,455.2 598.7,461.6 C597.2,468.0 591.3,472.2 589.8,474.3" fill="none" stroke="#f7786a" stroke-width="1" stroke-dasharray="1.1 1.5" stroke-opacity="0.85"/>
<path d="M642.1,385.0 C638.0,387.8 622.0,393.1 617.8,401.6 C613.5,410.1 616.0,426.4 616.6,436.0 C617.2,445.6 618.5,451.5 621.7,459.0 C624.9,466.5 633.4,477.2 635.7,480.9" fill="none" stroke="#f7786a" stroke-width="1" stroke-dasharray="1.1 1.5" stroke-opacity="0.85"/>
<path d="M585.9,390.1 C588.5,390.5 595.9,390.8 601.2,392.7 C606.5,394.6 615.0,400.1 617.8,401.6" fill="none" stroke="#f7786a" stroke-width="1" stroke-dasharray="1.1 1.5" stroke-opacity="0.85"/>
<path d="M441.9,403.6 C446.9,405.5 462.2,411.1 471.7,414.8 C481.2,418.5 491.1,423.1 499.0,426.0 C506.9,428.9 512.1,430.1 518.9,432.2 C525.7,434.3 536.5,437.4 540.0,438.4" fill="none" stroke="#f7786a" stroke-width="1" stroke-dasharray="1.1 1.5" stroke-opacity="0.85"/>
<path d="M471.7,414.8 C472.9,411.9 475.5,402.4 479.2,397.4 C482.9,392.4 491.6,387.1 494.1,385.0" fill="none" stroke="#f7786a" stroke-width="1" stroke-dasharray="1.1 1.5" stroke-opacity="0.85"/>
<path d="M531.3,432.2 C532.1,428.5 534.8,416.4 536.3,409.8 C537.8,403.2 539.4,395.3 540.0,392.4" fill="none" stroke="#f7786a" stroke-width="1" stroke-dasharray="1.1 1.5" stroke-opacity="0.85"/>
<path d="M441.9,403.6 C442.5,408.8 444.9,425.4 445.7,434.7 C446.5,444.0 446.3,451.9 446.9,459.5 C447.5,467.1 449.0,476.7 449.4,480.1" fill="none" stroke="#f7786a" stroke-width="1" stroke-dasharray="1.1 1.5" stroke-opacity="0.85"/>
<path d="M239.9,394.9 C241.4,395.9 245.8,397.6 249.1,400.7 C252.4,403.8 256.7,409.6 259.9,413.2 C263.1,416.8 265.1,419.2 268.2,422.3 C271.2,425.4 275.4,428.6 278.2,431.5 C281.0,434.4 283.0,437.6 284.8,439.8 C286.6,442.0 287.0,442.7 289.0,444.9 C291.0,447.1 294.5,450.7 296.9,453.1 C299.3,455.5 302.2,458.2 303.3,459.2" fill="none" stroke="#f7786a" stroke-width="1" stroke-dasharray="1.1 1.5" stroke-opacity="0.85"/>
<path d="M241.6,397.4 C239.7,399.5 233.9,405.6 230.0,409.9 C226.1,414.2 220.8,420.3 218.3,423.2 C215.8,426.1 217.2,424.8 215.0,427.3 C212.8,429.8 206.7,436.3 205.0,438.1" fill="none" stroke="#f7786a" stroke-width="1" stroke-dasharray="1.1 1.5" stroke-opacity="0.85"/>
<path d="M269.8,365.0 C269.0,366.7 266.8,371.4 264.9,375.0 C263.0,378.6 260.3,383.2 258.2,386.6 C256.1,390.1 253.9,393.4 252.4,395.7 C250.9,398.0 249.7,399.9 249.1,400.7" fill="none" stroke="#f7786a" stroke-width="1" stroke-dasharray="1.1 1.5" stroke-opacity="0.85"/>
<path d="M297.3,365.0 C295.8,367.8 291.0,376.9 288.1,381.6 C285.2,386.3 282.6,389.6 279.8,393.3 C277.0,397.1 273.5,401.1 271.5,404.1 C269.5,407.1 268.4,408.6 267.9,411.5 C267.3,414.4 268.1,419.8 268.2,421.5" fill="none" stroke="#f7786a" stroke-width="1" stroke-dasharray="1.1 1.5" stroke-opacity="0.85"/>
<path d="M335.0,384.6 C333.3,384.9 328.1,385.3 324.7,386.3 C321.3,387.3 317.5,388.8 314.7,390.8 C311.9,392.8 309.8,395.6 308.1,398.2 C306.5,400.8 305.9,403.8 304.8,406.6 C303.7,409.4 302.5,412.1 301.4,414.9 C300.3,417.7 299.1,420.4 298.1,423.2 C297.1,426.0 296.2,429.0 295.6,431.5 C295.0,434.0 294.3,436.2 294.4,438.1 C294.5,440.0 296.1,442.3 296.4,443.1" fill="none" stroke="#f7786a" stroke-width="1" stroke-dasharray="1.1 1.5" stroke-opacity="0.85"/>
<path d="M335.0,389.9 C333.0,390.6 326.5,392.6 323.0,394.1 C319.5,395.6 315.8,397.0 313.9,399.1 C312.0,401.2 311.9,404.0 311.4,406.6 C310.9,409.2 311.2,412.1 311.1,414.9 C311.0,417.7 311.2,420.6 310.6,423.2 C310.0,425.8 309.0,428.2 307.2,430.7 C305.4,433.2 301.6,436.0 299.8,438.1 C298.0,440.2 295.0,442.1 296.4,443.1 C297.8,444.2 304.5,444.4 308.1,444.4 C311.7,444.4 316.4,443.3 318.0,443.1" fill="none" stroke="#f7786a" stroke-width="1" stroke-dasharray="1.1 1.5" stroke-opacity="0.85"/>
<path d="M335.0,382.4 C337.8,381.7 346.1,379.4 351.6,378.3 C357.1,377.2 362.4,376.9 368.2,375.8 C374.0,374.8 382.8,373.2 386.5,372.0 C390.2,370.8 389.9,370.3 390.7,368.3 C391.5,366.3 391.4,361.4 391.5,360.0" fill="none" stroke="#f7786a" stroke-width="1" stroke-dasharray="1.1 1.5" stroke-opacity="0.85"/>
<path d="M335.0,388.3 C336.1,387.9 337.7,386.8 341.6,385.8 C345.5,384.8 352.6,383.1 358.2,382.4 C363.8,381.6 369.3,381.5 374.9,381.3 C380.4,381.1 386.5,381.2 391.5,381.3 C396.5,381.4 401.8,382.4 404.8,381.6 C407.9,380.8 407.6,378.8 409.8,376.6 C412.0,374.4 415.9,370.2 418.1,368.3 C420.3,366.4 422.0,366.4 423.1,365.0 C424.2,363.6 424.4,360.8 424.7,360.0" fill="none" stroke="#f7786a" stroke-width="1" stroke-dasharray="1.1 1.5" stroke-opacity="0.85"/>
<path d="M406.4,381.6 C407.0,382.4 407.3,385.2 409.8,386.6 C412.3,388.0 417.8,388.5 421.4,389.9 C425.0,391.3 428.1,392.7 431.4,394.9 C434.7,397.1 439.6,401.8 441.3,403.2" fill="none" stroke="#f7786a" stroke-width="1" stroke-dasharray="1.1 1.5" stroke-opacity="0.85"/>
<path d="M423.1,365.0 C424.5,365.8 428.9,368.1 431.4,370.0 C433.9,371.9 435.7,375.0 438.0,376.6 C440.3,378.2 443.8,379.3 445.0,379.9" fill="none" stroke="#f7786a" stroke-width="1" stroke-dasharray="1.1 1.5" stroke-opacity="0.85"/>
<path d="M274.8,401.0 C273.7,402.7 269.2,407.4 268.1,411.0 C267.0,414.6 268.1,420.7 268.1,422.6" fill="none" stroke="#f7786a" stroke-width="1" stroke-dasharray="1.1 1.5" stroke-opacity="0.85"/>
<path d="M209.9,472.5 C210.7,470.6 212.7,464.4 214.9,460.8 C217.1,457.2 220.4,453.0 223.2,450.9 C226.0,448.8 230.1,448.8 231.5,448.4" fill="none" stroke="#f7786a" stroke-width="1" stroke-dasharray="1.1 1.5" stroke-opacity="0.85"/>
<path d="M241.5,454.2 C240.7,455.0 237.1,457.0 236.5,459.2 C235.9,461.4 236.5,465.0 238.2,467.5 C239.9,470.0 245.1,473.0 246.5,474.1" fill="none" stroke="#f7786a" stroke-width="1" stroke-dasharray="1.1 1.5" stroke-opacity="0.85"/>
<path d="M358.8,481 C359.5,480.3 360.2,478.2 362.8,476.7 C365.4,475.2 370.1,473.8 374.7,472.2 C379.3,470.6 385.2,468.5 390.6,466.8 C396.0,465.1 401.3,463.8 407,461.8 C412.7,459.8 419.8,457.5 425,455 C430.2,452.5 435.3,449.5 438,447 C440.7,444.5 440.5,441.2 441,440" fill="none" stroke="#f7786a" stroke-width="1" stroke-dasharray="1.1 1.5" stroke-opacity="0.85"/>
<path d="M386.6,404.1 C388.1,402.7 392.6,398.2 395.7,395.8 C398.8,393.4 403.4,391.0 404.9,390.0" fill="none" stroke="#f7786a" stroke-width="1" stroke-dasharray="1.1 1.5" stroke-opacity="0.85"/>
<path d="M416.5,406.6 C415.4,407.2 411.6,408.2 409.9,409.9 C408.2,411.6 407.2,413.6 406.5,416.6 C405.8,419.7 405.8,426.3 405.7,428.2" fill="none" stroke="#f7786a" stroke-width="1" stroke-dasharray="1.1 1.5" stroke-opacity="0.85"/>
<g font-family="Liberation Sans, sans-serif" opacity="0.99">
<text x="185.1" y="309.8" transform="rotate(0 185.1 309.8)" text-anchor="middle" fill="#4a8ff5" style="font-size:5.6px;" letter-spacing="0">Lot 4</text>
<text x="223.5" y="306" transform="rotate(0 223.5 306)" text-anchor="middle" fill="#4a8ff5" style="font-size:5.6px;" letter-spacing="0">Lot 3</text>
<text x="262.2" y="299" transform="rotate(0 262.2 299)" text-anchor="middle" fill="#4a8ff5" style="font-size:5.6px;" letter-spacing="0">Lot 2</text>
<text x="142.9" y="297.3" transform="rotate(0 142.9 297.3)" text-anchor="middle" fill="#4a8ff5" style="font-size:5.6px;" letter-spacing="0">Lot 5</text>
<text x="185.1" y="304.5" transform="rotate(0 185.1 304.5)" text-anchor="middle" fill="#0092da" style="font-size:9.5px;font-weight:normal;" letter-spacing="0">P</text>
<text x="223.2" y="300.6" transform="rotate(0 223.2 300.6)" text-anchor="middle" fill="#0092da" style="font-size:9.5px;font-weight:normal;" letter-spacing="0">P</text>
<text x="364.3" y="375.3" transform="rotate(-8 364.3 375.3)" text-anchor="middle" fill="#111" stroke="#fff" stroke-width="0.7" stroke-opacity="0.5" paint-order="stroke" style="font-size:6px;" letter-spacing="0">World Cup Trails</text>
<text x="404.5" y="334" transform="rotate(63 404.5 334)" text-anchor="middle" fill="#111" stroke="#fff" stroke-width="0.7" stroke-opacity="0.5" paint-order="stroke" style="font-size:6px;" letter-spacing="0">1980 Trails Connector</text>
<text x="303.3" y="390.2" transform="rotate(-66 303.3 390.2)" text-anchor="middle" fill="#111" stroke="#fff" stroke-width="0.7" stroke-opacity="0.5" paint-order="stroke" style="font-size:6px;" letter-spacing="0">World Cup Trails</text>
<text x="387.3" y="434" transform="rotate(-78 387.3 434)" text-anchor="middle" fill="#111" stroke="#fff" stroke-width="0.7" stroke-opacity="0.5" paint-order="stroke" style="font-size:6px;" letter-spacing="0">World Cup Trails</text>
<text x="492" y="430.5" transform="rotate(15 492 430.5)" text-anchor="middle" fill="#111" stroke="#fff" stroke-width="0.7" stroke-opacity="0.5" paint-order="stroke" style="font-size:6px;" letter-spacing="0">World Cup Trails</text>
<text x="486" y="478.6" transform="rotate(8 486 478.6)" text-anchor="middle" fill="#111" stroke="#fff" stroke-width="0.7" stroke-opacity="0.5" paint-order="stroke" style="font-size:6px;" letter-spacing="0">World Cup Trails</text>
<text x="331" y="458.3" transform="rotate(5 331 458.3)" text-anchor="middle" fill="#111" stroke="#fff" stroke-width="0.7" stroke-opacity="0.5" paint-order="stroke" style="font-size:6px;" letter-spacing="0">Ladies 5K</text>
<text x="425.4" y="462" transform="rotate(-27 425.4 462)" text-anchor="middle" fill="#111" stroke="#fff" stroke-width="0.7" stroke-opacity="0.5" paint-order="stroke" style="font-size:6px;" letter-spacing="0">Ladies 5K</text>
<text x="429" y="478.5" transform="rotate(-18 429 478.5)" text-anchor="middle" fill="#111" stroke="#fff" stroke-width="0.7" stroke-opacity="0.5" paint-order="stroke" style="font-size:6px;" letter-spacing="0">Trails</text>
<text x="167" y="414.7" transform="rotate(9.5 167 414.7)" text-anchor="middle" fill="#111" stroke="#fff" stroke-width="0.7" stroke-opacity="0.5" paint-order="stroke" style="font-size:5.9px;" letter-spacing="0">Bob Run Road</text>
<text x="149.5" y="473.5" transform="rotate(-42 149.5 473.5)" text-anchor="middle" fill="#111" stroke="#fff" stroke-width="0.7" stroke-opacity="0.5" paint-order="stroke" style="font-size:5.9px;" letter-spacing="0">Bob Run Road</text>
<text x="132.3" y="423.2" transform="rotate(0 132.3 423.2)" text-anchor="middle" fill="#777" style="font-size:5.2px;" letter-spacing="0">82</text>
<text x="155.5" y="425" transform="rotate(0 155.5 425)" text-anchor="middle" fill="#777" style="font-size:5.2px;" letter-spacing="0">86</text>
<text x="264.4" y="449.6" transform="rotate(0 264.4 449.6)" text-anchor="middle" fill="#777" style="font-size:5.2px;" letter-spacing="0">218</text>
<text x="489.5" y="356.3" transform="rotate(0 489.5 356.3)" text-anchor="middle" fill="#777" style="font-size:5.2px;" letter-spacing="0">189</text>
<text x="257.5" y="478.2" transform="rotate(0 257.5 478.2)" text-anchor="middle" fill="#444" style="font-size:6px;" letter-spacing="0">Sled</text>
<text x="212.4" y="429.5" transform="rotate(0 212.4 429.5)" text-anchor="middle" fill="#7a2a6a" stroke="#fff" stroke-width="0.7" stroke-opacity="0.5" paint-order="stroke" style="font-size:5.6px;" letter-spacing="0">Lake Placid</text>
<text x="212.4" y="436.0" transform="rotate(0 212.4 436.0)" text-anchor="middle" fill="#7a2a6a" stroke="#fff" stroke-width="0.7" stroke-opacity="0.5" paint-order="stroke" style="font-size:5.6px;" letter-spacing="0">Bobsled</text>
<text x="212.4" y="442.5" transform="rotate(0 212.4 442.5)" text-anchor="middle" fill="#7a2a6a" stroke="#fff" stroke-width="0.7" stroke-opacity="0.5" paint-order="stroke" style="font-size:5.6px;" letter-spacing="0">Experience</text>
<text x="212.4" y="449.0" transform="rotate(0 212.4 449.0)" text-anchor="middle" fill="#7a2a6a" stroke="#fff" stroke-width="0.7" stroke-opacity="0.5" paint-order="stroke" style="font-size:5.6px;" letter-spacing="0">at Mt. Van</text>
<text x="212.4" y="455.5" transform="rotate(0 212.4 455.5)" text-anchor="middle" fill="#7a2a6a" stroke="#fff" stroke-width="0.7" stroke-opacity="0.5" paint-order="stroke" style="font-size:5.6px;" letter-spacing="0">Hoevenberg</text>
<text x="183.5" y="447.5" transform="rotate(0 183.5 447.5)" text-anchor="middle" fill="#7a2a6a" stroke="#fff" stroke-width="0.7" stroke-opacity="0.5" paint-order="stroke" style="font-size:5.6px;" letter-spacing="0">Cliffside</text>
<text x="183.5" y="453.8" transform="rotate(0 183.5 453.8)" text-anchor="middle" fill="#7a2a6a" stroke="#fff" stroke-width="0.7" stroke-opacity="0.5" paint-order="stroke" style="font-size:5.6px;" letter-spacing="0">Coaster</text>
<text x="284.7" y="457.2" transform="rotate(0 284.7 457.2)" text-anchor="middle" fill="#1d7a3a" stroke="#fff" stroke-width="0.7" stroke-opacity="0.5" paint-order="stroke" style="font-size:5.6px;font-style:italic;" letter-spacing="0">Mt. Van</text>
<text x="284.7" y="463.59999999999997" transform="rotate(0 284.7 463.59999999999997)" text-anchor="middle" fill="#1d7a3a" stroke="#fff" stroke-width="0.7" stroke-opacity="0.5" paint-order="stroke" style="font-size:5.6px;font-style:italic;" letter-spacing="0">Hoevenberg</text>
<text x="284.7" y="470.0" transform="rotate(0 284.7 470.0)" text-anchor="middle" fill="#1d7a3a" stroke="#fff" stroke-width="0.7" stroke-opacity="0.5" paint-order="stroke" style="font-size:5.6px;font-style:italic;" letter-spacing="0">Bobsled</text>
<text x="284.7" y="476.4" transform="rotate(0 284.7 476.4)" text-anchor="middle" fill="#1d7a3a" stroke="#fff" stroke-width="0.7" stroke-opacity="0.5" paint-order="stroke" style="font-size:5.6px;font-style:italic;" letter-spacing="0">Push Start</text>
<text x="284.7" y="482.8" transform="rotate(0 284.7 482.8)" text-anchor="middle" fill="#1d7a3a" stroke="#fff" stroke-width="0.7" stroke-opacity="0.5" paint-order="stroke" style="font-size:5.6px;font-style:italic;" letter-spacing="0">Facility</text>
<text x="582" y="372.5" transform="rotate(0 582 372.5)" text-anchor="middle" fill="#1d7a3a" stroke="#fff" stroke-width="0.7" stroke-opacity="0.5" paint-order="stroke" style="font-size:5.9px;font-style:italic;" letter-spacing="0">Mt. Van</text>
<text x="582" y="380.3" transform="rotate(0 582 380.3)" text-anchor="middle" fill="#1d7a3a" stroke="#fff" stroke-width="0.7" stroke-opacity="0.5" paint-order="stroke" style="font-size:5.9px;font-style:italic;" letter-spacing="0">Hoevenberg</text>
<text x="582" y="388.1" transform="rotate(0 582 388.1)" text-anchor="middle" fill="#1d7a3a" stroke="#fff" stroke-width="0.7" stroke-opacity="0.5" paint-order="stroke" style="font-size:5.9px;font-style:italic;" letter-spacing="0">1980 Stadium</text>
</g>
<circle cx="232.4" cy="422.3" r="0.9" fill="#a02ac0"/>
<circle cx="251.0" cy="432.1" r="0.9" fill="#a02ac0"/>
<circle cx="257.0" cy="437.6" r="0.9" fill="#a02ac0"/>
<circle cx="250.7" cy="439.2" r="0.9" fill="#d08020"/>
<path d="M291.6,379.6 C292.4,378.3 294.9,374.3 296.6,371.6 C298.3,368.9 300.4,366.1 301.6,363.3 C302.9,360.5 303.6,357.0 304.1,355.0 C304.6,353.0 304.7,354.0 304.8,351.5 C304.9,349.0 305.2,344.0 304.5,339.9 C303.8,335.8 301.8,330.2 300.7,326.6 C299.6,323.0 298.7,320.8 298.2,318.3 C297.7,315.8 297.4,313.7 297.8,311.6 C298.2,309.5 299.4,307.3 300.7,305.8 C302.0,304.3 303.8,303.2 305.6,302.5 C307.4,301.8 309.6,301.2 311.5,301.3 C313.4,301.4 315.5,302.0 317.3,303.3 C319.1,304.6 320.9,306.9 322.3,309.1 C323.7,311.3 324.8,313.4 325.6,316.6 C326.4,319.8 326.8,324.3 327.2,328.2 C327.6,332.1 328.2,336.0 328.1,339.9 C328.0,343.8 327.5,348.3 326.4,351.5 C325.3,354.7 323.5,355.9 321.4,359.0 C319.3,362.1 314.7,368.8 313.9,369.8 C313.1,370.8 317.2,364.1 316.5,365.0 C315.8,365.9 311.8,372.0 309.9,374.9 C308.0,377.8 306.1,381.1 305.4,382.4" fill="none" stroke="#00ff00" stroke-width="2" stroke-linecap="round" stroke-linejoin="round"/>
<path d="M353.9,404.0 C352.4,403.8 347.7,402.6 344.8,402.7 C341.9,402.8 338.9,403.3 336.5,404.3 C334.1,405.3 332.3,406.8 330.7,408.5 C329.1,410.2 327.5,411.9 326.8,414.3 C326.1,416.7 326.5,419.6 326.5,422.6 C326.5,425.7 327.2,429.6 326.8,432.6 C326.4,435.7 325.4,438.5 324.0,440.9 C322.6,443.2 320.6,445.4 318.2,446.7 C315.8,448.0 312.7,448.9 309.9,448.9 C307.1,448.9 304.0,447.8 301.6,446.7 C299.2,445.6 297.2,444.1 295.7,442.6 C294.2,441.1 293.2,439.8 292.4,437.6 C291.6,435.4 290.9,432.4 290.8,429.3 C290.7,426.2 290.8,422.9 291.6,419.3 C292.4,415.7 294.0,410.8 295.7,407.6 C297.4,404.4 299.2,403.1 301.6,399.9 C304.0,396.7 306.9,392.4 309.9,388.2 C312.9,384.0 316.5,379.3 319.8,374.9 C323.1,370.5 327.9,363.8 329.5,361.6" fill="none" stroke="#00ff00" stroke-width="2" stroke-linecap="round" stroke-linejoin="round"/>
<path d="M416.5,404.6 C417.3,404.6 419.7,404.3 421.5,404.6 C423.3,404.9 425.4,405.6 427.3,406.6 C429.2,407.6 431.4,408.9 433.1,410.8 C434.8,412.8 436.2,415.7 437.3,418.3 C438.4,420.9 439.0,423.8 439.4,426.6 C439.8,429.4 439.8,432.4 439.4,434.9 C439.0,437.4 437.7,439.3 437.3,441.5 C436.9,443.7 436.4,446.6 436.8,448.2 C437.2,449.8 438.6,450.9 439.8,451.2 C441.0,451.5 442.8,451.0 443.9,450.2 C444.9,449.4 445.8,448.5 446.1,446.5 C446.4,444.5 446.0,441.8 445.6,438.2 C445.2,434.6 444.4,429.0 443.9,424.9 C443.4,420.8 443.2,416.5 442.8,413.3 C442.4,410.1 442.4,407.8 441.4,405.8 C440.3,403.9 438.4,403.1 436.5,401.6 C434.6,400.1 432.2,398.2 429.8,396.6 C427.4,395.0 423.6,392.8 422.3,392.0" fill="none" stroke="#00ff00" stroke-width="2" stroke-linecap="round" stroke-linejoin="round"/>
<path d="M375.2,454.9 C374.6,455.2 372.9,456.4 371.7,456.8 C370.5,457.2 369.1,457.7 367.8,457.6 C366.5,457.5 364.9,457.0 363.8,456.4 C362.7,455.8 361.5,454.3 361,453.9" fill="none" stroke="#00ff00" stroke-width="2" stroke-linecap="round" stroke-linejoin="round"/>
<path d="M360.8,472.9 C361.6,472.8 364.2,473.1 365.8,472.5 C367.4,471.9 368.6,471.3 370.7,469.3 C372.8,467.3 376.0,463.2 378.7,460.3 C381.4,457.4 384.0,454.7 386.6,451.9 C389.2,449.1 392.1,446.4 394.6,443.4 C397.1,440.4 400.1,436.5 401.6,434.0 C403.1,431.5 403.3,430.6 403.5,428.2 C403.7,425.8 402.7,422.5 402.9,419.9 C403.1,417.3 403.7,414.6 404.9,412.4 C406.1,410.2 408.0,407.9 409.9,406.6 C411.8,405.3 415.4,404.9 416.5,404.6" fill="none" stroke="#ffa500" stroke-width="2" stroke-linecap="round" stroke-linejoin="round"/>
<path d="M361,453.9 C360.8,453.4 360.3,452.1 359.9,450.9 C359.5,449.7 358.9,448.5 358.8,446.9 C358.8,445.2 359.2,442.8 359.6,441 C360.0,439.2 361.1,436.8 361.4,435.9" fill="none" stroke="#ffa500" stroke-width="2" stroke-linecap="round" stroke-linejoin="round"/>
<path d="M364.2,416.8 C363.6,415.6 362.3,411.4 360.6,409.3 C358.9,407.2 355.0,404.9 353.9,404.0" fill="none" stroke="#ffa500" stroke-width="2" stroke-linecap="round" stroke-linejoin="round"/>
<path d="M361.4,435.9 C361.8,434.2 363.4,429.1 363.9,425.9 C364.4,422.7 364.1,418.3 364.2,416.8" fill="none" stroke="#ff0000" stroke-width="2" stroke-linecap="round" stroke-linejoin="round"/>
<path d="M291.6,379.6 C290.8,381.0 288.3,385.1 286.6,388.2 C284.9,391.3 282.9,394.6 281.6,398.2 C280.4,401.8 279.5,407.7 279.1,409.8 C278.7,411.9 278.8,408.6 279.1,411.0 C279.4,413.4 279.8,419.6 280.8,424.3 C281.8,429.0 283.4,435.1 284.9,439.2 C286.4,443.3 288.1,446.6 289.9,449.2 C291.7,451.8 293.2,453.2 295.7,455.0 C298.2,456.8 301.1,458.9 304.9,460.0 C308.6,461.1 313.8,461.3 318.2,461.7 C322.6,462.1 327.4,461.6 331.5,462.2 C335.6,462.8 339.5,463.9 343.1,465.0 C346.7,466.1 350.1,467.8 353.1,469.1 C356.1,470.4 359.8,472.2 361.1,472.8" fill="none" stroke="#0000ff" stroke-width="2" stroke-linecap="round" stroke-linejoin="round"/>
<path d="M422.3,392.0 C421.1,391.8 417.7,390.6 414.8,390.5 C411.9,390.4 408.1,390.4 404.9,391.3 C401.7,392.2 398.8,393.7 395.7,395.8 C392.6,397.9 389.5,401.2 386.6,404.1 C383.7,407.0 380.4,410.2 378.3,413.3 C376.2,416.4 374.9,419.6 374.1,422.4 C373.3,425.2 373.3,427.3 373.3,429.9 C373.3,432.5 373.6,435.8 374.2,438 C374.8,440.2 376.0,441.3 376.7,442.9 C377.4,444.5 378.0,446.0 378.2,447.4 C378.4,448.8 378.2,450.1 377.7,451.4 C377.2,452.6 375.6,454.3 375.2,454.9" fill="none" stroke="#0000ff" stroke-width="2" stroke-linecap="round" stroke-linejoin="round"/>
<path d="M295.6,378.7 L295,374.1 L290.5,375.2" fill="none" stroke="#f0a21e" stroke-width="1.1" stroke-linecap="round" stroke-linejoin="round"/>
<path d="M317.9,308.6 L322.4,309.7 L323.0,305.1" fill="none" stroke="#f0a21e" stroke-width="1.1" stroke-linecap="round" stroke-linejoin="round"/>
<path d="M291.6,442.3 L296.2,442.5 L296.0,437.9" fill="none" stroke="#f0a21e" stroke-width="1.1" stroke-linecap="round" stroke-linejoin="round"/>
<path d="M299.8,454.8 L295.2,455.3 L296.2,459.8" fill="none" stroke="#f0a21e" stroke-width="1.1" stroke-linecap="round" stroke-linejoin="round"/>
<path d="M351.3,406.1 L355.6,404.4 L353.4,400.3" fill="none" stroke="#f0a21e" stroke-width="1.1" stroke-linecap="round" stroke-linejoin="round"/>
<path d="M376.6,433.6 L373.2,430.5 L370.5,434.2" fill="none" stroke="#f0a21e" stroke-width="1.1" stroke-linecap="round" stroke-linejoin="round"/>
<path d="M378.2,456.0 L378.7,460.6 L383.2,459.6" fill="none" stroke="#f0a21e" stroke-width="1.1" stroke-linecap="round" stroke-linejoin="round"/>
<path d="M436.0,405.6 L440.6,406.2 L440.8,401.6" fill="none" stroke="#f0a21e" stroke-width="1.1" stroke-linecap="round" stroke-linejoin="round"/>
<path d="M436.9,410.9 L432.3,410.3 L432.1,414.9" fill="none" stroke="#f0a21e" stroke-width="1.1" stroke-linecap="round" stroke-linejoin="round"/>
</svg>
</body></html>
